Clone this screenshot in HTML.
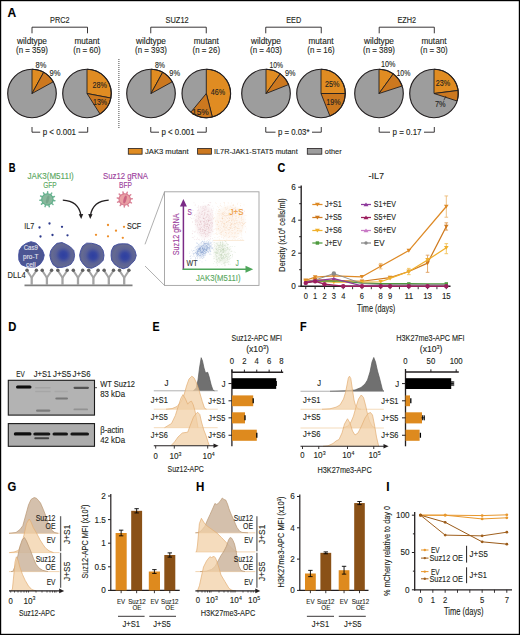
<!DOCTYPE html>
<html><head><meta charset="utf-8"><style>
html,body{margin:0;padding:0;background:#fff;width:520px;height:635px;overflow:hidden}
svg{display:block}
text{font-family:"Liberation Sans", sans-serif}
</style></head><body>
<svg width="520" height="635" viewBox="0 0 520 635">
<rect x="0" y="0" width="520" height="635" fill="#fff"/>
<text x="7.60" y="16.72" font-size="12" fill="#000" font-weight="bold" textLength="8.70" lengthAdjust="spacingAndGlyphs"  stroke="#000" stroke-width="0.12">A</text>
<text x="50.00" y="23.22" font-size="8.4" fill="#231f20" font-weight="normal" textLength="19.50" lengthAdjust="spacingAndGlyphs"  stroke="#231f20" stroke-width="0.12">PRC2</text>
<polyline points="32.00,33.30 32.00,27.20 87.50,27.20 87.50,33.30" fill="none" stroke="#231f20" stroke-width="0.9" />
<text x="17.00" y="43.55" font-size="8.2" fill="#231f20" font-weight="normal" textLength="30.00" lengthAdjust="spacingAndGlyphs"  stroke="#231f20" stroke-width="0.12">wildtype</text>
<text x="16.00" y="52.95" font-size="8.2" fill="#231f20" font-weight="normal" textLength="32.00" lengthAdjust="spacingAndGlyphs"  stroke="#231f20" stroke-width="0.12">(n = 359)</text>
<text x="74.50" y="43.55" font-size="8.2" fill="#231f20" font-weight="normal" textLength="25.00" lengthAdjust="spacingAndGlyphs"  stroke="#231f20" stroke-width="0.12">mutant</text>
<text x="73.25" y="52.95" font-size="8.2" fill="#231f20" font-weight="normal" textLength="27.50" lengthAdjust="spacingAndGlyphs"  stroke="#231f20" stroke-width="0.12">(n = 60)</text>
<circle cx="32" cy="93.5" r="24.3" fill="#9d9d9d"/>
<path d="M32,93.5 L32.00,69.20 A24.3,24.3 0 0 1 43.71,72.21 Z" fill="#e08c22" stroke="#231f20" stroke-width="0.9" stroke-linejoin="round"/>
<path d="M32,93.5 L43.71,72.21 A24.3,24.3 0 0 1 53.29,81.79 Z" fill="#cc781f" stroke="#231f20" stroke-width="0.9" stroke-linejoin="round"/>
<circle cx="32" cy="93.5" r="24.3" fill="none" stroke="#231f20" stroke-width="1.15"/>
<circle cx="87" cy="93.5" r="24.3" fill="#9d9d9d"/>
<path d="M87,93.5 L87.00,69.20 A24.3,24.3 0 0 1 110.87,98.05 Z" fill="#e08c22" stroke="#231f20" stroke-width="0.9" stroke-linejoin="round"/>
<path d="M87,93.5 L110.87,98.05 A24.3,24.3 0 0 1 100.02,114.02 Z" fill="#cc781f" stroke="#231f20" stroke-width="0.9" stroke-linejoin="round"/>
<circle cx="87" cy="93.5" r="24.3" fill="none" stroke="#231f20" stroke-width="1.15"/>
<text x="165.50" y="23.22" font-size="8.4" fill="#231f20" font-weight="normal" textLength="23.25" lengthAdjust="spacingAndGlyphs"  stroke="#231f20" stroke-width="0.12">SUZ12</text>
<polyline points="150.75,33.30 150.75,27.20 206.25,27.20 206.25,33.30" fill="none" stroke="#231f20" stroke-width="0.9" />
<text x="136.00" y="43.55" font-size="8.2" fill="#231f20" font-weight="normal" textLength="30.00" lengthAdjust="spacingAndGlyphs"  stroke="#231f20" stroke-width="0.12">wildtype</text>
<text x="135.00" y="52.95" font-size="8.2" fill="#231f20" font-weight="normal" textLength="32.00" lengthAdjust="spacingAndGlyphs"  stroke="#231f20" stroke-width="0.12">(n = 393)</text>
<text x="193.80" y="43.55" font-size="8.2" fill="#231f20" font-weight="normal" textLength="25.00" lengthAdjust="spacingAndGlyphs"  stroke="#231f20" stroke-width="0.12">mutant</text>
<text x="192.55" y="52.95" font-size="8.2" fill="#231f20" font-weight="normal" textLength="27.50" lengthAdjust="spacingAndGlyphs"  stroke="#231f20" stroke-width="0.12">(n = 26)</text>
<circle cx="151" cy="93.5" r="24.3" fill="#9d9d9d"/>
<path d="M151,93.5 L151.00,69.20 A24.3,24.3 0 0 1 162.71,72.21 Z" fill="#e08c22" stroke="#231f20" stroke-width="0.9" stroke-linejoin="round"/>
<path d="M151,93.5 L162.71,72.21 A24.3,24.3 0 0 1 172.29,81.79 Z" fill="#cc781f" stroke="#231f20" stroke-width="0.9" stroke-linejoin="round"/>
<circle cx="151" cy="93.5" r="24.3" fill="none" stroke="#231f20" stroke-width="1.15"/>
<circle cx="206.3" cy="93.5" r="24.3" fill="#9d9d9d"/>
<path d="M206.3,93.5 L206.30,69.20 A24.3,24.3 0 0 1 212.34,117.04 Z" fill="#e08c22" stroke="#231f20" stroke-width="0.9" stroke-linejoin="round"/>
<path d="M206.3,93.5 L212.34,117.04 A24.3,24.3 0 0 1 190.81,112.22 Z" fill="#cc781f" stroke="#231f20" stroke-width="0.9" stroke-linejoin="round"/>
<circle cx="206.3" cy="93.5" r="24.3" fill="none" stroke="#231f20" stroke-width="1.15"/>
<text x="286.25" y="23.22" font-size="8.4" fill="#231f20" font-weight="normal" textLength="15.00" lengthAdjust="spacingAndGlyphs"  stroke="#231f20" stroke-width="0.12">EED</text>
<polyline points="265.75,33.30 265.75,27.20 321.25,27.20 321.25,33.30" fill="none" stroke="#231f20" stroke-width="0.9" />
<text x="251.00" y="43.55" font-size="8.2" fill="#231f20" font-weight="normal" textLength="30.00" lengthAdjust="spacingAndGlyphs"  stroke="#231f20" stroke-width="0.12">wildtype</text>
<text x="250.00" y="52.95" font-size="8.2" fill="#231f20" font-weight="normal" textLength="32.00" lengthAdjust="spacingAndGlyphs"  stroke="#231f20" stroke-width="0.12">(n = 403)</text>
<text x="308.50" y="43.55" font-size="8.2" fill="#231f20" font-weight="normal" textLength="25.00" lengthAdjust="spacingAndGlyphs"  stroke="#231f20" stroke-width="0.12">mutant</text>
<text x="307.25" y="52.95" font-size="8.2" fill="#231f20" font-weight="normal" textLength="27.50" lengthAdjust="spacingAndGlyphs"  stroke="#231f20" stroke-width="0.12">(n = 16)</text>
<circle cx="266" cy="93.5" r="24.3" fill="#9d9d9d"/>
<path d="M266,93.5 L266.00,69.20 A24.3,24.3 0 0 1 280.28,73.84 Z" fill="#e08c22" stroke="#231f20" stroke-width="0.9" stroke-linejoin="round"/>
<path d="M266,93.5 L280.28,73.84 A24.3,24.3 0 0 1 288.59,84.55 Z" fill="#cc781f" stroke="#231f20" stroke-width="0.9" stroke-linejoin="round"/>
<circle cx="266" cy="93.5" r="24.3" fill="none" stroke="#231f20" stroke-width="1.15"/>
<circle cx="321" cy="93.5" r="24.3" fill="#9d9d9d"/>
<path d="M321,93.5 L321.00,69.20 A24.3,24.3 0 0 1 345.30,93.50 Z" fill="#e08c22" stroke="#231f20" stroke-width="0.9" stroke-linejoin="round"/>
<path d="M321,93.5 L345.30,93.50 A24.3,24.3 0 0 1 329.95,116.09 Z" fill="#cc781f" stroke="#231f20" stroke-width="0.9" stroke-linejoin="round"/>
<circle cx="321" cy="93.5" r="24.3" fill="none" stroke="#231f20" stroke-width="1.15"/>
<text x="397.40" y="23.22" font-size="8.4" fill="#231f20" font-weight="normal" textLength="18.70" lengthAdjust="spacingAndGlyphs"  stroke="#231f20" stroke-width="0.12">EZH2</text>
<polyline points="379.20,33.30 379.20,27.20 434.30,27.20 434.30,33.30" fill="none" stroke="#231f20" stroke-width="0.9" />
<text x="364.00" y="43.55" font-size="8.2" fill="#231f20" font-weight="normal" textLength="30.00" lengthAdjust="spacingAndGlyphs"  stroke="#231f20" stroke-width="0.12">wildtype</text>
<text x="363.00" y="52.95" font-size="8.2" fill="#231f20" font-weight="normal" textLength="32.00" lengthAdjust="spacingAndGlyphs"  stroke="#231f20" stroke-width="0.12">(n = 389)</text>
<text x="421.50" y="43.55" font-size="8.2" fill="#231f20" font-weight="normal" textLength="25.00" lengthAdjust="spacingAndGlyphs"  stroke="#231f20" stroke-width="0.12">mutant</text>
<text x="420.25" y="52.95" font-size="8.2" fill="#231f20" font-weight="normal" textLength="27.50" lengthAdjust="spacingAndGlyphs"  stroke="#231f20" stroke-width="0.12">(n = 30)</text>
<circle cx="379" cy="93.5" r="24.3" fill="#9d9d9d"/>
<path d="M379,93.5 L379.00,69.20 A24.3,24.3 0 0 1 393.28,73.84 Z" fill="#e08c22" stroke="#231f20" stroke-width="0.9" stroke-linejoin="round"/>
<path d="M379,93.5 L393.28,73.84 A24.3,24.3 0 0 1 402.11,85.99 Z" fill="#cc781f" stroke="#231f20" stroke-width="0.9" stroke-linejoin="round"/>
<circle cx="379" cy="93.5" r="24.3" fill="none" stroke="#231f20" stroke-width="1.15"/>
<circle cx="434" cy="93.5" r="24.3" fill="#9d9d9d"/>
<path d="M434,93.5 L434.00,69.20 A24.3,24.3 0 0 1 458.11,90.45 Z" fill="#e08c22" stroke="#231f20" stroke-width="0.9" stroke-linejoin="round"/>
<path d="M434,93.5 L458.11,90.45 A24.3,24.3 0 0 1 457.11,101.01 Z" fill="#cc781f" stroke="#231f20" stroke-width="0.9" stroke-linejoin="round"/>
<circle cx="434" cy="93.5" r="24.3" fill="none" stroke="#231f20" stroke-width="1.15"/>
<text x="35.50" y="67.54" font-size="9" fill="#231f20" font-weight="normal" textLength="10.75" lengthAdjust="spacingAndGlyphs"  stroke="#231f20" stroke-width="0.12">8%</text>
<text x="49.50" y="75.74" font-size="9" fill="#231f20" font-weight="normal" textLength="11.00" lengthAdjust="spacingAndGlyphs"  stroke="#231f20" stroke-width="0.12">9%</text>
<text x="92.50" y="87.54" font-size="9" fill="#231f20" font-weight="normal" textLength="14.50" lengthAdjust="spacingAndGlyphs"  stroke="#231f20" stroke-width="0.12">28%</text>
<text x="93.00" y="104.54" font-size="9" fill="#231f20" font-weight="normal" textLength="14.00" lengthAdjust="spacingAndGlyphs"  stroke="#231f20" stroke-width="0.12">13%</text>
<text x="155.00" y="67.54" font-size="9" fill="#231f20" font-weight="normal" textLength="10.00" lengthAdjust="spacingAndGlyphs"  stroke="#231f20" stroke-width="0.12">8%</text>
<text x="169.25" y="75.74" font-size="9" fill="#231f20" font-weight="normal" textLength="10.75" lengthAdjust="spacingAndGlyphs"  stroke="#231f20" stroke-width="0.12">9%</text>
<text x="210.75" y="94.54" font-size="9" fill="#231f20" font-weight="normal" textLength="14.25" lengthAdjust="spacingAndGlyphs"  stroke="#231f20" stroke-width="0.12">46%</text>
<text x="192.00" y="114.54" font-size="9" fill="#231f20" font-weight="normal" textLength="16.75" lengthAdjust="spacingAndGlyphs"  stroke="#231f20" stroke-width="0.12">15%</text>
<text x="269.50" y="67.54" font-size="9" fill="#231f20" font-weight="normal" textLength="13.50" lengthAdjust="spacingAndGlyphs"  stroke="#231f20" stroke-width="0.12">10%</text>
<text x="285.00" y="75.74" font-size="9" fill="#231f20" font-weight="normal" textLength="10.50" lengthAdjust="spacingAndGlyphs"  stroke="#231f20" stroke-width="0.12">9%</text>
<text x="325.00" y="87.04" font-size="9" fill="#231f20" font-weight="normal" textLength="14.50" lengthAdjust="spacingAndGlyphs"  stroke="#231f20" stroke-width="0.12">25%</text>
<text x="326.25" y="105.24" font-size="9" fill="#231f20" font-weight="normal" textLength="14.25" lengthAdjust="spacingAndGlyphs"  stroke="#231f20" stroke-width="0.12">19%</text>
<text x="381.00" y="67.04" font-size="9" fill="#231f20" font-weight="normal" textLength="14.40" lengthAdjust="spacingAndGlyphs"  stroke="#231f20" stroke-width="0.12">10%</text>
<text x="396.50" y="75.74" font-size="9" fill="#231f20" font-weight="normal" textLength="13.90" lengthAdjust="spacingAndGlyphs"  stroke="#231f20" stroke-width="0.12">10%</text>
<text x="435.80" y="85.54" font-size="9" fill="#231f20" font-weight="normal" textLength="14.40" lengthAdjust="spacingAndGlyphs"  stroke="#231f20" stroke-width="0.12">23%</text>
<text x="434.90" y="107.44" font-size="9" fill="#231f20" font-weight="normal" textLength="10.70" lengthAdjust="spacingAndGlyphs"  stroke="#231f20" stroke-width="0.12">7%</text>
<line x1="443.80" y1="100.30" x2="446.00" y2="96.00" stroke="#231f20" stroke-width="0.7" />
<line x1="118.90" y1="59.00" x2="118.90" y2="128.70" stroke="#333" stroke-width="0.9" stroke-dasharray="1 1"/>
<polyline points="32.00,127.00 32.00,132.20 40.20,132.20" fill="none" stroke="#231f20" stroke-width="0.9" />
<polyline points="78.50,132.20 87.70,132.20 87.70,127.00" fill="none" stroke="#231f20" stroke-width="0.9" />
<text x="42.70" y="135.15" font-size="8.2" fill="#231f20" font-weight="normal" textLength="33.30" lengthAdjust="spacingAndGlyphs"  stroke="#231f20" stroke-width="0.12">p &lt; 0.001</text>
<polyline points="150.75,127.00 150.75,132.20 159.00,132.20" fill="none" stroke="#231f20" stroke-width="0.9" />
<polyline points="197.00,132.20 206.25,132.20 206.25,127.00" fill="none" stroke="#231f20" stroke-width="0.9" />
<text x="161.50" y="135.15" font-size="8.2" fill="#231f20" font-weight="normal" textLength="33.00" lengthAdjust="spacingAndGlyphs"  stroke="#231f20" stroke-width="0.12">p &lt; 0.001</text>
<polyline points="265.75,127.00 265.75,132.20 275.50,132.20" fill="none" stroke="#231f20" stroke-width="0.9" />
<polyline points="312.00,132.20 321.25,132.20 321.25,127.00" fill="none" stroke="#231f20" stroke-width="0.9" />
<text x="278.00" y="135.15" font-size="8.2" fill="#231f20" font-weight="normal" textLength="31.50" lengthAdjust="spacingAndGlyphs"  stroke="#231f20" stroke-width="0.12">p = 0.03*</text>
<polyline points="379.20,127.00 379.20,132.20 390.00,132.20" fill="none" stroke="#231f20" stroke-width="0.9" />
<polyline points="424.00,132.20 434.30,132.20 434.30,127.00" fill="none" stroke="#231f20" stroke-width="0.9" />
<text x="392.50" y="135.15" font-size="8.2" fill="#231f20" font-weight="normal" textLength="29.00" lengthAdjust="spacingAndGlyphs"  stroke="#231f20" stroke-width="0.12">p = 0.17</text>
<rect x="128.30" y="148.40" width="13.80" height="5.80" fill="#e08c22" stroke="#231f20" stroke-width="0.8" />
<text x="145.00" y="154.38" font-size="8" fill="#231f20" font-weight="normal" textLength="43.60" lengthAdjust="spacingAndGlyphs"  stroke="#231f20" stroke-width="0.12">JAK3 mutant</text>
<rect x="197.60" y="148.40" width="13.80" height="5.80" fill="#cc781f" stroke="#231f20" stroke-width="0.8" />
<text x="214.00" y="154.38" font-size="8" fill="#231f20" font-weight="normal" textLength="83.70" lengthAdjust="spacingAndGlyphs"  stroke="#231f20" stroke-width="0.12">IL7R-JAK1-STAT5 mutant</text>
<rect x="307.30" y="148.40" width="14.50" height="5.80" fill="#9d9d9d" stroke="#231f20" stroke-width="0.8" />
<text x="324.80" y="154.38" font-size="8" fill="#231f20" font-weight="normal" textLength="16.80" lengthAdjust="spacingAndGlyphs"  stroke="#231f20" stroke-width="0.12">other</text>
<text x="8.80" y="171.92" font-size="12" fill="#000" font-weight="bold" textLength="6.80" lengthAdjust="spacingAndGlyphs"  stroke="#000" stroke-width="0.12">B</text>
<text x="27.50" y="178.52" font-size="8.4" fill="#5aa860" font-weight="normal" textLength="46.30" lengthAdjust="spacingAndGlyphs"  stroke="#5aa860" stroke-width="0.12">JAK3(M511I)</text>
<text x="43.25" y="187.52" font-size="8.4" fill="#5aa860" font-weight="normal" textLength="13.50" lengthAdjust="spacingAndGlyphs"  stroke="#5aa860" stroke-width="0.12">GFP</text>
<text x="103.00" y="178.52" font-size="8.4" fill="#9c3d9c" font-weight="normal" textLength="45.00" lengthAdjust="spacingAndGlyphs"  stroke="#9c3d9c" stroke-width="0.12">Suz12 gRNA</text>
<text x="119.00" y="187.52" font-size="8.4" fill="#9c3d9c" font-weight="normal" textLength="13.00" lengthAdjust="spacingAndGlyphs"  stroke="#9c3d9c" stroke-width="0.12">BFP</text>
<line x1="52.32" y1="200.27" x2="54.88" y2="200.72" stroke="#5fae8a" stroke-width="1.5" stroke-linecap="round" opacity="0.9"/>
<line x1="51.07" y1="202.79" x2="52.98" y2="204.56" stroke="#5fae8a" stroke-width="1.5" stroke-linecap="round" opacity="0.9"/>
<line x1="48.66" y1="204.24" x2="49.31" y2="206.76" stroke="#5fae8a" stroke-width="1.5" stroke-linecap="round" opacity="0.9"/>
<line x1="45.84" y1="204.15" x2="45.03" y2="206.62" stroke="#5fae8a" stroke-width="1.5" stroke-linecap="round" opacity="0.9"/>
<line x1="43.52" y1="202.55" x2="41.50" y2="204.19" stroke="#5fae8a" stroke-width="1.5" stroke-linecap="round" opacity="0.9"/>
<line x1="42.43" y1="199.95" x2="39.85" y2="200.24" stroke="#5fae8a" stroke-width="1.5" stroke-linecap="round" opacity="0.9"/>
<line x1="42.92" y1="197.18" x2="40.59" y2="196.03" stroke="#5fae8a" stroke-width="1.5" stroke-linecap="round" opacity="0.9"/>
<line x1="44.83" y1="195.11" x2="43.50" y2="192.88" stroke="#5fae8a" stroke-width="1.5" stroke-linecap="round" opacity="0.9"/>
<line x1="47.56" y1="194.40" x2="47.64" y2="191.80" stroke="#5fae8a" stroke-width="1.5" stroke-linecap="round" opacity="0.9"/>
<line x1="50.24" y1="195.28" x2="51.71" y2="193.14" stroke="#5fae8a" stroke-width="1.5" stroke-linecap="round" opacity="0.9"/>
<line x1="52.01" y1="197.47" x2="54.41" y2="196.46" stroke="#5fae8a" stroke-width="1.5" stroke-linecap="round" opacity="0.9"/>
<circle cx="47.4" cy="199.4" r="5.7" fill="#88b89c" stroke="#5fae8a" stroke-width="1.1"/>
<ellipse cx="47.699999999999996" cy="199.4" rx="1.4" ry="4.2" fill="#6a9a80" opacity="0.6" transform="rotate(15 47.4 199.4)"/>
<line x1="129.68" y1="198.96" x2="132.27" y2="198.74" stroke="#d6788e" stroke-width="1.5" stroke-linecap="round" opacity="0.9"/>
<line x1="129.13" y1="201.73" x2="131.43" y2="202.94" stroke="#d6788e" stroke-width="1.5" stroke-linecap="round" opacity="0.9"/>
<line x1="127.17" y1="203.75" x2="128.45" y2="206.01" stroke="#d6788e" stroke-width="1.5" stroke-linecap="round" opacity="0.9"/>
<line x1="124.42" y1="204.39" x2="124.28" y2="206.99" stroke="#d6788e" stroke-width="1.5" stroke-linecap="round" opacity="0.9"/>
<line x1="121.77" y1="203.45" x2="120.24" y2="205.56" stroke="#d6788e" stroke-width="1.5" stroke-linecap="round" opacity="0.9"/>
<line x1="120.04" y1="201.22" x2="117.62" y2="202.17" stroke="#d6788e" stroke-width="1.5" stroke-linecap="round" opacity="0.9"/>
<line x1="119.80" y1="198.41" x2="117.25" y2="197.90" stroke="#d6788e" stroke-width="1.5" stroke-linecap="round" opacity="0.9"/>
<line x1="121.11" y1="195.92" x2="119.24" y2="194.11" stroke="#d6788e" stroke-width="1.5" stroke-linecap="round" opacity="0.9"/>
<line x1="123.56" y1="194.53" x2="122.97" y2="192.00" stroke="#d6788e" stroke-width="1.5" stroke-linecap="round" opacity="0.9"/>
<line x1="126.37" y1="194.69" x2="127.24" y2="192.24" stroke="#d6788e" stroke-width="1.5" stroke-linecap="round" opacity="0.9"/>
<line x1="128.65" y1="196.34" x2="130.71" y2="194.75" stroke="#d6788e" stroke-width="1.5" stroke-linecap="round" opacity="0.9"/>
<circle cx="124.7" cy="199.4" r="5.7" fill="#e9a0a4" stroke="#d6788e" stroke-width="1.1"/>
<ellipse cx="125.0" cy="199.4" rx="1.4" ry="4.2" fill="#b83a6a" opacity="0.6" transform="rotate(15 124.7 199.4)"/>
<path d="M62.8,200.2 Q78.5,201 81,215.5" fill="none" stroke="#231f20" stroke-width="1.3"/>
<polygon points="78.80,214.20 83.20,214.00 81.20,219.00" fill="#231f20" stroke="none" stroke-width="1" />
<path d="M108.7,200.2 Q93,201 90.4,215.5" fill="none" stroke="#231f20" stroke-width="1.3"/>
<polygon points="88.20,214.00 92.60,214.20 90.20,219.00" fill="#231f20" stroke="none" stroke-width="1" />
<text x="24.20" y="228.52" font-size="8.4" fill="#231f20" font-weight="normal" textLength="10.00" lengthAdjust="spacingAndGlyphs"  stroke="#231f20" stroke-width="0.12">IL7</text>
<text x="126.90" y="228.82" font-size="8.4" fill="#231f20" font-weight="normal" textLength="14.30" lengthAdjust="spacingAndGlyphs"  stroke="#231f20" stroke-width="0.12">SCF</text>
<circle cx="39.5" cy="227.5" r="1.15" fill="#2d3a8c"/>
<circle cx="49.5" cy="223.5" r="1.15" fill="#2d3a8c"/>
<circle cx="62" cy="226.8" r="1.15" fill="#2d3a8c"/>
<circle cx="40.5" cy="236.5" r="1.15" fill="#2d3a8c"/>
<circle cx="52.5" cy="235" r="1.15" fill="#2d3a8c"/>
<circle cx="67.5" cy="235.3" r="1.15" fill="#2d3a8c"/>
<circle cx="108" cy="225" r="1.15" fill="#ee8f2a"/>
<circle cx="124" cy="226.8" r="1.15" fill="#ee8f2a"/>
<circle cx="116" cy="230.7" r="1.15" fill="#ee8f2a"/>
<circle cx="96" cy="234.8" r="1.15" fill="#ee8f2a"/>
<circle cx="108" cy="236.3" r="1.15" fill="#ee8f2a"/>
<circle cx="122.8" cy="237.8" r="1.15" fill="#ee8f2a"/>
<defs>
<radialGradient id="cellg" cx="0.55" cy="0.5" r="0.5">
<stop offset="0" stop-color="#2e3fa0"/>
<stop offset="0.28" stop-color="#3646a0"/>
<stop offset="0.6" stop-color="#5a6196"/>
<stop offset="0.9" stop-color="#656a90"/>
<stop offset="1" stop-color="#5f6593"/>
</radialGradient>
<filter id="blur1" x="-20%" y="-20%" width="140%" height="140%"><feGaussianBlur stdDeviation="1.2"/></filter>
</defs>
<path d="M44.27,255.10 L43.00,260.03 L40.17,264.20 L35.92,266.88 L31.00,267.10 L26.20,266.60 L21.36,264.66 L18.88,260.08 L18.67,255.10 L19.35,250.31 L22.07,246.24 L26.12,243.41 L31.00,241.70 L36.00,243.13 L39.46,246.70 L42.53,250.36 Z" fill="#4c5693" stroke="#3d4a9c" stroke-width="0.9" stroke-linejoin="round"/>
<path d="M74.59,255.40 L73.66,260.23 L70.89,264.29 L66.50,266.25 L62.00,267.37 L56.98,267.51 L52.92,264.48 L50.87,260.01 L49.79,255.40 L50.74,250.74 L53.35,246.75 L57.00,243.34 L62.00,242.57 L66.47,244.60 L70.46,246.94 L73.78,250.52 Z" fill="url(#cellg)" stroke="#3d4a9c" stroke-width="0.9" stroke-linejoin="round"/>
<path d="M104.00,255.30 L103.18,260.21 L99.88,263.79 L96.02,266.22 L91.60,268.29 L86.70,267.42 L83.11,264.00 L80.51,260.01 L79.60,255.30 L80.63,250.65 L82.63,246.11 L86.68,243.13 L91.60,243.29 L96.04,244.32 L100.36,246.32 L103.05,250.44 Z" fill="url(#cellg)" stroke="#3d4a9c" stroke-width="0.9" stroke-linejoin="round"/>
<path d="M136.26,255.50 L134.69,260.22 L131.51,263.74 L128.05,267.13 L123.20,268.74 L118.36,267.09 L114.44,264.19 L111.69,260.23 L111.06,255.50 L111.41,250.66 L113.69,246.06 L118.41,244.03 L123.20,243.74 L128.01,243.99 L132.26,246.52 L134.97,250.66 Z" fill="url(#cellg)" stroke="#3d4a9c" stroke-width="0.9" stroke-linejoin="round"/>
<text x="23.70" y="250.39" font-size="7.2" fill="#e4e4ee" font-weight="normal" textLength="14.20" lengthAdjust="spacingAndGlyphs"  stroke="#e4e4ee" stroke-width="0.12">Cas9</text>
<text x="23.10" y="259.09" font-size="7.2" fill="#e4e4ee" font-weight="normal" textLength="15.40" lengthAdjust="spacingAndGlyphs"  stroke="#e4e4ee" stroke-width="0.12">pro-T</text>
<text x="25.90" y="267.09" font-size="7.2" fill="#e4e4ee" font-weight="normal" textLength="9.80" lengthAdjust="spacingAndGlyphs"  stroke="#e4e4ee" stroke-width="0.12">cell</text>
<text x="7.60" y="277.62" font-size="8.4" fill="#231f20" font-weight="normal" textLength="18.00" lengthAdjust="spacingAndGlyphs"  stroke="#231f20" stroke-width="0.12">DLL4</text>
<line x1="24.50" y1="285.30" x2="132.50" y2="285.30" stroke="#808080" stroke-width="1.7" />
<line x1="31.70" y1="285.00" x2="31.70" y2="276.50" stroke="#a4a4a4" stroke-width="2.3" />
<polyline points="27.00,270.60 31.40,277.20 32.00,277.20 36.40,270.60" fill="none" stroke="#a4a4a4" stroke-width="2.0" stroke-linejoin="round"/>
<circle cx="27.00" cy="270.2" r="1.75" fill="#606060"/>
<circle cx="36.40" cy="270.2" r="1.75" fill="#606060"/>
<line x1="46.90" y1="285.00" x2="46.90" y2="276.50" stroke="#a4a4a4" stroke-width="2.3" />
<polyline points="42.20,270.60 46.60,277.20 47.20,277.20 51.60,270.60" fill="none" stroke="#a4a4a4" stroke-width="2.0" stroke-linejoin="round"/>
<circle cx="42.20" cy="270.2" r="1.75" fill="#606060"/>
<circle cx="51.60" cy="270.2" r="1.75" fill="#606060"/>
<line x1="62.50" y1="285.00" x2="62.50" y2="276.50" stroke="#a4a4a4" stroke-width="2.3" />
<polyline points="57.80,270.60 62.20,277.20 62.80,277.20 67.20,270.60" fill="none" stroke="#a4a4a4" stroke-width="2.0" stroke-linejoin="round"/>
<circle cx="57.80" cy="270.2" r="1.75" fill="#606060"/>
<circle cx="67.20" cy="270.2" r="1.75" fill="#606060"/>
<line x1="78.00" y1="285.00" x2="78.00" y2="276.50" stroke="#a4a4a4" stroke-width="2.3" />
<polyline points="73.30,270.60 77.70,277.20 78.30,277.20 82.70,270.60" fill="none" stroke="#a4a4a4" stroke-width="2.0" stroke-linejoin="round"/>
<circle cx="73.30" cy="270.2" r="1.75" fill="#606060"/>
<circle cx="82.70" cy="270.2" r="1.75" fill="#606060"/>
<line x1="93.40" y1="285.00" x2="93.40" y2="276.50" stroke="#a4a4a4" stroke-width="2.3" />
<polyline points="88.70,270.60 93.10,277.20 93.70,277.20 98.10,270.60" fill="none" stroke="#a4a4a4" stroke-width="2.0" stroke-linejoin="round"/>
<circle cx="88.70" cy="270.2" r="1.75" fill="#606060"/>
<circle cx="98.10" cy="270.2" r="1.75" fill="#606060"/>
<line x1="108.80" y1="285.00" x2="108.80" y2="276.50" stroke="#a4a4a4" stroke-width="2.3" />
<polyline points="104.10,270.60 108.50,277.20 109.10,277.20 113.50,270.60" fill="none" stroke="#a4a4a4" stroke-width="2.0" stroke-linejoin="round"/>
<circle cx="104.10" cy="270.2" r="1.75" fill="#606060"/>
<circle cx="113.50" cy="270.2" r="1.75" fill="#606060"/>
<line x1="124.20" y1="285.00" x2="124.20" y2="276.50" stroke="#a4a4a4" stroke-width="2.3" />
<polyline points="119.50,270.60 123.90,277.20 124.50,277.20 128.90,270.60" fill="none" stroke="#a4a4a4" stroke-width="2.0" stroke-linejoin="round"/>
<circle cx="119.50" cy="270.2" r="1.75" fill="#606060"/>
<circle cx="128.90" cy="270.2" r="1.75" fill="#606060"/>
<polyline points="164.50,191.80 145.00,244.30" fill="none" stroke="#9a9a9a" stroke-width="0.8" />
<polyline points="145.00,266.00 164.50,285.40" fill="none" stroke="#9a9a9a" stroke-width="0.8" />
<rect x="164.50" y="191.80" width="94.50" height="93.60" fill="none" stroke="#a0a0a0" stroke-width="0.9" />
<defs><clipPath id="qS"><rect x="190" y="202" width="23.3" height="38.4"/></clipPath><clipPath id="qJS"><rect x="213.3" y="202" width="33" height="38.4"/></clipPath><clipPath id="qWT"><rect x="188" y="240.4" width="25.3" height="22"/></clipPath><clipPath id="qJ"><rect x="213.3" y="240.4" width="24" height="26"/></clipPath></defs>
<g clip-path="url(#qS)">
<ellipse cx="205" cy="222" rx="9.75" ry="16.5" fill="#f0d8dc" opacity="0.35" filter="url(#blur1)" transform="rotate(0 205 222)"/>
<circle cx="203.3" cy="227.6" r="0.38" fill="#c88894" opacity="0.38"/>
<circle cx="203.5" cy="218.5" r="0.38" fill="#c88894" opacity="0.38"/>
<circle cx="199.0" cy="219.7" r="0.38" fill="#c88894" opacity="0.38"/>
<circle cx="212.2" cy="226.7" r="0.38" fill="#c88894" opacity="0.38"/>
<circle cx="211.7" cy="224.7" r="0.38" fill="#c88894" opacity="0.38"/>
<circle cx="207.6" cy="224.0" r="0.38" fill="#c88894" opacity="0.38"/>
<circle cx="194.2" cy="231.4" r="0.38" fill="#c88894" opacity="0.38"/>
<circle cx="208.3" cy="227.5" r="0.38" fill="#c88894" opacity="0.38"/>
<circle cx="194.0" cy="202.8" r="0.38" fill="#c88894" opacity="0.38"/>
<circle cx="199.2" cy="216.8" r="0.38" fill="#c88894" opacity="0.38"/>
<circle cx="207.0" cy="221.5" r="0.38" fill="#c88894" opacity="0.38"/>
<circle cx="208.4" cy="214.9" r="0.38" fill="#c88894" opacity="0.38"/>
<circle cx="207.0" cy="226.3" r="0.38" fill="#c88894" opacity="0.38"/>
<circle cx="200.7" cy="240.9" r="0.38" fill="#c88894" opacity="0.38"/>
<circle cx="208.6" cy="235.2" r="0.38" fill="#c88894" opacity="0.38"/>
<circle cx="201.0" cy="213.9" r="0.38" fill="#c88894" opacity="0.38"/>
<circle cx="202.8" cy="220.8" r="0.38" fill="#c88894" opacity="0.38"/>
<circle cx="209.1" cy="224.7" r="0.38" fill="#c88894" opacity="0.38"/>
<circle cx="202.1" cy="211.5" r="0.38" fill="#c88894" opacity="0.38"/>
<circle cx="201.6" cy="235.4" r="0.38" fill="#c88894" opacity="0.38"/>
<circle cx="199.7" cy="224.7" r="0.38" fill="#c88894" opacity="0.38"/>
<circle cx="207.8" cy="205.6" r="0.38" fill="#c88894" opacity="0.38"/>
<circle cx="205.3" cy="236.4" r="0.38" fill="#c88894" opacity="0.38"/>
<circle cx="191.9" cy="218.5" r="0.38" fill="#c88894" opacity="0.38"/>
<circle cx="204.3" cy="213.0" r="0.38" fill="#c88894" opacity="0.38"/>
<circle cx="208.2" cy="221.3" r="0.38" fill="#c88894" opacity="0.38"/>
<circle cx="195.5" cy="231.1" r="0.38" fill="#c88894" opacity="0.38"/>
<circle cx="209.4" cy="232.4" r="0.38" fill="#c88894" opacity="0.38"/>
<circle cx="214.4" cy="226.0" r="0.38" fill="#c88894" opacity="0.38"/>
<circle cx="205.8" cy="207.7" r="0.38" fill="#c88894" opacity="0.38"/>
<circle cx="209.0" cy="215.3" r="0.38" fill="#c88894" opacity="0.38"/>
<circle cx="202.1" cy="208.1" r="0.38" fill="#c88894" opacity="0.38"/>
<circle cx="198.7" cy="216.2" r="0.38" fill="#c88894" opacity="0.38"/>
<circle cx="213.4" cy="199.7" r="0.38" fill="#c88894" opacity="0.38"/>
<circle cx="195.5" cy="224.6" r="0.38" fill="#c88894" opacity="0.38"/>
<circle cx="214.4" cy="228.4" r="0.38" fill="#c88894" opacity="0.38"/>
<circle cx="192.7" cy="194.3" r="0.38" fill="#c88894" opacity="0.38"/>
<circle cx="207.3" cy="213.9" r="0.38" fill="#c88894" opacity="0.38"/>
<circle cx="197.7" cy="232.8" r="0.38" fill="#c88894" opacity="0.38"/>
<circle cx="212.2" cy="223.7" r="0.38" fill="#c88894" opacity="0.38"/>
<circle cx="206.6" cy="226.8" r="0.38" fill="#c88894" opacity="0.38"/>
<circle cx="215.4" cy="228.8" r="0.38" fill="#c88894" opacity="0.38"/>
<circle cx="208.4" cy="228.0" r="0.38" fill="#c88894" opacity="0.38"/>
<circle cx="194.8" cy="236.1" r="0.38" fill="#c88894" opacity="0.38"/>
<circle cx="211.2" cy="227.8" r="0.38" fill="#c88894" opacity="0.38"/>
<circle cx="192.2" cy="215.0" r="0.38" fill="#c88894" opacity="0.38"/>
<circle cx="210.5" cy="202.1" r="0.38" fill="#c88894" opacity="0.38"/>
<circle cx="203.8" cy="233.2" r="0.38" fill="#c88894" opacity="0.38"/>
<circle cx="196.5" cy="239.7" r="0.38" fill="#c88894" opacity="0.38"/>
<circle cx="208.6" cy="220.3" r="0.38" fill="#c88894" opacity="0.38"/>
<circle cx="207.1" cy="229.1" r="0.38" fill="#c88894" opacity="0.38"/>
<circle cx="205.8" cy="234.6" r="0.38" fill="#c88894" opacity="0.38"/>
<circle cx="200.7" cy="217.4" r="0.38" fill="#c88894" opacity="0.38"/>
<circle cx="211.8" cy="222.3" r="0.38" fill="#c88894" opacity="0.38"/>
<circle cx="199.3" cy="232.4" r="0.38" fill="#c88894" opacity="0.38"/>
<circle cx="214.5" cy="217.1" r="0.38" fill="#c88894" opacity="0.38"/>
<circle cx="196.0" cy="220.5" r="0.38" fill="#c88894" opacity="0.38"/>
<circle cx="204.0" cy="218.7" r="0.38" fill="#c88894" opacity="0.38"/>
<circle cx="214.1" cy="210.7" r="0.38" fill="#c88894" opacity="0.38"/>
<circle cx="213.2" cy="208.0" r="0.38" fill="#c88894" opacity="0.38"/>
<circle cx="199.9" cy="228.9" r="0.38" fill="#c88894" opacity="0.38"/>
<circle cx="212.3" cy="231.4" r="0.38" fill="#c88894" opacity="0.38"/>
<circle cx="207.2" cy="223.6" r="0.38" fill="#c88894" opacity="0.38"/>
<circle cx="206.0" cy="228.3" r="0.38" fill="#c88894" opacity="0.38"/>
<circle cx="203.9" cy="225.1" r="0.38" fill="#c88894" opacity="0.38"/>
<circle cx="208.7" cy="222.0" r="0.38" fill="#c88894" opacity="0.38"/>
<circle cx="210.0" cy="228.2" r="0.38" fill="#c88894" opacity="0.38"/>
<circle cx="218.1" cy="225.6" r="0.38" fill="#c88894" opacity="0.38"/>
<circle cx="202.2" cy="217.9" r="0.38" fill="#c88894" opacity="0.38"/>
<circle cx="204.9" cy="232.2" r="0.38" fill="#c88894" opacity="0.38"/>
<circle cx="202.8" cy="226.2" r="0.38" fill="#c88894" opacity="0.38"/>
<circle cx="216.9" cy="193.8" r="0.38" fill="#c88894" opacity="0.38"/>
<circle cx="197.7" cy="224.7" r="0.38" fill="#c88894" opacity="0.38"/>
<circle cx="207.6" cy="224.6" r="0.38" fill="#c88894" opacity="0.38"/>
<circle cx="202.2" cy="229.2" r="0.38" fill="#c88894" opacity="0.38"/>
<circle cx="206.8" cy="216.3" r="0.38" fill="#c88894" opacity="0.38"/>
<circle cx="220.8" cy="225.9" r="0.38" fill="#c88894" opacity="0.38"/>
<circle cx="201.4" cy="220.9" r="0.38" fill="#c88894" opacity="0.38"/>
<circle cx="203.5" cy="221.3" r="0.38" fill="#c88894" opacity="0.38"/>
<circle cx="187.3" cy="216.6" r="0.38" fill="#c88894" opacity="0.38"/>
<circle cx="211.6" cy="209.1" r="0.38" fill="#c88894" opacity="0.38"/>
<circle cx="204.6" cy="232.5" r="0.38" fill="#c88894" opacity="0.38"/>
<circle cx="210.6" cy="238.4" r="0.38" fill="#c88894" opacity="0.38"/>
<circle cx="193.9" cy="218.1" r="0.38" fill="#c88894" opacity="0.38"/>
<circle cx="202.8" cy="228.9" r="0.38" fill="#c88894" opacity="0.38"/>
<circle cx="212.1" cy="192.5" r="0.38" fill="#c88894" opacity="0.38"/>
<circle cx="212.1" cy="206.1" r="0.38" fill="#c88894" opacity="0.38"/>
<circle cx="209.4" cy="205.6" r="0.38" fill="#c88894" opacity="0.38"/>
<circle cx="206.1" cy="235.1" r="0.38" fill="#c88894" opacity="0.38"/>
<circle cx="204.0" cy="224.1" r="0.38" fill="#c88894" opacity="0.38"/>
<circle cx="210.2" cy="223.6" r="0.38" fill="#c88894" opacity="0.38"/>
<circle cx="204.4" cy="238.9" r="0.38" fill="#c88894" opacity="0.38"/>
<circle cx="211.8" cy="218.8" r="0.38" fill="#c88894" opacity="0.38"/>
<circle cx="222.8" cy="209.4" r="0.38" fill="#c88894" opacity="0.38"/>
<circle cx="210.9" cy="219.1" r="0.38" fill="#c88894" opacity="0.38"/>
<circle cx="205.9" cy="229.8" r="0.38" fill="#c88894" opacity="0.38"/>
<circle cx="206.4" cy="229.0" r="0.38" fill="#c88894" opacity="0.38"/>
<circle cx="195.1" cy="205.4" r="0.38" fill="#c88894" opacity="0.38"/>
<circle cx="209.0" cy="211.4" r="0.38" fill="#c88894" opacity="0.38"/>
<circle cx="198.3" cy="205.8" r="0.38" fill="#c88894" opacity="0.38"/>
<circle cx="213.2" cy="230.2" r="0.38" fill="#c88894" opacity="0.38"/>
<circle cx="214.6" cy="211.7" r="0.38" fill="#c88894" opacity="0.38"/>
<circle cx="205.0" cy="209.5" r="0.38" fill="#c88894" opacity="0.38"/>
<circle cx="210.0" cy="239.5" r="0.38" fill="#c88894" opacity="0.38"/>
<circle cx="199.2" cy="239.2" r="0.38" fill="#c88894" opacity="0.38"/>
<circle cx="211.4" cy="220.0" r="0.38" fill="#c88894" opacity="0.38"/>
<circle cx="192.2" cy="237.5" r="0.38" fill="#c88894" opacity="0.38"/>
<circle cx="204.4" cy="215.4" r="0.38" fill="#c88894" opacity="0.38"/>
<circle cx="207.6" cy="226.5" r="0.38" fill="#c88894" opacity="0.38"/>
<circle cx="214.7" cy="210.8" r="0.38" fill="#c88894" opacity="0.38"/>
<circle cx="212.4" cy="238.4" r="0.38" fill="#c88894" opacity="0.38"/>
<circle cx="214.4" cy="220.0" r="0.38" fill="#c88894" opacity="0.38"/>
<circle cx="200.2" cy="233.2" r="0.38" fill="#c88894" opacity="0.38"/>
<circle cx="205.7" cy="223.4" r="0.38" fill="#c88894" opacity="0.38"/>
<circle cx="214.3" cy="219.1" r="0.38" fill="#c88894" opacity="0.38"/>
<circle cx="190.1" cy="217.7" r="0.38" fill="#c88894" opacity="0.38"/>
<circle cx="192.9" cy="231.0" r="0.38" fill="#c88894" opacity="0.38"/>
<circle cx="207.1" cy="215.3" r="0.38" fill="#c88894" opacity="0.38"/>
<circle cx="204.9" cy="231.2" r="0.38" fill="#c88894" opacity="0.38"/>
<circle cx="205.5" cy="236.6" r="0.38" fill="#c88894" opacity="0.38"/>
<circle cx="204.6" cy="233.4" r="0.38" fill="#c88894" opacity="0.38"/>
<circle cx="214.7" cy="239.7" r="0.38" fill="#c88894" opacity="0.38"/>
<circle cx="200.6" cy="231.7" r="0.38" fill="#c88894" opacity="0.38"/>
<circle cx="192.8" cy="210.1" r="0.38" fill="#c88894" opacity="0.38"/>
<circle cx="192.2" cy="233.8" r="0.38" fill="#c88894" opacity="0.38"/>
<circle cx="197.0" cy="221.9" r="0.38" fill="#c88894" opacity="0.38"/>
<circle cx="203.8" cy="221.7" r="0.38" fill="#c88894" opacity="0.38"/>
<circle cx="201.2" cy="224.6" r="0.38" fill="#c88894" opacity="0.38"/>
<circle cx="216.6" cy="222.5" r="0.38" fill="#c88894" opacity="0.38"/>
<circle cx="208.5" cy="233.0" r="0.38" fill="#c88894" opacity="0.38"/>
<circle cx="203.7" cy="208.1" r="0.38" fill="#c88894" opacity="0.38"/>
<circle cx="201.4" cy="233.8" r="0.38" fill="#c88894" opacity="0.38"/>
<circle cx="194.3" cy="215.4" r="0.38" fill="#c88894" opacity="0.38"/>
<circle cx="211.5" cy="230.7" r="0.38" fill="#c88894" opacity="0.38"/>
<circle cx="205.0" cy="230.9" r="0.38" fill="#c88894" opacity="0.38"/>
<circle cx="206.1" cy="209.0" r="0.38" fill="#c88894" opacity="0.38"/>
<circle cx="194.8" cy="215.0" r="0.38" fill="#c88894" opacity="0.38"/>
<circle cx="211.0" cy="215.8" r="0.38" fill="#c88894" opacity="0.38"/>
<circle cx="199.1" cy="213.5" r="0.38" fill="#c88894" opacity="0.38"/>
<circle cx="195.0" cy="220.7" r="0.38" fill="#c88894" opacity="0.38"/>
<circle cx="197.3" cy="226.0" r="0.38" fill="#c88894" opacity="0.38"/>
<circle cx="189.7" cy="225.6" r="0.38" fill="#c88894" opacity="0.38"/>
<circle cx="200.8" cy="200.6" r="0.38" fill="#c88894" opacity="0.38"/>
<circle cx="209.7" cy="219.0" r="0.38" fill="#c88894" opacity="0.38"/>
<circle cx="190.5" cy="212.4" r="0.38" fill="#c88894" opacity="0.38"/>
<circle cx="206.9" cy="217.0" r="0.38" fill="#c88894" opacity="0.38"/>
<circle cx="210.1" cy="230.2" r="0.38" fill="#c88894" opacity="0.38"/>
<circle cx="209.3" cy="225.6" r="0.38" fill="#c88894" opacity="0.38"/>
<circle cx="213.7" cy="229.3" r="0.38" fill="#c88894" opacity="0.38"/>
<circle cx="207.9" cy="199.1" r="0.38" fill="#c88894" opacity="0.38"/>
<circle cx="210.8" cy="236.4" r="0.38" fill="#c88894" opacity="0.38"/>
<circle cx="203.1" cy="216.8" r="0.38" fill="#c88894" opacity="0.38"/>
<circle cx="217.6" cy="202.7" r="0.38" fill="#c88894" opacity="0.38"/>
<circle cx="208.0" cy="248.7" r="0.38" fill="#c88894" opacity="0.38"/>
<circle cx="199.0" cy="229.6" r="0.38" fill="#c88894" opacity="0.38"/>
<circle cx="217.3" cy="220.7" r="0.38" fill="#c88894" opacity="0.38"/>
<circle cx="208.6" cy="231.9" r="0.38" fill="#c88894" opacity="0.38"/>
<circle cx="199.1" cy="221.0" r="0.38" fill="#c88894" opacity="0.38"/>
<circle cx="206.9" cy="231.1" r="0.38" fill="#c88894" opacity="0.38"/>
<circle cx="204.8" cy="219.9" r="0.38" fill="#c88894" opacity="0.38"/>
<circle cx="198.4" cy="218.1" r="0.38" fill="#c88894" opacity="0.38"/>
<circle cx="210.8" cy="223.1" r="0.38" fill="#c88894" opacity="0.38"/>
<circle cx="199.5" cy="212.7" r="0.38" fill="#c88894" opacity="0.38"/>
<circle cx="222.3" cy="234.5" r="0.38" fill="#c88894" opacity="0.38"/>
<circle cx="209.1" cy="193.5" r="0.38" fill="#c88894" opacity="0.38"/>
<circle cx="209.0" cy="227.3" r="0.38" fill="#c88894" opacity="0.38"/>
<circle cx="215.9" cy="226.7" r="0.38" fill="#c88894" opacity="0.38"/>
<circle cx="204.6" cy="227.7" r="0.38" fill="#c88894" opacity="0.38"/>
<circle cx="192.4" cy="233.4" r="0.38" fill="#c88894" opacity="0.38"/>
<circle cx="207.1" cy="214.3" r="0.38" fill="#c88894" opacity="0.38"/>
<circle cx="213.6" cy="241.9" r="0.38" fill="#c88894" opacity="0.38"/>
<circle cx="195.9" cy="214.7" r="0.38" fill="#c88894" opacity="0.38"/>
<circle cx="206.9" cy="224.0" r="0.38" fill="#c88894" opacity="0.38"/>
<circle cx="202.4" cy="211.3" r="0.38" fill="#c88894" opacity="0.38"/>
<circle cx="218.8" cy="233.4" r="0.38" fill="#c88894" opacity="0.38"/>
<circle cx="197.2" cy="207.2" r="0.38" fill="#c88894" opacity="0.38"/>
<circle cx="216.1" cy="232.9" r="0.38" fill="#c88894" opacity="0.38"/>
<circle cx="216.8" cy="230.9" r="0.38" fill="#c88894" opacity="0.38"/>
<circle cx="199.3" cy="224.9" r="0.38" fill="#c88894" opacity="0.38"/>
<circle cx="191.0" cy="213.8" r="0.38" fill="#c88894" opacity="0.38"/>
<circle cx="204.6" cy="227.8" r="0.38" fill="#c88894" opacity="0.38"/>
<circle cx="200.3" cy="220.6" r="0.38" fill="#c88894" opacity="0.38"/>
<circle cx="208.0" cy="226.1" r="0.38" fill="#c88894" opacity="0.38"/>
<circle cx="209.1" cy="224.3" r="0.38" fill="#c88894" opacity="0.38"/>
<circle cx="202.9" cy="230.7" r="0.38" fill="#c88894" opacity="0.38"/>
<circle cx="205.3" cy="212.9" r="0.38" fill="#c88894" opacity="0.38"/>
<circle cx="200.9" cy="222.0" r="0.38" fill="#c88894" opacity="0.38"/>
<circle cx="204.3" cy="223.7" r="0.38" fill="#c88894" opacity="0.38"/>
<circle cx="205.0" cy="223.9" r="0.38" fill="#c88894" opacity="0.38"/>
<circle cx="204.1" cy="208.2" r="0.38" fill="#c88894" opacity="0.38"/>
<circle cx="207.7" cy="233.6" r="0.38" fill="#c88894" opacity="0.38"/>
<circle cx="207.8" cy="219.9" r="0.38" fill="#c88894" opacity="0.38"/>
<circle cx="207.9" cy="211.4" r="0.38" fill="#c88894" opacity="0.38"/>
<circle cx="192.7" cy="222.7" r="0.38" fill="#c88894" opacity="0.38"/>
<circle cx="199.0" cy="230.1" r="0.38" fill="#c88894" opacity="0.38"/>
<circle cx="198.0" cy="193.1" r="0.38" fill="#c88894" opacity="0.38"/>
<circle cx="198.2" cy="239.4" r="0.38" fill="#c88894" opacity="0.38"/>
<circle cx="202.5" cy="206.9" r="0.38" fill="#c88894" opacity="0.38"/>
<circle cx="200.0" cy="227.7" r="0.38" fill="#c88894" opacity="0.38"/>
<circle cx="208.2" cy="223.9" r="0.38" fill="#c88894" opacity="0.38"/>
<circle cx="214.6" cy="229.8" r="0.38" fill="#c88894" opacity="0.38"/>
<circle cx="204.9" cy="228.6" r="0.38" fill="#c88894" opacity="0.38"/>
<circle cx="215.8" cy="232.7" r="0.38" fill="#c88894" opacity="0.38"/>
<circle cx="211.7" cy="210.1" r="0.38" fill="#c88894" opacity="0.38"/>
<circle cx="204.0" cy="230.0" r="0.38" fill="#c88894" opacity="0.38"/>
<circle cx="203.1" cy="233.8" r="0.38" fill="#c88894" opacity="0.38"/>
<circle cx="208.9" cy="232.0" r="0.38" fill="#c88894" opacity="0.38"/>
<circle cx="203.6" cy="250.0" r="0.38" fill="#c88894" opacity="0.38"/>
<circle cx="213.1" cy="219.6" r="0.38" fill="#c88894" opacity="0.38"/>
<circle cx="205.6" cy="250.5" r="0.38" fill="#c88894" opacity="0.38"/>
<circle cx="202.8" cy="231.6" r="0.38" fill="#c88894" opacity="0.38"/>
<circle cx="211.4" cy="222.1" r="0.38" fill="#c88894" opacity="0.38"/>
<circle cx="197.4" cy="224.1" r="0.38" fill="#c88894" opacity="0.38"/>
<circle cx="207.3" cy="234.4" r="0.38" fill="#c88894" opacity="0.38"/>
<circle cx="210.1" cy="222.3" r="0.38" fill="#c88894" opacity="0.38"/>
<circle cx="210.5" cy="227.9" r="0.38" fill="#c88894" opacity="0.38"/>
<circle cx="206.3" cy="222.6" r="0.38" fill="#c88894" opacity="0.38"/>
<circle cx="203.4" cy="229.5" r="0.38" fill="#c88894" opacity="0.38"/>
<circle cx="198.1" cy="215.1" r="0.38" fill="#c88894" opacity="0.38"/>
<circle cx="205.0" cy="205.9" r="0.38" fill="#c88894" opacity="0.38"/>
<circle cx="202.2" cy="199.9" r="0.38" fill="#c88894" opacity="0.38"/>
<circle cx="200.6" cy="228.3" r="0.38" fill="#c88894" opacity="0.38"/>
<circle cx="208.7" cy="221.4" r="0.38" fill="#c88894" opacity="0.38"/>
<circle cx="203.5" cy="206.4" r="0.38" fill="#c88894" opacity="0.38"/>
<circle cx="216.9" cy="227.7" r="0.38" fill="#c88894" opacity="0.38"/>
<circle cx="212.1" cy="212.3" r="0.38" fill="#c88894" opacity="0.38"/>
<circle cx="203.8" cy="202.0" r="0.38" fill="#c88894" opacity="0.38"/>
<circle cx="210.1" cy="232.3" r="0.38" fill="#c88894" opacity="0.38"/>
<circle cx="192.7" cy="221.4" r="0.38" fill="#c88894" opacity="0.38"/>
<circle cx="209.1" cy="202.6" r="0.38" fill="#c88894" opacity="0.38"/>
<circle cx="193.1" cy="210.3" r="0.38" fill="#c88894" opacity="0.38"/>
<circle cx="200.9" cy="206.6" r="0.38" fill="#c88894" opacity="0.38"/>
<circle cx="205.2" cy="224.7" r="0.38" fill="#c88894" opacity="0.38"/>
<circle cx="209.1" cy="229.7" r="0.38" fill="#c88894" opacity="0.38"/>
<circle cx="214.8" cy="234.8" r="0.38" fill="#c88894" opacity="0.38"/>
<circle cx="196.5" cy="216.4" r="0.38" fill="#c88894" opacity="0.38"/>
<circle cx="198.1" cy="210.2" r="0.38" fill="#c88894" opacity="0.38"/>
<circle cx="204.5" cy="222.1" r="0.38" fill="#c88894" opacity="0.38"/>
<circle cx="208.2" cy="204.5" r="0.38" fill="#c88894" opacity="0.38"/>
<circle cx="197.0" cy="221.7" r="0.38" fill="#c88894" opacity="0.38"/>
<circle cx="203.7" cy="218.6" r="0.38" fill="#c88894" opacity="0.38"/>
<circle cx="204.6" cy="213.6" r="0.38" fill="#c88894" opacity="0.38"/>
<circle cx="209.6" cy="225.9" r="0.38" fill="#c88894" opacity="0.38"/>
<circle cx="204.4" cy="214.6" r="0.38" fill="#c88894" opacity="0.38"/>
<circle cx="203.9" cy="192.1" r="0.38" fill="#c88894" opacity="0.38"/>
<circle cx="198.6" cy="222.4" r="0.38" fill="#c88894" opacity="0.38"/>
<circle cx="195.2" cy="224.2" r="0.38" fill="#c88894" opacity="0.38"/>
<circle cx="206.0" cy="206.8" r="0.38" fill="#c88894" opacity="0.38"/>
<circle cx="203.4" cy="218.5" r="0.38" fill="#c88894" opacity="0.38"/>
<circle cx="208.0" cy="228.7" r="0.38" fill="#c88894" opacity="0.38"/>
<circle cx="204.8" cy="212.6" r="0.38" fill="#c88894" opacity="0.38"/>
<circle cx="204.1" cy="221.3" r="0.38" fill="#c88894" opacity="0.38"/>
<circle cx="209.8" cy="225.2" r="0.38" fill="#c88894" opacity="0.38"/>
<circle cx="200.3" cy="207.1" r="0.38" fill="#c88894" opacity="0.38"/>
<circle cx="202.6" cy="213.9" r="0.38" fill="#c88894" opacity="0.38"/>
<circle cx="197.8" cy="220.7" r="0.38" fill="#c88894" opacity="0.38"/>
<circle cx="201.8" cy="223.2" r="0.38" fill="#c88894" opacity="0.38"/>
<circle cx="208.4" cy="217.5" r="0.38" fill="#c88894" opacity="0.38"/>
<circle cx="220.1" cy="218.5" r="0.38" fill="#c88894" opacity="0.38"/>
<circle cx="212.2" cy="223.3" r="0.38" fill="#c88894" opacity="0.38"/>
<circle cx="212.3" cy="195.9" r="0.38" fill="#c88894" opacity="0.38"/>
<circle cx="200.1" cy="224.7" r="0.38" fill="#c88894" opacity="0.38"/>
<circle cx="208.9" cy="247.7" r="0.38" fill="#c88894" opacity="0.38"/>
<circle cx="207.1" cy="236.1" r="0.38" fill="#c88894" opacity="0.38"/>
<circle cx="210.0" cy="232.4" r="0.38" fill="#c88894" opacity="0.38"/>
<circle cx="208.3" cy="220.3" r="0.38" fill="#c88894" opacity="0.38"/>
<circle cx="208.3" cy="210.1" r="0.38" fill="#c88894" opacity="0.38"/>
<circle cx="212.7" cy="210.8" r="0.38" fill="#c88894" opacity="0.38"/>
<circle cx="206.6" cy="245.3" r="0.38" fill="#c88894" opacity="0.38"/>
<circle cx="203.5" cy="222.2" r="0.38" fill="#c88894" opacity="0.38"/>
<circle cx="212.6" cy="222.3" r="0.38" fill="#c88894" opacity="0.38"/>
<circle cx="199.8" cy="224.8" r="0.38" fill="#c88894" opacity="0.38"/>
<circle cx="208.8" cy="229.8" r="0.38" fill="#c88894" opacity="0.38"/>
<circle cx="200.0" cy="241.3" r="0.38" fill="#c88894" opacity="0.38"/>
<circle cx="215.8" cy="222.2" r="0.38" fill="#c88894" opacity="0.38"/>
<circle cx="206.7" cy="217.3" r="0.38" fill="#c88894" opacity="0.38"/>
<circle cx="214.2" cy="214.2" r="0.38" fill="#c88894" opacity="0.38"/>
<circle cx="209.4" cy="216.7" r="0.38" fill="#c88894" opacity="0.38"/>
<circle cx="200.5" cy="229.9" r="0.38" fill="#c88894" opacity="0.38"/>
<circle cx="213.7" cy="221.9" r="0.38" fill="#c88894" opacity="0.38"/>
<circle cx="200.6" cy="230.9" r="0.38" fill="#c88894" opacity="0.38"/>
<circle cx="204.7" cy="225.4" r="0.38" fill="#c88894" opacity="0.38"/>
<circle cx="214.9" cy="234.4" r="0.38" fill="#c88894" opacity="0.38"/>
<circle cx="201.6" cy="247.1" r="0.38" fill="#c88894" opacity="0.38"/>
<circle cx="205.0" cy="230.6" r="0.38" fill="#c88894" opacity="0.38"/>
<circle cx="200.8" cy="221.5" r="0.38" fill="#c88894" opacity="0.38"/>
<circle cx="193.6" cy="241.7" r="0.38" fill="#c88894" opacity="0.38"/>
<circle cx="213.9" cy="208.6" r="0.38" fill="#c88894" opacity="0.38"/>
<circle cx="195.2" cy="204.2" r="0.38" fill="#c88894" opacity="0.38"/>
<circle cx="212.6" cy="216.9" r="0.38" fill="#c88894" opacity="0.38"/>
<circle cx="204.6" cy="218.6" r="0.38" fill="#c88894" opacity="0.38"/>
<circle cx="204.2" cy="210.0" r="0.38" fill="#c88894" opacity="0.38"/>
<circle cx="205.2" cy="206.2" r="0.38" fill="#c88894" opacity="0.38"/>
<circle cx="204.5" cy="225.4" r="0.38" fill="#c88894" opacity="0.38"/>
<circle cx="208.0" cy="219.5" r="0.38" fill="#c88894" opacity="0.38"/>
<circle cx="199.1" cy="223.8" r="0.38" fill="#c88894" opacity="0.38"/>
<circle cx="201.8" cy="239.2" r="0.38" fill="#c88894" opacity="0.38"/>
<circle cx="210.0" cy="220.7" r="0.38" fill="#c88894" opacity="0.38"/>
<circle cx="201.9" cy="214.3" r="0.38" fill="#c88894" opacity="0.38"/>
<circle cx="198.9" cy="218.1" r="0.38" fill="#c88894" opacity="0.38"/>
<circle cx="206.9" cy="227.7" r="0.38" fill="#c88894" opacity="0.38"/>
<circle cx="208.7" cy="245.1" r="0.38" fill="#c88894" opacity="0.38"/>
<circle cx="200.4" cy="222.1" r="0.38" fill="#c88894" opacity="0.38"/>
<circle cx="223.2" cy="201.5" r="0.38" fill="#c88894" opacity="0.38"/>
<circle cx="201.6" cy="223.9" r="0.38" fill="#c88894" opacity="0.38"/>
<circle cx="206.0" cy="226.5" r="0.38" fill="#c88894" opacity="0.38"/>
<circle cx="203.4" cy="226.0" r="0.38" fill="#c88894" opacity="0.38"/>
<circle cx="205.3" cy="230.5" r="0.38" fill="#c88894" opacity="0.38"/>
<circle cx="192.7" cy="212.3" r="0.38" fill="#c88894" opacity="0.38"/>
<circle cx="205.0" cy="210.6" r="0.38" fill="#c88894" opacity="0.38"/>
<circle cx="198.2" cy="228.9" r="0.38" fill="#c88894" opacity="0.38"/>
<circle cx="200.8" cy="229.0" r="0.38" fill="#c88894" opacity="0.38"/>
<circle cx="209.8" cy="225.4" r="0.38" fill="#c88894" opacity="0.38"/>
<circle cx="208.3" cy="220.8" r="0.38" fill="#c88894" opacity="0.38"/>
<circle cx="195.8" cy="221.7" r="0.38" fill="#c88894" opacity="0.38"/>
<circle cx="208.0" cy="216.2" r="0.38" fill="#c88894" opacity="0.38"/>
<circle cx="204.4" cy="230.2" r="0.38" fill="#c88894" opacity="0.38"/>
<circle cx="199.3" cy="229.0" r="0.38" fill="#c88894" opacity="0.38"/>
<circle cx="217.1" cy="215.9" r="0.38" fill="#c88894" opacity="0.38"/>
<circle cx="206.0" cy="220.3" r="0.38" fill="#c88894" opacity="0.38"/>
<circle cx="215.0" cy="225.5" r="0.38" fill="#c88894" opacity="0.38"/>
<circle cx="210.8" cy="214.4" r="0.38" fill="#c88894" opacity="0.38"/>
<circle cx="204.9" cy="221.9" r="0.38" fill="#c88894" opacity="0.38"/>
<circle cx="193.5" cy="237.8" r="0.38" fill="#c88894" opacity="0.38"/>
<circle cx="210.8" cy="202.8" r="0.38" fill="#c88894" opacity="0.38"/>
<circle cx="209.8" cy="220.6" r="0.38" fill="#c88894" opacity="0.38"/>
<circle cx="207.9" cy="226.0" r="0.38" fill="#c88894" opacity="0.38"/>
<circle cx="195.3" cy="219.7" r="0.38" fill="#c88894" opacity="0.38"/>
<circle cx="214.7" cy="215.7" r="0.38" fill="#c88894" opacity="0.38"/>
<circle cx="198.4" cy="207.0" r="0.38" fill="#c88894" opacity="0.38"/>
<circle cx="197.1" cy="225.7" r="0.38" fill="#c88894" opacity="0.38"/>
<circle cx="216.0" cy="226.7" r="0.38" fill="#c88894" opacity="0.38"/>
<circle cx="206.6" cy="246.6" r="0.38" fill="#c88894" opacity="0.38"/>
<circle cx="201.6" cy="214.6" r="0.38" fill="#c88894" opacity="0.38"/>
<circle cx="208.4" cy="228.0" r="0.38" fill="#c88894" opacity="0.38"/>
<circle cx="198.4" cy="209.1" r="0.38" fill="#c88894" opacity="0.38"/>
<circle cx="206.9" cy="224.7" r="0.38" fill="#c88894" opacity="0.38"/>
<circle cx="196.5" cy="219.8" r="0.38" fill="#c88894" opacity="0.38"/>
<circle cx="201.5" cy="227.1" r="0.38" fill="#c88894" opacity="0.38"/>
<circle cx="204.2" cy="221.1" r="0.38" fill="#c88894" opacity="0.38"/>
<circle cx="202.7" cy="233.6" r="0.38" fill="#c88894" opacity="0.38"/>
<circle cx="214.0" cy="218.0" r="0.38" fill="#c88894" opacity="0.38"/>
<circle cx="210.5" cy="213.7" r="0.38" fill="#c88894" opacity="0.38"/>
<circle cx="205.5" cy="230.2" r="0.38" fill="#c88894" opacity="0.38"/>
<circle cx="214.8" cy="217.8" r="0.38" fill="#c88894" opacity="0.38"/>
<circle cx="204.5" cy="224.2" r="0.38" fill="#c88894" opacity="0.38"/>
<circle cx="195.3" cy="222.2" r="0.38" fill="#c88894" opacity="0.38"/>
<circle cx="200.6" cy="226.1" r="0.38" fill="#c88894" opacity="0.38"/>
<circle cx="197.7" cy="200.3" r="0.38" fill="#c88894" opacity="0.38"/>
<circle cx="205.2" cy="224.9" r="0.38" fill="#c88894" opacity="0.38"/>
<circle cx="201.4" cy="231.8" r="0.38" fill="#c88894" opacity="0.38"/>
<circle cx="203.2" cy="215.3" r="0.38" fill="#c88894" opacity="0.38"/>
<circle cx="208.1" cy="204.7" r="0.38" fill="#c88894" opacity="0.38"/>
<circle cx="200.6" cy="221.8" r="0.38" fill="#c88894" opacity="0.38"/>
<circle cx="210.5" cy="220.2" r="0.38" fill="#c88894" opacity="0.38"/>
<circle cx="207.0" cy="214.8" r="0.38" fill="#c88894" opacity="0.38"/>
<circle cx="207.0" cy="240.3" r="0.38" fill="#c88894" opacity="0.38"/>
<circle cx="200.5" cy="248.0" r="0.38" fill="#c88894" opacity="0.38"/>
<circle cx="200.8" cy="222.2" r="0.38" fill="#c88894" opacity="0.38"/>
<circle cx="206.1" cy="233.3" r="0.38" fill="#c88894" opacity="0.38"/>
<circle cx="197.0" cy="198.9" r="0.38" fill="#c88894" opacity="0.38"/>
<circle cx="208.9" cy="230.7" r="0.38" fill="#c88894" opacity="0.38"/>
<circle cx="209.1" cy="250.9" r="0.38" fill="#c88894" opacity="0.38"/>
<circle cx="206.3" cy="224.8" r="0.38" fill="#c88894" opacity="0.38"/>
<circle cx="211.0" cy="226.1" r="0.38" fill="#c88894" opacity="0.38"/>
<circle cx="215.8" cy="208.4" r="0.38" fill="#c88894" opacity="0.38"/>
<circle cx="202.6" cy="184.1" r="0.38" fill="#c88894" opacity="0.38"/>
<circle cx="210.3" cy="217.9" r="0.38" fill="#c88894" opacity="0.38"/>
<circle cx="211.0" cy="245.7" r="0.38" fill="#c88894" opacity="0.38"/>
<circle cx="205.0" cy="219.2" r="0.38" fill="#c88894" opacity="0.38"/>
<circle cx="201.8" cy="212.8" r="0.38" fill="#c88894" opacity="0.38"/>
<circle cx="200.9" cy="229.0" r="0.38" fill="#c88894" opacity="0.38"/>
<circle cx="205.2" cy="222.7" r="0.38" fill="#c88894" opacity="0.38"/>
<circle cx="203.9" cy="232.1" r="0.38" fill="#c88894" opacity="0.38"/>
<circle cx="208.2" cy="220.4" r="0.38" fill="#c88894" opacity="0.38"/>
<circle cx="209.3" cy="220.3" r="0.38" fill="#c88894" opacity="0.38"/>
<circle cx="197.5" cy="238.0" r="0.38" fill="#c88894" opacity="0.38"/>
<circle cx="208.0" cy="211.5" r="0.38" fill="#c88894" opacity="0.38"/>
<circle cx="212.0" cy="225.8" r="0.38" fill="#c88894" opacity="0.38"/>
<circle cx="194.8" cy="239.7" r="0.38" fill="#c88894" opacity="0.38"/>
<circle cx="207.2" cy="231.8" r="0.38" fill="#c88894" opacity="0.38"/>
<circle cx="206.3" cy="220.4" r="0.38" fill="#c88894" opacity="0.38"/>
<circle cx="194.9" cy="232.7" r="0.38" fill="#c88894" opacity="0.38"/>
<circle cx="205.2" cy="218.8" r="0.38" fill="#c88894" opacity="0.38"/>
<circle cx="207.3" cy="222.9" r="0.38" fill="#c88894" opacity="0.38"/>
<circle cx="209.4" cy="217.9" r="0.38" fill="#c88894" opacity="0.38"/>
<circle cx="204.8" cy="198.5" r="0.38" fill="#c88894" opacity="0.38"/>
<circle cx="202.2" cy="229.4" r="0.38" fill="#c88894" opacity="0.38"/>
<circle cx="213.7" cy="218.0" r="0.38" fill="#c88894" opacity="0.38"/>
<circle cx="204.2" cy="239.4" r="0.38" fill="#c88894" opacity="0.38"/>
<circle cx="202.9" cy="230.1" r="0.38" fill="#c88894" opacity="0.38"/>
<circle cx="215.9" cy="222.4" r="0.38" fill="#c88894" opacity="0.38"/>
<circle cx="213.0" cy="214.2" r="0.38" fill="#c88894" opacity="0.38"/>
<circle cx="206.3" cy="221.1" r="0.38" fill="#c88894" opacity="0.38"/>
<circle cx="205.7" cy="234.4" r="0.38" fill="#c88894" opacity="0.38"/>
<circle cx="220.5" cy="214.7" r="0.38" fill="#c88894" opacity="0.38"/>
<circle cx="201.3" cy="227.5" r="0.38" fill="#c88894" opacity="0.38"/>
<circle cx="198.1" cy="227.5" r="0.38" fill="#c88894" opacity="0.38"/>
<circle cx="208.7" cy="218.9" r="0.38" fill="#c88894" opacity="0.38"/>
<circle cx="208.5" cy="205.0" r="0.38" fill="#c88894" opacity="0.38"/>
<circle cx="209.9" cy="205.0" r="0.38" fill="#c88894" opacity="0.38"/>
<circle cx="200.5" cy="215.9" r="0.38" fill="#c88894" opacity="0.38"/>
<circle cx="202.4" cy="231.4" r="0.38" fill="#c88894" opacity="0.38"/>
<circle cx="205.5" cy="217.6" r="0.38" fill="#c88894" opacity="0.38"/>
<circle cx="208.5" cy="239.4" r="0.38" fill="#c88894" opacity="0.38"/>
<circle cx="205.0" cy="226.0" r="0.38" fill="#c88894" opacity="0.38"/>
<circle cx="213.1" cy="224.9" r="0.38" fill="#c88894" opacity="0.38"/>
<circle cx="196.7" cy="249.4" r="0.38" fill="#c88894" opacity="0.38"/>
<circle cx="219.4" cy="200.2" r="0.38" fill="#c88894" opacity="0.38"/>
<circle cx="204.7" cy="226.6" r="0.38" fill="#c88894" opacity="0.38"/>
<circle cx="211.3" cy="229.4" r="0.38" fill="#c88894" opacity="0.38"/>
<circle cx="203.2" cy="210.4" r="0.38" fill="#c88894" opacity="0.38"/>
<circle cx="205.7" cy="233.4" r="0.38" fill="#c88894" opacity="0.38"/>
<circle cx="197.9" cy="210.7" r="0.38" fill="#c88894" opacity="0.38"/>
<circle cx="204.8" cy="200.7" r="0.38" fill="#c88894" opacity="0.38"/>
<circle cx="203.3" cy="217.2" r="0.38" fill="#c88894" opacity="0.38"/>
<circle cx="207.9" cy="214.3" r="0.38" fill="#c88894" opacity="0.38"/>
<circle cx="199.3" cy="217.7" r="0.38" fill="#c88894" opacity="0.38"/>
<circle cx="204.7" cy="214.7" r="0.38" fill="#c88894" opacity="0.38"/>
<circle cx="205.1" cy="230.3" r="0.38" fill="#c88894" opacity="0.38"/>
</g>
<g clip-path="url(#qJS)">
<ellipse cx="230" cy="222" rx="15.0" ry="16.5" fill="#fbe8d6" opacity="0.35" filter="url(#blur1)" transform="rotate(0 230 222)"/>
<circle cx="241.9" cy="240.8" r="0.38" fill="#eeb07a" opacity="0.38"/>
<circle cx="222.2" cy="217.4" r="0.38" fill="#eeb07a" opacity="0.38"/>
<circle cx="205.2" cy="242.9" r="0.38" fill="#eeb07a" opacity="0.38"/>
<circle cx="222.8" cy="221.6" r="0.38" fill="#eeb07a" opacity="0.38"/>
<circle cx="235.2" cy="207.1" r="0.38" fill="#eeb07a" opacity="0.38"/>
<circle cx="234.6" cy="221.7" r="0.38" fill="#eeb07a" opacity="0.38"/>
<circle cx="211.7" cy="225.2" r="0.38" fill="#eeb07a" opacity="0.38"/>
<circle cx="241.9" cy="201.5" r="0.38" fill="#eeb07a" opacity="0.38"/>
<circle cx="238.1" cy="224.3" r="0.38" fill="#eeb07a" opacity="0.38"/>
<circle cx="234.7" cy="226.9" r="0.38" fill="#eeb07a" opacity="0.38"/>
<circle cx="243.0" cy="219.5" r="0.38" fill="#eeb07a" opacity="0.38"/>
<circle cx="238.7" cy="217.5" r="0.38" fill="#eeb07a" opacity="0.38"/>
<circle cx="237.3" cy="213.0" r="0.38" fill="#eeb07a" opacity="0.38"/>
<circle cx="228.9" cy="241.0" r="0.38" fill="#eeb07a" opacity="0.38"/>
<circle cx="234.5" cy="220.3" r="0.38" fill="#eeb07a" opacity="0.38"/>
<circle cx="218.6" cy="213.3" r="0.38" fill="#eeb07a" opacity="0.38"/>
<circle cx="231.9" cy="232.3" r="0.38" fill="#eeb07a" opacity="0.38"/>
<circle cx="234.3" cy="227.8" r="0.38" fill="#eeb07a" opacity="0.38"/>
<circle cx="229.6" cy="236.9" r="0.38" fill="#eeb07a" opacity="0.38"/>
<circle cx="226.1" cy="216.0" r="0.38" fill="#eeb07a" opacity="0.38"/>
<circle cx="238.9" cy="222.7" r="0.38" fill="#eeb07a" opacity="0.38"/>
<circle cx="227.2" cy="215.7" r="0.38" fill="#eeb07a" opacity="0.38"/>
<circle cx="227.4" cy="228.9" r="0.38" fill="#eeb07a" opacity="0.38"/>
<circle cx="233.5" cy="208.7" r="0.38" fill="#eeb07a" opacity="0.38"/>
<circle cx="234.3" cy="224.0" r="0.38" fill="#eeb07a" opacity="0.38"/>
<circle cx="220.0" cy="230.5" r="0.38" fill="#eeb07a" opacity="0.38"/>
<circle cx="227.2" cy="218.3" r="0.38" fill="#eeb07a" opacity="0.38"/>
<circle cx="238.0" cy="236.5" r="0.38" fill="#eeb07a" opacity="0.38"/>
<circle cx="223.1" cy="226.8" r="0.38" fill="#eeb07a" opacity="0.38"/>
<circle cx="221.2" cy="247.5" r="0.38" fill="#eeb07a" opacity="0.38"/>
<circle cx="225.1" cy="235.1" r="0.38" fill="#eeb07a" opacity="0.38"/>
<circle cx="223.5" cy="230.9" r="0.38" fill="#eeb07a" opacity="0.38"/>
<circle cx="252.2" cy="194.0" r="0.38" fill="#eeb07a" opacity="0.38"/>
<circle cx="225.7" cy="227.5" r="0.38" fill="#eeb07a" opacity="0.38"/>
<circle cx="229.1" cy="214.6" r="0.38" fill="#eeb07a" opacity="0.38"/>
<circle cx="251.5" cy="222.9" r="0.38" fill="#eeb07a" opacity="0.38"/>
<circle cx="213.6" cy="231.4" r="0.38" fill="#eeb07a" opacity="0.38"/>
<circle cx="212.8" cy="234.7" r="0.38" fill="#eeb07a" opacity="0.38"/>
<circle cx="224.2" cy="223.6" r="0.38" fill="#eeb07a" opacity="0.38"/>
<circle cx="242.6" cy="223.3" r="0.38" fill="#eeb07a" opacity="0.38"/>
<circle cx="216.1" cy="203.3" r="0.38" fill="#eeb07a" opacity="0.38"/>
<circle cx="241.8" cy="230.1" r="0.38" fill="#eeb07a" opacity="0.38"/>
<circle cx="221.8" cy="231.5" r="0.38" fill="#eeb07a" opacity="0.38"/>
<circle cx="235.0" cy="229.1" r="0.38" fill="#eeb07a" opacity="0.38"/>
<circle cx="207.4" cy="218.7" r="0.38" fill="#eeb07a" opacity="0.38"/>
<circle cx="239.0" cy="230.1" r="0.38" fill="#eeb07a" opacity="0.38"/>
<circle cx="238.8" cy="195.0" r="0.38" fill="#eeb07a" opacity="0.38"/>
<circle cx="231.7" cy="227.4" r="0.38" fill="#eeb07a" opacity="0.38"/>
<circle cx="255.5" cy="211.5" r="0.38" fill="#eeb07a" opacity="0.38"/>
<circle cx="226.7" cy="222.4" r="0.38" fill="#eeb07a" opacity="0.38"/>
<circle cx="238.9" cy="217.1" r="0.38" fill="#eeb07a" opacity="0.38"/>
<circle cx="241.5" cy="213.3" r="0.38" fill="#eeb07a" opacity="0.38"/>
<circle cx="232.7" cy="216.2" r="0.38" fill="#eeb07a" opacity="0.38"/>
<circle cx="231.6" cy="214.4" r="0.38" fill="#eeb07a" opacity="0.38"/>
<circle cx="214.0" cy="234.0" r="0.38" fill="#eeb07a" opacity="0.38"/>
<circle cx="233.0" cy="215.9" r="0.38" fill="#eeb07a" opacity="0.38"/>
<circle cx="232.0" cy="232.9" r="0.38" fill="#eeb07a" opacity="0.38"/>
<circle cx="220.2" cy="220.8" r="0.38" fill="#eeb07a" opacity="0.38"/>
<circle cx="235.4" cy="227.8" r="0.38" fill="#eeb07a" opacity="0.38"/>
<circle cx="226.6" cy="198.8" r="0.38" fill="#eeb07a" opacity="0.38"/>
<circle cx="242.4" cy="225.6" r="0.38" fill="#eeb07a" opacity="0.38"/>
<circle cx="230.1" cy="218.9" r="0.38" fill="#eeb07a" opacity="0.38"/>
<circle cx="232.6" cy="217.3" r="0.38" fill="#eeb07a" opacity="0.38"/>
<circle cx="219.8" cy="213.9" r="0.38" fill="#eeb07a" opacity="0.38"/>
<circle cx="224.0" cy="215.3" r="0.38" fill="#eeb07a" opacity="0.38"/>
<circle cx="218.4" cy="229.0" r="0.38" fill="#eeb07a" opacity="0.38"/>
<circle cx="216.9" cy="229.3" r="0.38" fill="#eeb07a" opacity="0.38"/>
<circle cx="219.9" cy="225.9" r="0.38" fill="#eeb07a" opacity="0.38"/>
<circle cx="243.7" cy="224.2" r="0.38" fill="#eeb07a" opacity="0.38"/>
<circle cx="222.7" cy="222.5" r="0.38" fill="#eeb07a" opacity="0.38"/>
<circle cx="231.5" cy="202.9" r="0.38" fill="#eeb07a" opacity="0.38"/>
<circle cx="223.9" cy="223.8" r="0.38" fill="#eeb07a" opacity="0.38"/>
<circle cx="225.3" cy="222.9" r="0.38" fill="#eeb07a" opacity="0.38"/>
<circle cx="237.3" cy="230.4" r="0.38" fill="#eeb07a" opacity="0.38"/>
<circle cx="239.1" cy="228.5" r="0.38" fill="#eeb07a" opacity="0.38"/>
<circle cx="227.1" cy="221.8" r="0.38" fill="#eeb07a" opacity="0.38"/>
<circle cx="227.3" cy="218.6" r="0.38" fill="#eeb07a" opacity="0.38"/>
<circle cx="228.2" cy="203.0" r="0.38" fill="#eeb07a" opacity="0.38"/>
<circle cx="226.7" cy="221.7" r="0.38" fill="#eeb07a" opacity="0.38"/>
<circle cx="220.3" cy="221.7" r="0.38" fill="#eeb07a" opacity="0.38"/>
<circle cx="235.2" cy="220.2" r="0.38" fill="#eeb07a" opacity="0.38"/>
<circle cx="250.8" cy="193.3" r="0.38" fill="#eeb07a" opacity="0.38"/>
<circle cx="227.9" cy="201.9" r="0.38" fill="#eeb07a" opacity="0.38"/>
<circle cx="239.8" cy="251.2" r="0.38" fill="#eeb07a" opacity="0.38"/>
<circle cx="205.0" cy="223.4" r="0.38" fill="#eeb07a" opacity="0.38"/>
<circle cx="235.2" cy="218.7" r="0.38" fill="#eeb07a" opacity="0.38"/>
<circle cx="235.5" cy="197.3" r="0.38" fill="#eeb07a" opacity="0.38"/>
<circle cx="238.5" cy="226.1" r="0.38" fill="#eeb07a" opacity="0.38"/>
<circle cx="230.2" cy="215.5" r="0.38" fill="#eeb07a" opacity="0.38"/>
<circle cx="236.4" cy="216.7" r="0.38" fill="#eeb07a" opacity="0.38"/>
<circle cx="232.2" cy="216.4" r="0.38" fill="#eeb07a" opacity="0.38"/>
<circle cx="207.5" cy="221.7" r="0.38" fill="#eeb07a" opacity="0.38"/>
<circle cx="232.0" cy="230.3" r="0.38" fill="#eeb07a" opacity="0.38"/>
<circle cx="221.2" cy="221.6" r="0.38" fill="#eeb07a" opacity="0.38"/>
<circle cx="236.2" cy="223.6" r="0.38" fill="#eeb07a" opacity="0.38"/>
<circle cx="242.4" cy="243.9" r="0.38" fill="#eeb07a" opacity="0.38"/>
<circle cx="220.9" cy="200.9" r="0.38" fill="#eeb07a" opacity="0.38"/>
<circle cx="238.6" cy="238.8" r="0.38" fill="#eeb07a" opacity="0.38"/>
<circle cx="239.2" cy="231.0" r="0.38" fill="#eeb07a" opacity="0.38"/>
<circle cx="223.8" cy="214.2" r="0.38" fill="#eeb07a" opacity="0.38"/>
<circle cx="238.9" cy="212.0" r="0.38" fill="#eeb07a" opacity="0.38"/>
<circle cx="211.9" cy="211.0" r="0.38" fill="#eeb07a" opacity="0.38"/>
<circle cx="254.9" cy="243.2" r="0.38" fill="#eeb07a" opacity="0.38"/>
<circle cx="223.1" cy="214.0" r="0.38" fill="#eeb07a" opacity="0.38"/>
<circle cx="232.3" cy="213.8" r="0.38" fill="#eeb07a" opacity="0.38"/>
<circle cx="243.1" cy="221.1" r="0.38" fill="#eeb07a" opacity="0.38"/>
<circle cx="219.1" cy="236.4" r="0.38" fill="#eeb07a" opacity="0.38"/>
<circle cx="224.2" cy="224.4" r="0.38" fill="#eeb07a" opacity="0.38"/>
<circle cx="229.9" cy="218.5" r="0.38" fill="#eeb07a" opacity="0.38"/>
<circle cx="233.2" cy="214.4" r="0.38" fill="#eeb07a" opacity="0.38"/>
<circle cx="211.6" cy="197.7" r="0.38" fill="#eeb07a" opacity="0.38"/>
<circle cx="217.3" cy="213.7" r="0.38" fill="#eeb07a" opacity="0.38"/>
<circle cx="229.8" cy="222.6" r="0.38" fill="#eeb07a" opacity="0.38"/>
<circle cx="235.6" cy="223.3" r="0.38" fill="#eeb07a" opacity="0.38"/>
<circle cx="222.1" cy="214.2" r="0.38" fill="#eeb07a" opacity="0.38"/>
<circle cx="208.8" cy="220.1" r="0.38" fill="#eeb07a" opacity="0.38"/>
<circle cx="234.8" cy="227.8" r="0.38" fill="#eeb07a" opacity="0.38"/>
<circle cx="228.8" cy="220.1" r="0.38" fill="#eeb07a" opacity="0.38"/>
<circle cx="239.4" cy="222.2" r="0.38" fill="#eeb07a" opacity="0.38"/>
<circle cx="237.4" cy="228.4" r="0.38" fill="#eeb07a" opacity="0.38"/>
<circle cx="232.1" cy="236.4" r="0.38" fill="#eeb07a" opacity="0.38"/>
<circle cx="224.3" cy="218.1" r="0.38" fill="#eeb07a" opacity="0.38"/>
<circle cx="221.9" cy="213.2" r="0.38" fill="#eeb07a" opacity="0.38"/>
<circle cx="245.6" cy="241.4" r="0.38" fill="#eeb07a" opacity="0.38"/>
<circle cx="230.2" cy="228.3" r="0.38" fill="#eeb07a" opacity="0.38"/>
<circle cx="241.8" cy="230.9" r="0.38" fill="#eeb07a" opacity="0.38"/>
<circle cx="242.1" cy="208.1" r="0.38" fill="#eeb07a" opacity="0.38"/>
<circle cx="223.6" cy="227.0" r="0.38" fill="#eeb07a" opacity="0.38"/>
<circle cx="244.4" cy="223.1" r="0.38" fill="#eeb07a" opacity="0.38"/>
<circle cx="221.4" cy="218.1" r="0.38" fill="#eeb07a" opacity="0.38"/>
<circle cx="223.4" cy="212.6" r="0.38" fill="#eeb07a" opacity="0.38"/>
<circle cx="245.0" cy="215.1" r="0.38" fill="#eeb07a" opacity="0.38"/>
<circle cx="230.2" cy="245.8" r="0.38" fill="#eeb07a" opacity="0.38"/>
<circle cx="241.8" cy="225.7" r="0.38" fill="#eeb07a" opacity="0.38"/>
<circle cx="223.9" cy="226.5" r="0.38" fill="#eeb07a" opacity="0.38"/>
<circle cx="246.2" cy="228.9" r="0.38" fill="#eeb07a" opacity="0.38"/>
<circle cx="242.6" cy="223.1" r="0.38" fill="#eeb07a" opacity="0.38"/>
<circle cx="235.2" cy="219.8" r="0.38" fill="#eeb07a" opacity="0.38"/>
<circle cx="234.3" cy="236.3" r="0.38" fill="#eeb07a" opacity="0.38"/>
<circle cx="215.7" cy="221.3" r="0.38" fill="#eeb07a" opacity="0.38"/>
<circle cx="232.4" cy="215.7" r="0.38" fill="#eeb07a" opacity="0.38"/>
<circle cx="226.9" cy="230.7" r="0.38" fill="#eeb07a" opacity="0.38"/>
<circle cx="250.0" cy="228.9" r="0.38" fill="#eeb07a" opacity="0.38"/>
<circle cx="233.3" cy="204.9" r="0.38" fill="#eeb07a" opacity="0.38"/>
<circle cx="249.3" cy="222.8" r="0.38" fill="#eeb07a" opacity="0.38"/>
<circle cx="229.7" cy="209.7" r="0.38" fill="#eeb07a" opacity="0.38"/>
<circle cx="229.4" cy="209.9" r="0.38" fill="#eeb07a" opacity="0.38"/>
<circle cx="230.7" cy="227.1" r="0.38" fill="#eeb07a" opacity="0.38"/>
<circle cx="230.3" cy="225.1" r="0.38" fill="#eeb07a" opacity="0.38"/>
<circle cx="221.5" cy="237.7" r="0.38" fill="#eeb07a" opacity="0.38"/>
<circle cx="223.5" cy="202.0" r="0.38" fill="#eeb07a" opacity="0.38"/>
<circle cx="228.1" cy="213.6" r="0.38" fill="#eeb07a" opacity="0.38"/>
<circle cx="219.9" cy="218.1" r="0.38" fill="#eeb07a" opacity="0.38"/>
<circle cx="232.9" cy="209.0" r="0.38" fill="#eeb07a" opacity="0.38"/>
<circle cx="228.6" cy="237.7" r="0.38" fill="#eeb07a" opacity="0.38"/>
<circle cx="236.8" cy="220.3" r="0.38" fill="#eeb07a" opacity="0.38"/>
<circle cx="231.3" cy="220.7" r="0.38" fill="#eeb07a" opacity="0.38"/>
<circle cx="229.5" cy="230.1" r="0.38" fill="#eeb07a" opacity="0.38"/>
<circle cx="229.1" cy="195.6" r="0.38" fill="#eeb07a" opacity="0.38"/>
<circle cx="229.8" cy="212.2" r="0.38" fill="#eeb07a" opacity="0.38"/>
<circle cx="236.5" cy="215.3" r="0.38" fill="#eeb07a" opacity="0.38"/>
<circle cx="231.5" cy="246.0" r="0.38" fill="#eeb07a" opacity="0.38"/>
<circle cx="219.5" cy="209.6" r="0.38" fill="#eeb07a" opacity="0.38"/>
<circle cx="215.9" cy="195.7" r="0.38" fill="#eeb07a" opacity="0.38"/>
<circle cx="211.2" cy="226.0" r="0.38" fill="#eeb07a" opacity="0.38"/>
<circle cx="223.6" cy="201.5" r="0.38" fill="#eeb07a" opacity="0.38"/>
<circle cx="215.2" cy="228.8" r="0.38" fill="#eeb07a" opacity="0.38"/>
<circle cx="222.2" cy="218.0" r="0.38" fill="#eeb07a" opacity="0.38"/>
<circle cx="233.3" cy="236.9" r="0.38" fill="#eeb07a" opacity="0.38"/>
<circle cx="249.4" cy="233.4" r="0.38" fill="#eeb07a" opacity="0.38"/>
<circle cx="231.4" cy="224.0" r="0.38" fill="#eeb07a" opacity="0.38"/>
<circle cx="248.0" cy="237.7" r="0.38" fill="#eeb07a" opacity="0.38"/>
<circle cx="226.9" cy="227.0" r="0.38" fill="#eeb07a" opacity="0.38"/>
<circle cx="232.9" cy="222.6" r="0.38" fill="#eeb07a" opacity="0.38"/>
<circle cx="225.0" cy="207.4" r="0.38" fill="#eeb07a" opacity="0.38"/>
<circle cx="224.7" cy="205.0" r="0.38" fill="#eeb07a" opacity="0.38"/>
<circle cx="242.2" cy="227.9" r="0.38" fill="#eeb07a" opacity="0.38"/>
<circle cx="217.9" cy="237.4" r="0.38" fill="#eeb07a" opacity="0.38"/>
<circle cx="238.9" cy="201.0" r="0.38" fill="#eeb07a" opacity="0.38"/>
<circle cx="248.4" cy="230.9" r="0.38" fill="#eeb07a" opacity="0.38"/>
<circle cx="250.6" cy="208.5" r="0.38" fill="#eeb07a" opacity="0.38"/>
<circle cx="235.3" cy="226.7" r="0.38" fill="#eeb07a" opacity="0.38"/>
<circle cx="232.0" cy="223.9" r="0.38" fill="#eeb07a" opacity="0.38"/>
<circle cx="240.5" cy="205.6" r="0.38" fill="#eeb07a" opacity="0.38"/>
<circle cx="217.6" cy="206.7" r="0.38" fill="#eeb07a" opacity="0.38"/>
<circle cx="224.4" cy="215.3" r="0.38" fill="#eeb07a" opacity="0.38"/>
<circle cx="233.7" cy="224.9" r="0.38" fill="#eeb07a" opacity="0.38"/>
<circle cx="230.3" cy="214.6" r="0.38" fill="#eeb07a" opacity="0.38"/>
<circle cx="225.6" cy="232.5" r="0.38" fill="#eeb07a" opacity="0.38"/>
<circle cx="237.6" cy="223.1" r="0.38" fill="#eeb07a" opacity="0.38"/>
<circle cx="226.8" cy="239.1" r="0.38" fill="#eeb07a" opacity="0.38"/>
<circle cx="224.1" cy="229.1" r="0.38" fill="#eeb07a" opacity="0.38"/>
<circle cx="241.5" cy="219.1" r="0.38" fill="#eeb07a" opacity="0.38"/>
<circle cx="238.3" cy="209.7" r="0.38" fill="#eeb07a" opacity="0.38"/>
<circle cx="240.1" cy="224.2" r="0.38" fill="#eeb07a" opacity="0.38"/>
<circle cx="214.1" cy="229.4" r="0.38" fill="#eeb07a" opacity="0.38"/>
<circle cx="221.1" cy="236.1" r="0.38" fill="#eeb07a" opacity="0.38"/>
<circle cx="223.2" cy="220.2" r="0.38" fill="#eeb07a" opacity="0.38"/>
<circle cx="232.8" cy="218.3" r="0.38" fill="#eeb07a" opacity="0.38"/>
<circle cx="232.6" cy="215.9" r="0.38" fill="#eeb07a" opacity="0.38"/>
<circle cx="236.7" cy="222.1" r="0.38" fill="#eeb07a" opacity="0.38"/>
<circle cx="232.1" cy="191.7" r="0.38" fill="#eeb07a" opacity="0.38"/>
<circle cx="241.6" cy="222.4" r="0.38" fill="#eeb07a" opacity="0.38"/>
<circle cx="212.2" cy="223.1" r="0.38" fill="#eeb07a" opacity="0.38"/>
<circle cx="234.7" cy="233.8" r="0.38" fill="#eeb07a" opacity="0.38"/>
<circle cx="219.2" cy="239.0" r="0.38" fill="#eeb07a" opacity="0.38"/>
<circle cx="228.4" cy="248.3" r="0.38" fill="#eeb07a" opacity="0.38"/>
<circle cx="228.5" cy="229.5" r="0.38" fill="#eeb07a" opacity="0.38"/>
<circle cx="226.3" cy="209.7" r="0.38" fill="#eeb07a" opacity="0.38"/>
<circle cx="241.0" cy="232.0" r="0.38" fill="#eeb07a" opacity="0.38"/>
<circle cx="245.4" cy="231.4" r="0.38" fill="#eeb07a" opacity="0.38"/>
<circle cx="224.3" cy="203.7" r="0.38" fill="#eeb07a" opacity="0.38"/>
<circle cx="223.5" cy="214.6" r="0.38" fill="#eeb07a" opacity="0.38"/>
<circle cx="221.8" cy="228.4" r="0.38" fill="#eeb07a" opacity="0.38"/>
<circle cx="233.3" cy="219.0" r="0.38" fill="#eeb07a" opacity="0.38"/>
<circle cx="231.7" cy="220.4" r="0.38" fill="#eeb07a" opacity="0.38"/>
<circle cx="232.1" cy="230.3" r="0.38" fill="#eeb07a" opacity="0.38"/>
<circle cx="239.6" cy="214.5" r="0.38" fill="#eeb07a" opacity="0.38"/>
<circle cx="214.9" cy="237.7" r="0.38" fill="#eeb07a" opacity="0.38"/>
<circle cx="231.1" cy="234.2" r="0.38" fill="#eeb07a" opacity="0.38"/>
<circle cx="213.6" cy="218.4" r="0.38" fill="#eeb07a" opacity="0.38"/>
<circle cx="230.3" cy="206.1" r="0.38" fill="#eeb07a" opacity="0.38"/>
<circle cx="224.8" cy="230.0" r="0.38" fill="#eeb07a" opacity="0.38"/>
<circle cx="240.8" cy="239.5" r="0.38" fill="#eeb07a" opacity="0.38"/>
<circle cx="221.4" cy="206.6" r="0.38" fill="#eeb07a" opacity="0.38"/>
<circle cx="235.2" cy="232.3" r="0.38" fill="#eeb07a" opacity="0.38"/>
<circle cx="231.9" cy="207.7" r="0.38" fill="#eeb07a" opacity="0.38"/>
<circle cx="237.8" cy="230.7" r="0.38" fill="#eeb07a" opacity="0.38"/>
<circle cx="235.5" cy="216.6" r="0.38" fill="#eeb07a" opacity="0.38"/>
<circle cx="233.0" cy="230.7" r="0.38" fill="#eeb07a" opacity="0.38"/>
<circle cx="224.4" cy="201.7" r="0.38" fill="#eeb07a" opacity="0.38"/>
<circle cx="233.3" cy="227.3" r="0.38" fill="#eeb07a" opacity="0.38"/>
<circle cx="230.1" cy="231.8" r="0.38" fill="#eeb07a" opacity="0.38"/>
<circle cx="224.1" cy="221.1" r="0.38" fill="#eeb07a" opacity="0.38"/>
<circle cx="226.9" cy="228.3" r="0.38" fill="#eeb07a" opacity="0.38"/>
<circle cx="246.0" cy="219.2" r="0.38" fill="#eeb07a" opacity="0.38"/>
<circle cx="250.5" cy="238.8" r="0.38" fill="#eeb07a" opacity="0.38"/>
<circle cx="237.9" cy="228.5" r="0.38" fill="#eeb07a" opacity="0.38"/>
<circle cx="247.7" cy="220.0" r="0.38" fill="#eeb07a" opacity="0.38"/>
<circle cx="228.9" cy="210.3" r="0.38" fill="#eeb07a" opacity="0.38"/>
<circle cx="234.7" cy="236.8" r="0.38" fill="#eeb07a" opacity="0.38"/>
<circle cx="235.3" cy="226.7" r="0.38" fill="#eeb07a" opacity="0.38"/>
<circle cx="228.0" cy="223.9" r="0.38" fill="#eeb07a" opacity="0.38"/>
<circle cx="215.7" cy="233.5" r="0.38" fill="#eeb07a" opacity="0.38"/>
<circle cx="225.9" cy="209.8" r="0.38" fill="#eeb07a" opacity="0.38"/>
<circle cx="222.5" cy="212.9" r="0.38" fill="#eeb07a" opacity="0.38"/>
<circle cx="238.6" cy="233.6" r="0.38" fill="#eeb07a" opacity="0.38"/>
<circle cx="216.4" cy="232.2" r="0.38" fill="#eeb07a" opacity="0.38"/>
<circle cx="238.9" cy="215.6" r="0.38" fill="#eeb07a" opacity="0.38"/>
<circle cx="215.1" cy="213.8" r="0.38" fill="#eeb07a" opacity="0.38"/>
<circle cx="223.7" cy="225.8" r="0.38" fill="#eeb07a" opacity="0.38"/>
<circle cx="226.4" cy="199.7" r="0.38" fill="#eeb07a" opacity="0.38"/>
<circle cx="232.3" cy="205.1" r="0.38" fill="#eeb07a" opacity="0.38"/>
<circle cx="239.1" cy="208.7" r="0.38" fill="#eeb07a" opacity="0.38"/>
<circle cx="223.1" cy="212.6" r="0.38" fill="#eeb07a" opacity="0.38"/>
<circle cx="224.6" cy="236.3" r="0.38" fill="#eeb07a" opacity="0.38"/>
<circle cx="238.5" cy="228.6" r="0.38" fill="#eeb07a" opacity="0.38"/>
<circle cx="233.2" cy="205.0" r="0.38" fill="#eeb07a" opacity="0.38"/>
<circle cx="224.8" cy="215.9" r="0.38" fill="#eeb07a" opacity="0.38"/>
<circle cx="220.2" cy="227.6" r="0.38" fill="#eeb07a" opacity="0.38"/>
<circle cx="222.6" cy="214.2" r="0.38" fill="#eeb07a" opacity="0.38"/>
<circle cx="219.6" cy="199.4" r="0.38" fill="#eeb07a" opacity="0.38"/>
<circle cx="236.0" cy="236.6" r="0.38" fill="#eeb07a" opacity="0.38"/>
<circle cx="231.7" cy="211.3" r="0.38" fill="#eeb07a" opacity="0.38"/>
<circle cx="202.9" cy="223.9" r="0.38" fill="#eeb07a" opacity="0.38"/>
<circle cx="242.2" cy="225.3" r="0.38" fill="#eeb07a" opacity="0.38"/>
<circle cx="239.3" cy="238.3" r="0.38" fill="#eeb07a" opacity="0.38"/>
<circle cx="241.3" cy="217.1" r="0.38" fill="#eeb07a" opacity="0.38"/>
<circle cx="240.5" cy="230.5" r="0.38" fill="#eeb07a" opacity="0.38"/>
<circle cx="214.6" cy="217.5" r="0.38" fill="#eeb07a" opacity="0.38"/>
<circle cx="215.8" cy="220.8" r="0.38" fill="#eeb07a" opacity="0.38"/>
<circle cx="235.8" cy="210.3" r="0.38" fill="#eeb07a" opacity="0.38"/>
<circle cx="209.4" cy="236.3" r="0.38" fill="#eeb07a" opacity="0.38"/>
<circle cx="233.8" cy="238.2" r="0.38" fill="#eeb07a" opacity="0.38"/>
<circle cx="216.8" cy="233.7" r="0.38" fill="#eeb07a" opacity="0.38"/>
<circle cx="250.7" cy="244.1" r="0.38" fill="#eeb07a" opacity="0.38"/>
<circle cx="227.9" cy="225.0" r="0.38" fill="#eeb07a" opacity="0.38"/>
<circle cx="228.5" cy="233.0" r="0.38" fill="#eeb07a" opacity="0.38"/>
<circle cx="240.4" cy="223.0" r="0.38" fill="#eeb07a" opacity="0.38"/>
<circle cx="216.4" cy="230.2" r="0.38" fill="#eeb07a" opacity="0.38"/>
<circle cx="225.3" cy="228.9" r="0.38" fill="#eeb07a" opacity="0.38"/>
<circle cx="232.6" cy="239.9" r="0.38" fill="#eeb07a" opacity="0.38"/>
<circle cx="241.4" cy="217.0" r="0.38" fill="#eeb07a" opacity="0.38"/>
<circle cx="233.5" cy="241.4" r="0.38" fill="#eeb07a" opacity="0.38"/>
<circle cx="224.6" cy="226.8" r="0.38" fill="#eeb07a" opacity="0.38"/>
<circle cx="241.9" cy="235.8" r="0.38" fill="#eeb07a" opacity="0.38"/>
<circle cx="235.2" cy="207.5" r="0.38" fill="#eeb07a" opacity="0.38"/>
<circle cx="217.4" cy="224.7" r="0.38" fill="#eeb07a" opacity="0.38"/>
<circle cx="233.9" cy="250.0" r="0.38" fill="#eeb07a" opacity="0.38"/>
<circle cx="221.4" cy="234.5" r="0.38" fill="#eeb07a" opacity="0.38"/>
<circle cx="237.7" cy="203.6" r="0.38" fill="#eeb07a" opacity="0.38"/>
<circle cx="221.8" cy="223.8" r="0.38" fill="#eeb07a" opacity="0.38"/>
<circle cx="225.1" cy="220.3" r="0.38" fill="#eeb07a" opacity="0.38"/>
<circle cx="234.7" cy="213.1" r="0.38" fill="#eeb07a" opacity="0.38"/>
<circle cx="234.7" cy="215.0" r="0.38" fill="#eeb07a" opacity="0.38"/>
<circle cx="224.6" cy="227.9" r="0.38" fill="#eeb07a" opacity="0.38"/>
<circle cx="224.3" cy="225.2" r="0.38" fill="#eeb07a" opacity="0.38"/>
<circle cx="246.0" cy="222.3" r="0.38" fill="#eeb07a" opacity="0.38"/>
<circle cx="228.5" cy="230.1" r="0.38" fill="#eeb07a" opacity="0.38"/>
<circle cx="226.3" cy="233.9" r="0.38" fill="#eeb07a" opacity="0.38"/>
<circle cx="217.2" cy="228.8" r="0.38" fill="#eeb07a" opacity="0.38"/>
<circle cx="224.9" cy="213.2" r="0.38" fill="#eeb07a" opacity="0.38"/>
<circle cx="247.7" cy="212.6" r="0.38" fill="#eeb07a" opacity="0.38"/>
<circle cx="247.6" cy="229.2" r="0.38" fill="#eeb07a" opacity="0.38"/>
<circle cx="244.5" cy="211.3" r="0.38" fill="#eeb07a" opacity="0.38"/>
<circle cx="242.0" cy="238.0" r="0.38" fill="#eeb07a" opacity="0.38"/>
<circle cx="228.8" cy="220.6" r="0.38" fill="#eeb07a" opacity="0.38"/>
<circle cx="254.6" cy="224.0" r="0.38" fill="#eeb07a" opacity="0.38"/>
<circle cx="225.8" cy="215.1" r="0.38" fill="#eeb07a" opacity="0.38"/>
<circle cx="234.5" cy="225.6" r="0.38" fill="#eeb07a" opacity="0.38"/>
<circle cx="231.8" cy="240.9" r="0.38" fill="#eeb07a" opacity="0.38"/>
<circle cx="226.7" cy="227.2" r="0.38" fill="#eeb07a" opacity="0.38"/>
<circle cx="244.6" cy="211.0" r="0.38" fill="#eeb07a" opacity="0.38"/>
<circle cx="240.4" cy="242.2" r="0.38" fill="#eeb07a" opacity="0.38"/>
<circle cx="216.5" cy="209.9" r="0.38" fill="#eeb07a" opacity="0.38"/>
<circle cx="219.6" cy="201.7" r="0.38" fill="#eeb07a" opacity="0.38"/>
<circle cx="234.5" cy="201.6" r="0.38" fill="#eeb07a" opacity="0.38"/>
<circle cx="235.0" cy="238.0" r="0.38" fill="#eeb07a" opacity="0.38"/>
<circle cx="213.8" cy="218.5" r="0.38" fill="#eeb07a" opacity="0.38"/>
<circle cx="210.8" cy="230.6" r="0.38" fill="#eeb07a" opacity="0.38"/>
<circle cx="222.6" cy="219.1" r="0.38" fill="#eeb07a" opacity="0.38"/>
<circle cx="230.5" cy="228.0" r="0.38" fill="#eeb07a" opacity="0.38"/>
<circle cx="226.5" cy="222.2" r="0.38" fill="#eeb07a" opacity="0.38"/>
<circle cx="224.5" cy="223.3" r="0.38" fill="#eeb07a" opacity="0.38"/>
<circle cx="218.3" cy="222.7" r="0.38" fill="#eeb07a" opacity="0.38"/>
<circle cx="210.7" cy="216.6" r="0.38" fill="#eeb07a" opacity="0.38"/>
<circle cx="249.2" cy="222.9" r="0.38" fill="#eeb07a" opacity="0.38"/>
<circle cx="217.4" cy="224.8" r="0.38" fill="#eeb07a" opacity="0.38"/>
<circle cx="220.3" cy="203.8" r="0.38" fill="#eeb07a" opacity="0.38"/>
<circle cx="222.6" cy="230.1" r="0.38" fill="#eeb07a" opacity="0.38"/>
<circle cx="233.8" cy="220.9" r="0.38" fill="#eeb07a" opacity="0.38"/>
<circle cx="220.7" cy="210.1" r="0.38" fill="#eeb07a" opacity="0.38"/>
<circle cx="243.5" cy="224.7" r="0.38" fill="#eeb07a" opacity="0.38"/>
<circle cx="220.5" cy="198.8" r="0.38" fill="#eeb07a" opacity="0.38"/>
<circle cx="216.3" cy="249.2" r="0.38" fill="#eeb07a" opacity="0.38"/>
<circle cx="218.5" cy="221.2" r="0.38" fill="#eeb07a" opacity="0.38"/>
<circle cx="232.1" cy="220.3" r="0.38" fill="#eeb07a" opacity="0.38"/>
<circle cx="227.2" cy="206.9" r="0.38" fill="#eeb07a" opacity="0.38"/>
<circle cx="219.5" cy="240.6" r="0.38" fill="#eeb07a" opacity="0.38"/>
<circle cx="222.4" cy="231.3" r="0.38" fill="#eeb07a" opacity="0.38"/>
<circle cx="213.1" cy="219.0" r="0.38" fill="#eeb07a" opacity="0.38"/>
<circle cx="232.6" cy="233.4" r="0.38" fill="#eeb07a" opacity="0.38"/>
<circle cx="218.8" cy="228.5" r="0.38" fill="#eeb07a" opacity="0.38"/>
<circle cx="233.9" cy="213.9" r="0.38" fill="#eeb07a" opacity="0.38"/>
<circle cx="234.8" cy="212.1" r="0.38" fill="#eeb07a" opacity="0.38"/>
<circle cx="222.0" cy="221.8" r="0.38" fill="#eeb07a" opacity="0.38"/>
<circle cx="202.9" cy="220.8" r="0.38" fill="#eeb07a" opacity="0.38"/>
<circle cx="220.0" cy="205.9" r="0.38" fill="#eeb07a" opacity="0.38"/>
<circle cx="225.7" cy="230.4" r="0.38" fill="#eeb07a" opacity="0.38"/>
<circle cx="226.0" cy="235.9" r="0.38" fill="#eeb07a" opacity="0.38"/>
<circle cx="218.4" cy="207.6" r="0.38" fill="#eeb07a" opacity="0.38"/>
<circle cx="245.5" cy="226.4" r="0.38" fill="#eeb07a" opacity="0.38"/>
<circle cx="239.5" cy="212.9" r="0.38" fill="#eeb07a" opacity="0.38"/>
<circle cx="238.0" cy="224.9" r="0.38" fill="#eeb07a" opacity="0.38"/>
<circle cx="236.5" cy="222.3" r="0.38" fill="#eeb07a" opacity="0.38"/>
<circle cx="242.1" cy="214.9" r="0.38" fill="#eeb07a" opacity="0.38"/>
<circle cx="220.4" cy="205.7" r="0.38" fill="#eeb07a" opacity="0.38"/>
<circle cx="241.6" cy="213.9" r="0.38" fill="#eeb07a" opacity="0.38"/>
<circle cx="219.6" cy="211.7" r="0.38" fill="#eeb07a" opacity="0.38"/>
<circle cx="225.5" cy="208.0" r="0.38" fill="#eeb07a" opacity="0.38"/>
<circle cx="227.1" cy="215.1" r="0.38" fill="#eeb07a" opacity="0.38"/>
<circle cx="224.5" cy="211.4" r="0.38" fill="#eeb07a" opacity="0.38"/>
<circle cx="230.4" cy="216.9" r="0.38" fill="#eeb07a" opacity="0.38"/>
<circle cx="231.1" cy="224.7" r="0.38" fill="#eeb07a" opacity="0.38"/>
<circle cx="233.4" cy="197.9" r="0.38" fill="#eeb07a" opacity="0.38"/>
<circle cx="224.6" cy="213.2" r="0.38" fill="#eeb07a" opacity="0.38"/>
<circle cx="237.7" cy="204.6" r="0.38" fill="#eeb07a" opacity="0.38"/>
<circle cx="222.9" cy="218.8" r="0.38" fill="#eeb07a" opacity="0.38"/>
<circle cx="226.6" cy="232.9" r="0.38" fill="#eeb07a" opacity="0.38"/>
<circle cx="225.6" cy="232.6" r="0.38" fill="#eeb07a" opacity="0.38"/>
<circle cx="215.3" cy="202.1" r="0.38" fill="#eeb07a" opacity="0.38"/>
<circle cx="242.2" cy="226.8" r="0.38" fill="#eeb07a" opacity="0.38"/>
<circle cx="234.9" cy="223.4" r="0.38" fill="#eeb07a" opacity="0.38"/>
<circle cx="234.8" cy="208.6" r="0.38" fill="#eeb07a" opacity="0.38"/>
<circle cx="239.5" cy="216.1" r="0.38" fill="#eeb07a" opacity="0.38"/>
<circle cx="239.9" cy="223.0" r="0.38" fill="#eeb07a" opacity="0.38"/>
<circle cx="210.3" cy="207.8" r="0.38" fill="#eeb07a" opacity="0.38"/>
<circle cx="241.3" cy="220.5" r="0.38" fill="#eeb07a" opacity="0.38"/>
<circle cx="226.0" cy="224.7" r="0.38" fill="#eeb07a" opacity="0.38"/>
<circle cx="225.7" cy="216.0" r="0.38" fill="#eeb07a" opacity="0.38"/>
<circle cx="231.0" cy="223.6" r="0.38" fill="#eeb07a" opacity="0.38"/>
<circle cx="245.2" cy="222.5" r="0.38" fill="#eeb07a" opacity="0.38"/>
<circle cx="248.8" cy="241.8" r="0.38" fill="#eeb07a" opacity="0.38"/>
<circle cx="247.2" cy="233.7" r="0.38" fill="#eeb07a" opacity="0.38"/>
<circle cx="231.3" cy="223.5" r="0.38" fill="#eeb07a" opacity="0.38"/>
<circle cx="228.6" cy="214.0" r="0.38" fill="#eeb07a" opacity="0.38"/>
<circle cx="229.3" cy="215.0" r="0.38" fill="#eeb07a" opacity="0.38"/>
<circle cx="246.4" cy="227.9" r="0.38" fill="#eeb07a" opacity="0.38"/>
<circle cx="225.5" cy="200.9" r="0.38" fill="#eeb07a" opacity="0.38"/>
<circle cx="229.5" cy="217.4" r="0.38" fill="#eeb07a" opacity="0.38"/>
<circle cx="219.1" cy="209.5" r="0.38" fill="#eeb07a" opacity="0.38"/>
<circle cx="207.5" cy="228.3" r="0.38" fill="#eeb07a" opacity="0.38"/>
<circle cx="229.3" cy="250.4" r="0.38" fill="#eeb07a" opacity="0.38"/>
<circle cx="229.7" cy="220.4" r="0.38" fill="#eeb07a" opacity="0.38"/>
<circle cx="244.4" cy="223.5" r="0.38" fill="#eeb07a" opacity="0.38"/>
<circle cx="231.7" cy="217.9" r="0.38" fill="#eeb07a" opacity="0.38"/>
<circle cx="223.9" cy="238.5" r="0.38" fill="#eeb07a" opacity="0.38"/>
<circle cx="240.0" cy="240.9" r="0.38" fill="#eeb07a" opacity="0.38"/>
<circle cx="226.5" cy="222.3" r="0.38" fill="#eeb07a" opacity="0.38"/>
<circle cx="221.2" cy="232.6" r="0.38" fill="#eeb07a" opacity="0.38"/>
<circle cx="216.1" cy="228.2" r="0.38" fill="#eeb07a" opacity="0.38"/>
<circle cx="241.0" cy="237.5" r="0.38" fill="#eeb07a" opacity="0.38"/>
<circle cx="220.6" cy="234.0" r="0.38" fill="#eeb07a" opacity="0.38"/>
<circle cx="222.9" cy="213.7" r="0.38" fill="#eeb07a" opacity="0.38"/>
<circle cx="216.8" cy="234.7" r="0.38" fill="#eeb07a" opacity="0.38"/>
<circle cx="246.5" cy="215.5" r="0.38" fill="#eeb07a" opacity="0.38"/>
<circle cx="222.4" cy="218.3" r="0.38" fill="#eeb07a" opacity="0.38"/>
<circle cx="255.1" cy="233.0" r="0.38" fill="#eeb07a" opacity="0.38"/>
<circle cx="224.6" cy="202.3" r="0.38" fill="#eeb07a" opacity="0.38"/>
<circle cx="223.3" cy="235.1" r="0.38" fill="#eeb07a" opacity="0.38"/>
<circle cx="248.7" cy="219.1" r="0.38" fill="#eeb07a" opacity="0.38"/>
<circle cx="223.1" cy="216.4" r="0.38" fill="#eeb07a" opacity="0.38"/>
<circle cx="211.1" cy="232.0" r="0.38" fill="#eeb07a" opacity="0.38"/>
<circle cx="219.1" cy="233.7" r="0.38" fill="#eeb07a" opacity="0.38"/>
<circle cx="212.9" cy="208.0" r="0.38" fill="#eeb07a" opacity="0.38"/>
<circle cx="232.9" cy="213.6" r="0.38" fill="#eeb07a" opacity="0.38"/>
<circle cx="237.8" cy="222.1" r="0.38" fill="#eeb07a" opacity="0.38"/>
<circle cx="218.3" cy="228.8" r="0.38" fill="#eeb07a" opacity="0.38"/>
<circle cx="238.4" cy="201.0" r="0.38" fill="#eeb07a" opacity="0.38"/>
<circle cx="248.3" cy="227.5" r="0.38" fill="#eeb07a" opacity="0.38"/>
<circle cx="237.6" cy="201.5" r="0.38" fill="#eeb07a" opacity="0.38"/>
<circle cx="222.8" cy="218.2" r="0.38" fill="#eeb07a" opacity="0.38"/>
<circle cx="240.8" cy="205.9" r="0.38" fill="#eeb07a" opacity="0.38"/>
<circle cx="221.2" cy="199.7" r="0.38" fill="#eeb07a" opacity="0.38"/>
<circle cx="227.6" cy="225.8" r="0.38" fill="#eeb07a" opacity="0.38"/>
<circle cx="213.1" cy="215.5" r="0.38" fill="#eeb07a" opacity="0.38"/>
<circle cx="235.1" cy="239.4" r="0.38" fill="#eeb07a" opacity="0.38"/>
<circle cx="236.6" cy="218.7" r="0.38" fill="#eeb07a" opacity="0.38"/>
<circle cx="218.2" cy="211.7" r="0.38" fill="#eeb07a" opacity="0.38"/>
<circle cx="223.4" cy="223.6" r="0.38" fill="#eeb07a" opacity="0.38"/>
<circle cx="229.5" cy="240.3" r="0.38" fill="#eeb07a" opacity="0.38"/>
<circle cx="232.9" cy="210.2" r="0.38" fill="#eeb07a" opacity="0.38"/>
<circle cx="245.4" cy="232.4" r="0.38" fill="#eeb07a" opacity="0.38"/>
<circle cx="231.0" cy="214.1" r="0.38" fill="#eeb07a" opacity="0.38"/>
<circle cx="211.3" cy="210.8" r="0.38" fill="#eeb07a" opacity="0.38"/>
<circle cx="239.1" cy="213.2" r="0.38" fill="#eeb07a" opacity="0.38"/>
<circle cx="216.8" cy="224.2" r="0.38" fill="#eeb07a" opacity="0.38"/>
<circle cx="232.4" cy="228.7" r="0.38" fill="#eeb07a" opacity="0.38"/>
<circle cx="236.6" cy="237.5" r="0.38" fill="#eeb07a" opacity="0.38"/>
<circle cx="221.6" cy="232.8" r="0.38" fill="#eeb07a" opacity="0.38"/>
<circle cx="220.1" cy="229.6" r="0.38" fill="#eeb07a" opacity="0.38"/>
<circle cx="231.8" cy="224.7" r="0.38" fill="#eeb07a" opacity="0.38"/>
<circle cx="239.7" cy="221.8" r="0.38" fill="#eeb07a" opacity="0.38"/>
<circle cx="241.1" cy="231.6" r="0.38" fill="#eeb07a" opacity="0.38"/>
<circle cx="231.4" cy="215.8" r="0.38" fill="#eeb07a" opacity="0.38"/>
<circle cx="222.5" cy="216.2" r="0.38" fill="#eeb07a" opacity="0.38"/>
<circle cx="228.0" cy="221.7" r="0.38" fill="#eeb07a" opacity="0.38"/>
<circle cx="259.8" cy="229.0" r="0.38" fill="#eeb07a" opacity="0.38"/>
<circle cx="237.7" cy="212.5" r="0.38" fill="#eeb07a" opacity="0.38"/>
<circle cx="222.9" cy="218.5" r="0.38" fill="#eeb07a" opacity="0.38"/>
<circle cx="231.9" cy="210.6" r="0.38" fill="#eeb07a" opacity="0.38"/>
<circle cx="246.1" cy="215.8" r="0.38" fill="#eeb07a" opacity="0.38"/>
<circle cx="240.8" cy="196.3" r="0.38" fill="#eeb07a" opacity="0.38"/>
<circle cx="229.9" cy="225.1" r="0.38" fill="#eeb07a" opacity="0.38"/>
<circle cx="231.9" cy="228.6" r="0.38" fill="#eeb07a" opacity="0.38"/>
<circle cx="232.8" cy="223.8" r="0.38" fill="#eeb07a" opacity="0.38"/>
<circle cx="211.1" cy="214.2" r="0.38" fill="#eeb07a" opacity="0.38"/>
<circle cx="206.6" cy="228.9" r="0.38" fill="#eeb07a" opacity="0.38"/>
<circle cx="233.1" cy="219.9" r="0.38" fill="#eeb07a" opacity="0.38"/>
<circle cx="221.8" cy="215.6" r="0.38" fill="#eeb07a" opacity="0.38"/>
<circle cx="248.5" cy="241.0" r="0.38" fill="#eeb07a" opacity="0.38"/>
<circle cx="229.4" cy="236.2" r="0.38" fill="#eeb07a" opacity="0.38"/>
<circle cx="214.1" cy="200.7" r="0.38" fill="#eeb07a" opacity="0.38"/>
<circle cx="225.2" cy="212.4" r="0.38" fill="#eeb07a" opacity="0.38"/>
<circle cx="224.4" cy="224.1" r="0.38" fill="#eeb07a" opacity="0.38"/>
<circle cx="260.2" cy="214.7" r="0.38" fill="#eeb07a" opacity="0.38"/>
<circle cx="230.5" cy="225.0" r="0.38" fill="#eeb07a" opacity="0.38"/>
<circle cx="229.7" cy="232.2" r="0.38" fill="#eeb07a" opacity="0.38"/>
<circle cx="247.8" cy="208.3" r="0.38" fill="#eeb07a" opacity="0.38"/>
<circle cx="231.6" cy="219.1" r="0.38" fill="#eeb07a" opacity="0.38"/>
<circle cx="233.6" cy="205.2" r="0.38" fill="#eeb07a" opacity="0.38"/>
<circle cx="212.4" cy="196.5" r="0.38" fill="#eeb07a" opacity="0.38"/>
<circle cx="235.3" cy="224.1" r="0.38" fill="#eeb07a" opacity="0.38"/>
<circle cx="230.7" cy="196.0" r="0.38" fill="#eeb07a" opacity="0.38"/>
<circle cx="226.3" cy="213.7" r="0.38" fill="#eeb07a" opacity="0.38"/>
<circle cx="215.9" cy="211.9" r="0.38" fill="#eeb07a" opacity="0.38"/>
<circle cx="237.0" cy="228.0" r="0.38" fill="#eeb07a" opacity="0.38"/>
<circle cx="229.8" cy="227.7" r="0.38" fill="#eeb07a" opacity="0.38"/>
<circle cx="224.0" cy="222.8" r="0.38" fill="#eeb07a" opacity="0.38"/>
<circle cx="230.4" cy="228.1" r="0.38" fill="#eeb07a" opacity="0.38"/>
<circle cx="229.3" cy="220.4" r="0.38" fill="#eeb07a" opacity="0.38"/>
<circle cx="228.7" cy="214.9" r="0.38" fill="#eeb07a" opacity="0.38"/>
<circle cx="252.3" cy="227.7" r="0.38" fill="#eeb07a" opacity="0.38"/>
<circle cx="234.3" cy="247.2" r="0.38" fill="#eeb07a" opacity="0.38"/>
<circle cx="244.0" cy="204.9" r="0.38" fill="#eeb07a" opacity="0.38"/>
<circle cx="237.0" cy="231.2" r="0.38" fill="#eeb07a" opacity="0.38"/>
<circle cx="248.8" cy="236.5" r="0.38" fill="#eeb07a" opacity="0.38"/>
<circle cx="237.7" cy="209.1" r="0.38" fill="#eeb07a" opacity="0.38"/>
<circle cx="221.3" cy="225.0" r="0.38" fill="#eeb07a" opacity="0.38"/>
<circle cx="235.0" cy="210.8" r="0.38" fill="#eeb07a" opacity="0.38"/>
<circle cx="226.2" cy="217.6" r="0.38" fill="#eeb07a" opacity="0.38"/>
<circle cx="230.6" cy="225.7" r="0.38" fill="#eeb07a" opacity="0.38"/>
<circle cx="227.1" cy="208.4" r="0.38" fill="#eeb07a" opacity="0.38"/>
<circle cx="242.4" cy="239.6" r="0.38" fill="#eeb07a" opacity="0.38"/>
<circle cx="228.9" cy="233.3" r="0.38" fill="#eeb07a" opacity="0.38"/>
<circle cx="234.4" cy="229.3" r="0.38" fill="#eeb07a" opacity="0.38"/>
<circle cx="234.8" cy="213.6" r="0.38" fill="#eeb07a" opacity="0.38"/>
<circle cx="235.7" cy="233.1" r="0.38" fill="#eeb07a" opacity="0.38"/>
<circle cx="221.0" cy="243.6" r="0.38" fill="#eeb07a" opacity="0.38"/>
<circle cx="250.9" cy="242.1" r="0.38" fill="#eeb07a" opacity="0.38"/>
<circle cx="249.9" cy="230.2" r="0.38" fill="#eeb07a" opacity="0.38"/>
<circle cx="226.6" cy="215.4" r="0.38" fill="#eeb07a" opacity="0.38"/>
<circle cx="221.9" cy="223.3" r="0.38" fill="#eeb07a" opacity="0.38"/>
<circle cx="229.7" cy="229.4" r="0.38" fill="#eeb07a" opacity="0.38"/>
<circle cx="209.8" cy="247.4" r="0.38" fill="#eeb07a" opacity="0.38"/>
<circle cx="252.8" cy="221.7" r="0.38" fill="#eeb07a" opacity="0.38"/>
<circle cx="236.8" cy="227.2" r="0.38" fill="#eeb07a" opacity="0.38"/>
<circle cx="232.7" cy="219.7" r="0.38" fill="#eeb07a" opacity="0.38"/>
<circle cx="228.8" cy="212.9" r="0.38" fill="#eeb07a" opacity="0.38"/>
<circle cx="231.8" cy="221.7" r="0.38" fill="#eeb07a" opacity="0.38"/>
<circle cx="233.2" cy="212.6" r="0.38" fill="#eeb07a" opacity="0.38"/>
<circle cx="230.4" cy="222.5" r="0.38" fill="#eeb07a" opacity="0.38"/>
<circle cx="236.0" cy="210.3" r="0.38" fill="#eeb07a" opacity="0.38"/>
<circle cx="234.2" cy="232.8" r="0.38" fill="#eeb07a" opacity="0.38"/>
<circle cx="236.0" cy="217.9" r="0.38" fill="#eeb07a" opacity="0.38"/>
<circle cx="225.1" cy="219.4" r="0.38" fill="#eeb07a" opacity="0.38"/>
<circle cx="237.3" cy="239.1" r="0.38" fill="#eeb07a" opacity="0.38"/>
<circle cx="228.4" cy="214.9" r="0.38" fill="#eeb07a" opacity="0.38"/>
<circle cx="233.8" cy="224.2" r="0.38" fill="#eeb07a" opacity="0.38"/>
<circle cx="220.9" cy="213.9" r="0.38" fill="#eeb07a" opacity="0.38"/>
<circle cx="229.0" cy="229.4" r="0.38" fill="#eeb07a" opacity="0.38"/>
<circle cx="218.1" cy="210.8" r="0.38" fill="#eeb07a" opacity="0.38"/>
<circle cx="235.0" cy="208.5" r="0.38" fill="#eeb07a" opacity="0.38"/>
<circle cx="231.1" cy="225.9" r="0.38" fill="#eeb07a" opacity="0.38"/>
<circle cx="228.9" cy="210.8" r="0.38" fill="#eeb07a" opacity="0.38"/>
<circle cx="229.4" cy="218.3" r="0.38" fill="#eeb07a" opacity="0.38"/>
<circle cx="233.4" cy="212.8" r="0.38" fill="#eeb07a" opacity="0.38"/>
<circle cx="240.9" cy="203.6" r="0.38" fill="#eeb07a" opacity="0.38"/>
<circle cx="228.2" cy="222.1" r="0.38" fill="#eeb07a" opacity="0.38"/>
<circle cx="239.6" cy="215.3" r="0.38" fill="#eeb07a" opacity="0.38"/>
<circle cx="235.5" cy="215.8" r="0.38" fill="#eeb07a" opacity="0.38"/>
<circle cx="237.4" cy="241.1" r="0.38" fill="#eeb07a" opacity="0.38"/>
<circle cx="226.0" cy="226.9" r="0.38" fill="#eeb07a" opacity="0.38"/>
<circle cx="220.7" cy="232.7" r="0.38" fill="#eeb07a" opacity="0.38"/>
<circle cx="242.1" cy="222.4" r="0.38" fill="#eeb07a" opacity="0.38"/>
<circle cx="218.7" cy="226.4" r="0.38" fill="#eeb07a" opacity="0.38"/>
<circle cx="241.5" cy="234.0" r="0.38" fill="#eeb07a" opacity="0.38"/>
<circle cx="238.1" cy="201.9" r="0.38" fill="#eeb07a" opacity="0.38"/>
<circle cx="223.2" cy="237.6" r="0.38" fill="#eeb07a" opacity="0.38"/>
<circle cx="217.7" cy="234.4" r="0.38" fill="#eeb07a" opacity="0.38"/>
<circle cx="248.8" cy="230.4" r="0.38" fill="#eeb07a" opacity="0.38"/>
<circle cx="241.2" cy="218.3" r="0.38" fill="#eeb07a" opacity="0.38"/>
<circle cx="217.7" cy="220.9" r="0.38" fill="#eeb07a" opacity="0.38"/>
<circle cx="228.0" cy="221.5" r="0.38" fill="#eeb07a" opacity="0.38"/>
<circle cx="237.0" cy="220.4" r="0.38" fill="#eeb07a" opacity="0.38"/>
<circle cx="231.9" cy="226.7" r="0.38" fill="#eeb07a" opacity="0.38"/>
<circle cx="229.9" cy="242.3" r="0.38" fill="#eeb07a" opacity="0.38"/>
<circle cx="234.4" cy="222.9" r="0.38" fill="#eeb07a" opacity="0.38"/>
<circle cx="227.9" cy="215.1" r="0.38" fill="#eeb07a" opacity="0.38"/>
<circle cx="243.4" cy="223.7" r="0.38" fill="#eeb07a" opacity="0.38"/>
<circle cx="219.2" cy="215.8" r="0.38" fill="#eeb07a" opacity="0.38"/>
<circle cx="228.6" cy="217.1" r="0.38" fill="#eeb07a" opacity="0.38"/>
<circle cx="240.8" cy="209.2" r="0.38" fill="#eeb07a" opacity="0.38"/>
<circle cx="234.9" cy="223.6" r="0.38" fill="#eeb07a" opacity="0.38"/>
<circle cx="218.2" cy="222.5" r="0.38" fill="#eeb07a" opacity="0.38"/>
<circle cx="229.1" cy="227.5" r="0.38" fill="#eeb07a" opacity="0.38"/>
<circle cx="225.5" cy="225.3" r="0.38" fill="#eeb07a" opacity="0.38"/>
<circle cx="213.3" cy="210.1" r="0.38" fill="#eeb07a" opacity="0.38"/>
<circle cx="237.8" cy="233.5" r="0.38" fill="#eeb07a" opacity="0.38"/>
<circle cx="229.9" cy="215.4" r="0.38" fill="#eeb07a" opacity="0.38"/>
</g>
<g clip-path="url(#qWT)">
<ellipse cx="203" cy="249.5" rx="9.0" ry="5.4" fill="#c4d4ec" opacity="0.35" filter="url(#blur1)" transform="rotate(-35 203 249.5)"/>
<circle cx="204.0" cy="239.6" r="0.38" fill="#6a8cc8" opacity="0.45"/>
<circle cx="200.5" cy="254.2" r="0.38" fill="#6a8cc8" opacity="0.45"/>
<circle cx="204.1" cy="244.2" r="0.38" fill="#6a8cc8" opacity="0.45"/>
<circle cx="196.7" cy="260.3" r="0.38" fill="#6a8cc8" opacity="0.45"/>
<circle cx="201.9" cy="246.3" r="0.38" fill="#6a8cc8" opacity="0.45"/>
<circle cx="205.1" cy="252.0" r="0.38" fill="#6a8cc8" opacity="0.45"/>
<circle cx="192.6" cy="261.7" r="0.38" fill="#6a8cc8" opacity="0.45"/>
<circle cx="202.3" cy="240.8" r="0.38" fill="#6a8cc8" opacity="0.45"/>
<circle cx="203.1" cy="241.6" r="0.38" fill="#6a8cc8" opacity="0.45"/>
<circle cx="209.4" cy="246.8" r="0.38" fill="#6a8cc8" opacity="0.45"/>
<circle cx="212.8" cy="239.9" r="0.38" fill="#6a8cc8" opacity="0.45"/>
<circle cx="205.2" cy="252.6" r="0.38" fill="#6a8cc8" opacity="0.45"/>
<circle cx="198.4" cy="249.6" r="0.38" fill="#6a8cc8" opacity="0.45"/>
<circle cx="201.0" cy="250.6" r="0.38" fill="#6a8cc8" opacity="0.45"/>
<circle cx="198.7" cy="254.7" r="0.38" fill="#6a8cc8" opacity="0.45"/>
<circle cx="205.8" cy="247.8" r="0.38" fill="#6a8cc8" opacity="0.45"/>
<circle cx="210.7" cy="242.7" r="0.38" fill="#6a8cc8" opacity="0.45"/>
<circle cx="208.3" cy="243.4" r="0.38" fill="#6a8cc8" opacity="0.45"/>
<circle cx="202.7" cy="241.2" r="0.38" fill="#6a8cc8" opacity="0.45"/>
<circle cx="203.6" cy="248.3" r="0.38" fill="#6a8cc8" opacity="0.45"/>
<circle cx="199.3" cy="249.4" r="0.38" fill="#6a8cc8" opacity="0.45"/>
<circle cx="199.8" cy="248.6" r="0.38" fill="#6a8cc8" opacity="0.45"/>
<circle cx="191.0" cy="255.3" r="0.38" fill="#6a8cc8" opacity="0.45"/>
<circle cx="199.2" cy="249.8" r="0.38" fill="#6a8cc8" opacity="0.45"/>
<circle cx="197.5" cy="252.7" r="0.38" fill="#6a8cc8" opacity="0.45"/>
<circle cx="206.3" cy="246.1" r="0.38" fill="#6a8cc8" opacity="0.45"/>
<circle cx="203.4" cy="255.2" r="0.38" fill="#6a8cc8" opacity="0.45"/>
<circle cx="209.7" cy="248.9" r="0.38" fill="#6a8cc8" opacity="0.45"/>
<circle cx="208.0" cy="244.6" r="0.38" fill="#6a8cc8" opacity="0.45"/>
<circle cx="204.7" cy="253.2" r="0.38" fill="#6a8cc8" opacity="0.45"/>
<circle cx="200.0" cy="251.1" r="0.38" fill="#6a8cc8" opacity="0.45"/>
<circle cx="205.6" cy="249.3" r="0.38" fill="#6a8cc8" opacity="0.45"/>
<circle cx="203.7" cy="253.4" r="0.38" fill="#6a8cc8" opacity="0.45"/>
<circle cx="203.6" cy="252.3" r="0.38" fill="#6a8cc8" opacity="0.45"/>
<circle cx="209.6" cy="247.8" r="0.38" fill="#6a8cc8" opacity="0.45"/>
<circle cx="204.2" cy="243.6" r="0.38" fill="#6a8cc8" opacity="0.45"/>
<circle cx="195.3" cy="252.2" r="0.38" fill="#6a8cc8" opacity="0.45"/>
<circle cx="208.4" cy="252.3" r="0.38" fill="#6a8cc8" opacity="0.45"/>
<circle cx="197.6" cy="254.6" r="0.38" fill="#6a8cc8" opacity="0.45"/>
<circle cx="197.3" cy="250.3" r="0.38" fill="#6a8cc8" opacity="0.45"/>
<circle cx="203.1" cy="252.5" r="0.38" fill="#6a8cc8" opacity="0.45"/>
<circle cx="206.5" cy="252.2" r="0.38" fill="#6a8cc8" opacity="0.45"/>
<circle cx="200.0" cy="255.5" r="0.38" fill="#6a8cc8" opacity="0.45"/>
<circle cx="207.7" cy="246.5" r="0.38" fill="#6a8cc8" opacity="0.45"/>
<circle cx="204.2" cy="246.2" r="0.38" fill="#6a8cc8" opacity="0.45"/>
<circle cx="196.8" cy="252.1" r="0.38" fill="#6a8cc8" opacity="0.45"/>
<circle cx="205.8" cy="260.2" r="0.38" fill="#6a8cc8" opacity="0.45"/>
<circle cx="204.0" cy="256.0" r="0.38" fill="#6a8cc8" opacity="0.45"/>
<circle cx="204.6" cy="249.7" r="0.38" fill="#6a8cc8" opacity="0.45"/>
<circle cx="205.0" cy="244.6" r="0.38" fill="#6a8cc8" opacity="0.45"/>
<circle cx="208.3" cy="247.5" r="0.38" fill="#6a8cc8" opacity="0.45"/>
<circle cx="196.8" cy="256.5" r="0.38" fill="#6a8cc8" opacity="0.45"/>
<circle cx="206.7" cy="248.9" r="0.38" fill="#6a8cc8" opacity="0.45"/>
<circle cx="209.9" cy="242.8" r="0.38" fill="#6a8cc8" opacity="0.45"/>
<circle cx="207.1" cy="249.9" r="0.38" fill="#6a8cc8" opacity="0.45"/>
<circle cx="201.1" cy="256.1" r="0.38" fill="#6a8cc8" opacity="0.45"/>
<circle cx="193.2" cy="250.7" r="0.38" fill="#6a8cc8" opacity="0.45"/>
<circle cx="203.3" cy="244.5" r="0.38" fill="#6a8cc8" opacity="0.45"/>
<circle cx="199.0" cy="245.0" r="0.38" fill="#6a8cc8" opacity="0.45"/>
<circle cx="201.0" cy="245.9" r="0.38" fill="#6a8cc8" opacity="0.45"/>
<circle cx="201.5" cy="243.8" r="0.38" fill="#6a8cc8" opacity="0.45"/>
<circle cx="204.7" cy="247.2" r="0.38" fill="#6a8cc8" opacity="0.45"/>
<circle cx="203.2" cy="249.1" r="0.38" fill="#6a8cc8" opacity="0.45"/>
<circle cx="200.9" cy="245.2" r="0.38" fill="#6a8cc8" opacity="0.45"/>
<circle cx="190.5" cy="258.4" r="0.38" fill="#6a8cc8" opacity="0.45"/>
<circle cx="197.5" cy="251.4" r="0.38" fill="#6a8cc8" opacity="0.45"/>
<circle cx="201.0" cy="242.2" r="0.38" fill="#6a8cc8" opacity="0.45"/>
<circle cx="198.0" cy="250.3" r="0.38" fill="#6a8cc8" opacity="0.45"/>
<circle cx="198.5" cy="254.1" r="0.38" fill="#6a8cc8" opacity="0.45"/>
<circle cx="200.6" cy="247.6" r="0.38" fill="#6a8cc8" opacity="0.45"/>
<circle cx="199.8" cy="255.3" r="0.38" fill="#6a8cc8" opacity="0.45"/>
<circle cx="201.0" cy="253.5" r="0.38" fill="#6a8cc8" opacity="0.45"/>
<circle cx="201.3" cy="242.4" r="0.38" fill="#6a8cc8" opacity="0.45"/>
<circle cx="197.7" cy="253.2" r="0.38" fill="#6a8cc8" opacity="0.45"/>
<circle cx="206.3" cy="250.6" r="0.38" fill="#6a8cc8" opacity="0.45"/>
<circle cx="209.1" cy="249.8" r="0.38" fill="#6a8cc8" opacity="0.45"/>
<circle cx="200.7" cy="250.2" r="0.38" fill="#6a8cc8" opacity="0.45"/>
<circle cx="205.9" cy="245.6" r="0.38" fill="#6a8cc8" opacity="0.45"/>
<circle cx="204.9" cy="241.2" r="0.38" fill="#6a8cc8" opacity="0.45"/>
<circle cx="205.9" cy="246.7" r="0.38" fill="#6a8cc8" opacity="0.45"/>
<circle cx="195.4" cy="259.2" r="0.38" fill="#6a8cc8" opacity="0.45"/>
<circle cx="204.6" cy="248.5" r="0.38" fill="#6a8cc8" opacity="0.45"/>
<circle cx="196.7" cy="251.8" r="0.38" fill="#6a8cc8" opacity="0.45"/>
<circle cx="208.7" cy="241.9" r="0.38" fill="#6a8cc8" opacity="0.45"/>
<circle cx="184.2" cy="258.9" r="0.38" fill="#6a8cc8" opacity="0.45"/>
<circle cx="196.8" cy="253.2" r="0.38" fill="#6a8cc8" opacity="0.45"/>
<circle cx="199.2" cy="248.2" r="0.38" fill="#6a8cc8" opacity="0.45"/>
<circle cx="201.0" cy="255.5" r="0.38" fill="#6a8cc8" opacity="0.45"/>
<circle cx="200.0" cy="260.2" r="0.38" fill="#6a8cc8" opacity="0.45"/>
<circle cx="198.1" cy="248.2" r="0.38" fill="#6a8cc8" opacity="0.45"/>
<circle cx="208.0" cy="248.5" r="0.38" fill="#6a8cc8" opacity="0.45"/>
<circle cx="199.4" cy="255.3" r="0.38" fill="#6a8cc8" opacity="0.45"/>
<circle cx="192.1" cy="253.1" r="0.38" fill="#6a8cc8" opacity="0.45"/>
<circle cx="208.0" cy="244.9" r="0.38" fill="#6a8cc8" opacity="0.45"/>
<circle cx="197.7" cy="255.5" r="0.38" fill="#6a8cc8" opacity="0.45"/>
<circle cx="207.5" cy="246.3" r="0.38" fill="#6a8cc8" opacity="0.45"/>
<circle cx="193.4" cy="254.7" r="0.38" fill="#6a8cc8" opacity="0.45"/>
<circle cx="206.6" cy="250.3" r="0.38" fill="#6a8cc8" opacity="0.45"/>
<circle cx="211.6" cy="242.4" r="0.38" fill="#6a8cc8" opacity="0.45"/>
<circle cx="200.5" cy="251.0" r="0.38" fill="#6a8cc8" opacity="0.45"/>
<circle cx="207.0" cy="242.6" r="0.38" fill="#6a8cc8" opacity="0.45"/>
<circle cx="203.7" cy="236.9" r="0.38" fill="#6a8cc8" opacity="0.45"/>
<circle cx="205.5" cy="244.8" r="0.38" fill="#6a8cc8" opacity="0.45"/>
<circle cx="206.7" cy="250.0" r="0.38" fill="#6a8cc8" opacity="0.45"/>
<circle cx="197.0" cy="253.3" r="0.38" fill="#6a8cc8" opacity="0.45"/>
<circle cx="205.4" cy="250.4" r="0.38" fill="#6a8cc8" opacity="0.45"/>
<circle cx="196.4" cy="249.8" r="0.38" fill="#6a8cc8" opacity="0.45"/>
<circle cx="198.8" cy="263.6" r="0.38" fill="#6a8cc8" opacity="0.45"/>
<circle cx="201.6" cy="249.5" r="0.38" fill="#6a8cc8" opacity="0.45"/>
<circle cx="197.6" cy="257.4" r="0.38" fill="#6a8cc8" opacity="0.45"/>
<circle cx="203.3" cy="255.6" r="0.38" fill="#6a8cc8" opacity="0.45"/>
<circle cx="207.2" cy="246.6" r="0.38" fill="#6a8cc8" opacity="0.45"/>
<circle cx="204.3" cy="243.7" r="0.38" fill="#6a8cc8" opacity="0.45"/>
<circle cx="200.2" cy="248.9" r="0.38" fill="#6a8cc8" opacity="0.45"/>
<circle cx="196.8" cy="253.9" r="0.38" fill="#6a8cc8" opacity="0.45"/>
<circle cx="205.3" cy="254.2" r="0.38" fill="#6a8cc8" opacity="0.45"/>
<circle cx="185.1" cy="259.1" r="0.38" fill="#6a8cc8" opacity="0.45"/>
<circle cx="197.5" cy="251.3" r="0.38" fill="#6a8cc8" opacity="0.45"/>
<circle cx="205.9" cy="249.2" r="0.38" fill="#6a8cc8" opacity="0.45"/>
<circle cx="202.2" cy="248.0" r="0.38" fill="#6a8cc8" opacity="0.45"/>
<circle cx="206.2" cy="248.9" r="0.38" fill="#6a8cc8" opacity="0.45"/>
<circle cx="193.4" cy="255.1" r="0.38" fill="#6a8cc8" opacity="0.45"/>
<circle cx="193.8" cy="250.7" r="0.38" fill="#6a8cc8" opacity="0.45"/>
<circle cx="203.8" cy="249.2" r="0.38" fill="#6a8cc8" opacity="0.45"/>
<circle cx="201.8" cy="246.5" r="0.38" fill="#6a8cc8" opacity="0.45"/>
<circle cx="200.1" cy="247.5" r="0.38" fill="#6a8cc8" opacity="0.45"/>
<circle cx="206.3" cy="250.2" r="0.38" fill="#6a8cc8" opacity="0.45"/>
<circle cx="214.2" cy="247.2" r="0.38" fill="#6a8cc8" opacity="0.45"/>
<circle cx="198.1" cy="250.9" r="0.38" fill="#6a8cc8" opacity="0.45"/>
<circle cx="199.0" cy="253.6" r="0.38" fill="#6a8cc8" opacity="0.45"/>
<circle cx="214.2" cy="244.8" r="0.38" fill="#6a8cc8" opacity="0.45"/>
<circle cx="189.6" cy="253.4" r="0.38" fill="#6a8cc8" opacity="0.45"/>
<circle cx="197.7" cy="255.5" r="0.38" fill="#6a8cc8" opacity="0.45"/>
<circle cx="203.6" cy="250.4" r="0.38" fill="#6a8cc8" opacity="0.45"/>
<circle cx="210.0" cy="240.9" r="0.38" fill="#6a8cc8" opacity="0.45"/>
<circle cx="202.9" cy="258.2" r="0.38" fill="#6a8cc8" opacity="0.45"/>
<circle cx="203.1" cy="246.0" r="0.38" fill="#6a8cc8" opacity="0.45"/>
<circle cx="189.9" cy="252.0" r="0.38" fill="#6a8cc8" opacity="0.45"/>
<circle cx="191.1" cy="258.1" r="0.38" fill="#6a8cc8" opacity="0.45"/>
<circle cx="205.3" cy="252.3" r="0.38" fill="#6a8cc8" opacity="0.45"/>
<circle cx="200.9" cy="247.9" r="0.38" fill="#6a8cc8" opacity="0.45"/>
<circle cx="203.3" cy="257.7" r="0.38" fill="#6a8cc8" opacity="0.45"/>
<circle cx="194.7" cy="256.1" r="0.38" fill="#6a8cc8" opacity="0.45"/>
<circle cx="204.4" cy="251.2" r="0.38" fill="#6a8cc8" opacity="0.45"/>
<circle cx="202.0" cy="252.4" r="0.38" fill="#6a8cc8" opacity="0.45"/>
<circle cx="206.7" cy="246.3" r="0.38" fill="#6a8cc8" opacity="0.45"/>
<circle cx="200.4" cy="250.5" r="0.38" fill="#6a8cc8" opacity="0.45"/>
<circle cx="197.8" cy="252.2" r="0.38" fill="#6a8cc8" opacity="0.45"/>
<circle cx="202.0" cy="251.2" r="0.38" fill="#6a8cc8" opacity="0.45"/>
<circle cx="212.3" cy="248.8" r="0.38" fill="#6a8cc8" opacity="0.45"/>
<circle cx="202.1" cy="252.8" r="0.38" fill="#6a8cc8" opacity="0.45"/>
<circle cx="206.0" cy="250.7" r="0.38" fill="#6a8cc8" opacity="0.45"/>
<circle cx="203.7" cy="250.2" r="0.38" fill="#6a8cc8" opacity="0.45"/>
<circle cx="199.1" cy="248.8" r="0.38" fill="#6a8cc8" opacity="0.45"/>
<circle cx="210.0" cy="250.3" r="0.38" fill="#6a8cc8" opacity="0.45"/>
<circle cx="207.2" cy="248.5" r="0.38" fill="#6a8cc8" opacity="0.45"/>
<circle cx="203.4" cy="247.3" r="0.38" fill="#6a8cc8" opacity="0.45"/>
<circle cx="195.6" cy="257.6" r="0.38" fill="#6a8cc8" opacity="0.45"/>
<circle cx="202.8" cy="247.2" r="0.38" fill="#6a8cc8" opacity="0.45"/>
<circle cx="200.9" cy="256.6" r="0.38" fill="#6a8cc8" opacity="0.45"/>
<circle cx="197.8" cy="260.9" r="0.38" fill="#6a8cc8" opacity="0.45"/>
<circle cx="211.0" cy="254.3" r="0.38" fill="#6a8cc8" opacity="0.45"/>
<circle cx="199.4" cy="251.9" r="0.38" fill="#6a8cc8" opacity="0.45"/>
<circle cx="200.8" cy="251.7" r="0.38" fill="#6a8cc8" opacity="0.45"/>
<circle cx="200.4" cy="248.0" r="0.38" fill="#6a8cc8" opacity="0.45"/>
<circle cx="206.7" cy="243.5" r="0.38" fill="#6a8cc8" opacity="0.45"/>
<circle cx="201.6" cy="252.9" r="0.38" fill="#6a8cc8" opacity="0.45"/>
<circle cx="199.5" cy="250.1" r="0.38" fill="#6a8cc8" opacity="0.45"/>
<circle cx="204.0" cy="247.2" r="0.38" fill="#6a8cc8" opacity="0.45"/>
<circle cx="196.7" cy="253.5" r="0.38" fill="#6a8cc8" opacity="0.45"/>
<circle cx="205.4" cy="255.3" r="0.38" fill="#6a8cc8" opacity="0.45"/>
<circle cx="199.6" cy="256.1" r="0.38" fill="#6a8cc8" opacity="0.45"/>
<circle cx="198.4" cy="251.2" r="0.38" fill="#6a8cc8" opacity="0.45"/>
<circle cx="202.0" cy="251.4" r="0.38" fill="#6a8cc8" opacity="0.45"/>
<circle cx="210.9" cy="251.7" r="0.38" fill="#6a8cc8" opacity="0.45"/>
<circle cx="202.6" cy="255.6" r="0.38" fill="#6a8cc8" opacity="0.45"/>
<circle cx="209.6" cy="248.5" r="0.38" fill="#6a8cc8" opacity="0.45"/>
<circle cx="201.1" cy="254.8" r="0.38" fill="#6a8cc8" opacity="0.45"/>
<circle cx="203.2" cy="250.9" r="0.38" fill="#6a8cc8" opacity="0.45"/>
<circle cx="203.0" cy="252.4" r="0.38" fill="#6a8cc8" opacity="0.45"/>
<circle cx="210.8" cy="249.0" r="0.38" fill="#6a8cc8" opacity="0.45"/>
<circle cx="204.0" cy="253.1" r="0.38" fill="#6a8cc8" opacity="0.45"/>
<circle cx="208.2" cy="241.7" r="0.38" fill="#6a8cc8" opacity="0.45"/>
<circle cx="207.5" cy="240.5" r="0.38" fill="#6a8cc8" opacity="0.45"/>
<circle cx="206.9" cy="249.4" r="0.38" fill="#6a8cc8" opacity="0.45"/>
<circle cx="210.9" cy="245.2" r="0.38" fill="#6a8cc8" opacity="0.45"/>
<circle cx="199.0" cy="248.8" r="0.38" fill="#6a8cc8" opacity="0.45"/>
<circle cx="198.4" cy="256.1" r="0.38" fill="#6a8cc8" opacity="0.45"/>
<circle cx="200.4" cy="248.2" r="0.38" fill="#6a8cc8" opacity="0.45"/>
<circle cx="204.0" cy="245.4" r="0.38" fill="#6a8cc8" opacity="0.45"/>
<circle cx="199.9" cy="249.7" r="0.38" fill="#6a8cc8" opacity="0.45"/>
<circle cx="214.2" cy="248.1" r="0.38" fill="#6a8cc8" opacity="0.45"/>
<circle cx="199.0" cy="245.4" r="0.38" fill="#6a8cc8" opacity="0.45"/>
<circle cx="204.5" cy="248.8" r="0.38" fill="#6a8cc8" opacity="0.45"/>
<circle cx="205.9" cy="250.0" r="0.38" fill="#6a8cc8" opacity="0.45"/>
<circle cx="203.3" cy="253.3" r="0.38" fill="#6a8cc8" opacity="0.45"/>
<circle cx="207.5" cy="247.2" r="0.38" fill="#6a8cc8" opacity="0.45"/>
<circle cx="200.0" cy="249.5" r="0.38" fill="#6a8cc8" opacity="0.45"/>
<circle cx="204.1" cy="243.9" r="0.38" fill="#6a8cc8" opacity="0.45"/>
<circle cx="200.7" cy="247.8" r="0.38" fill="#6a8cc8" opacity="0.45"/>
<circle cx="197.4" cy="256.1" r="0.38" fill="#6a8cc8" opacity="0.45"/>
<circle cx="202.9" cy="249.7" r="0.38" fill="#6a8cc8" opacity="0.45"/>
<circle cx="204.2" cy="242.1" r="0.38" fill="#6a8cc8" opacity="0.45"/>
<circle cx="203.3" cy="250.6" r="0.38" fill="#6a8cc8" opacity="0.45"/>
<circle cx="204.9" cy="243.4" r="0.38" fill="#6a8cc8" opacity="0.45"/>
<circle cx="207.0" cy="247.7" r="0.38" fill="#6a8cc8" opacity="0.45"/>
<circle cx="212.0" cy="248.2" r="0.38" fill="#6a8cc8" opacity="0.45"/>
<circle cx="210.1" cy="253.9" r="0.38" fill="#6a8cc8" opacity="0.45"/>
<circle cx="202.1" cy="248.3" r="0.38" fill="#6a8cc8" opacity="0.45"/>
<circle cx="199.4" cy="247.9" r="0.38" fill="#6a8cc8" opacity="0.45"/>
<circle cx="199.0" cy="244.1" r="0.38" fill="#6a8cc8" opacity="0.45"/>
<circle cx="203.5" cy="251.0" r="0.38" fill="#6a8cc8" opacity="0.45"/>
<circle cx="207.2" cy="245.1" r="0.38" fill="#6a8cc8" opacity="0.45"/>
<circle cx="208.5" cy="242.8" r="0.38" fill="#6a8cc8" opacity="0.45"/>
<circle cx="198.5" cy="244.4" r="0.38" fill="#6a8cc8" opacity="0.45"/>
<circle cx="197.6" cy="249.8" r="0.38" fill="#6a8cc8" opacity="0.45"/>
<circle cx="211.2" cy="246.0" r="0.38" fill="#6a8cc8" opacity="0.45"/>
<circle cx="198.8" cy="254.7" r="0.38" fill="#6a8cc8" opacity="0.45"/>
<circle cx="204.8" cy="247.2" r="0.38" fill="#6a8cc8" opacity="0.45"/>
<circle cx="202.5" cy="248.5" r="0.38" fill="#6a8cc8" opacity="0.45"/>
<circle cx="196.8" cy="246.2" r="0.38" fill="#6a8cc8" opacity="0.45"/>
<circle cx="205.2" cy="253.5" r="0.38" fill="#6a8cc8" opacity="0.45"/>
<circle cx="209.3" cy="243.9" r="0.38" fill="#6a8cc8" opacity="0.45"/>
<circle cx="199.0" cy="251.4" r="0.38" fill="#6a8cc8" opacity="0.45"/>
<circle cx="208.0" cy="247.5" r="0.38" fill="#6a8cc8" opacity="0.45"/>
<circle cx="200.9" cy="252.5" r="0.38" fill="#6a8cc8" opacity="0.45"/>
<circle cx="203.0" cy="251.7" r="0.38" fill="#6a8cc8" opacity="0.45"/>
<circle cx="198.1" cy="246.6" r="0.38" fill="#6a8cc8" opacity="0.45"/>
<circle cx="204.8" cy="251.5" r="0.38" fill="#6a8cc8" opacity="0.45"/>
<circle cx="197.5" cy="252.9" r="0.38" fill="#6a8cc8" opacity="0.45"/>
<circle cx="206.5" cy="245.5" r="0.38" fill="#6a8cc8" opacity="0.45"/>
<circle cx="204.0" cy="257.5" r="0.38" fill="#6a8cc8" opacity="0.45"/>
<circle cx="209.0" cy="249.7" r="0.38" fill="#6a8cc8" opacity="0.45"/>
<circle cx="201.8" cy="257.4" r="0.38" fill="#6a8cc8" opacity="0.45"/>
<circle cx="194.0" cy="253.6" r="0.38" fill="#6a8cc8" opacity="0.45"/>
<circle cx="209.2" cy="250.8" r="0.38" fill="#6a8cc8" opacity="0.45"/>
<circle cx="197.2" cy="250.7" r="0.38" fill="#6a8cc8" opacity="0.45"/>
<circle cx="200.1" cy="243.3" r="0.38" fill="#6a8cc8" opacity="0.45"/>
<circle cx="207.2" cy="249.0" r="0.38" fill="#6a8cc8" opacity="0.45"/>
<circle cx="201.9" cy="252.5" r="0.38" fill="#6a8cc8" opacity="0.45"/>
<circle cx="207.3" cy="247.8" r="0.38" fill="#6a8cc8" opacity="0.45"/>
<circle cx="208.5" cy="252.1" r="0.38" fill="#6a8cc8" opacity="0.45"/>
<circle cx="201.0" cy="251.6" r="0.38" fill="#6a8cc8" opacity="0.45"/>
<circle cx="202.6" cy="254.2" r="0.38" fill="#6a8cc8" opacity="0.45"/>
<circle cx="202.0" cy="252.2" r="0.38" fill="#6a8cc8" opacity="0.45"/>
<circle cx="203.8" cy="249.2" r="0.38" fill="#6a8cc8" opacity="0.45"/>
<circle cx="211.0" cy="243.5" r="0.38" fill="#6a8cc8" opacity="0.45"/>
<circle cx="211.4" cy="247.1" r="0.38" fill="#6a8cc8" opacity="0.45"/>
<circle cx="209.0" cy="244.6" r="0.38" fill="#6a8cc8" opacity="0.45"/>
<circle cx="208.9" cy="248.6" r="0.38" fill="#6a8cc8" opacity="0.45"/>
<circle cx="200.6" cy="252.3" r="0.38" fill="#6a8cc8" opacity="0.45"/>
<circle cx="202.3" cy="249.8" r="0.38" fill="#6a8cc8" opacity="0.45"/>
<circle cx="207.7" cy="243.1" r="0.38" fill="#6a8cc8" opacity="0.45"/>
<circle cx="191.5" cy="250.1" r="0.38" fill="#6a8cc8" opacity="0.45"/>
<circle cx="199.6" cy="249.2" r="0.38" fill="#6a8cc8" opacity="0.45"/>
<circle cx="204.2" cy="251.1" r="0.38" fill="#6a8cc8" opacity="0.45"/>
<circle cx="212.0" cy="244.5" r="0.38" fill="#6a8cc8" opacity="0.45"/>
<circle cx="203.7" cy="245.9" r="0.38" fill="#6a8cc8" opacity="0.45"/>
<circle cx="208.5" cy="251.4" r="0.38" fill="#6a8cc8" opacity="0.45"/>
<circle cx="205.5" cy="239.5" r="0.38" fill="#6a8cc8" opacity="0.45"/>
<circle cx="210.4" cy="251.0" r="0.38" fill="#6a8cc8" opacity="0.45"/>
<circle cx="203.9" cy="242.5" r="0.38" fill="#6a8cc8" opacity="0.45"/>
<circle cx="202.7" cy="252.2" r="0.38" fill="#6a8cc8" opacity="0.45"/>
<circle cx="203.4" cy="245.8" r="0.38" fill="#6a8cc8" opacity="0.45"/>
<circle cx="200.7" cy="255.2" r="0.38" fill="#6a8cc8" opacity="0.45"/>
<circle cx="199.5" cy="258.0" r="0.38" fill="#6a8cc8" opacity="0.45"/>
<circle cx="203.7" cy="250.3" r="0.38" fill="#6a8cc8" opacity="0.45"/>
<circle cx="195.5" cy="252.2" r="0.38" fill="#6a8cc8" opacity="0.45"/>
<circle cx="203.3" cy="243.0" r="0.38" fill="#6a8cc8" opacity="0.45"/>
<circle cx="210.0" cy="238.7" r="0.38" fill="#6a8cc8" opacity="0.45"/>
<circle cx="197.3" cy="253.7" r="0.38" fill="#6a8cc8" opacity="0.45"/>
<circle cx="206.7" cy="250.0" r="0.38" fill="#6a8cc8" opacity="0.45"/>
<circle cx="200.8" cy="250.1" r="0.38" fill="#6a8cc8" opacity="0.45"/>
<circle cx="200.7" cy="248.7" r="0.38" fill="#6a8cc8" opacity="0.45"/>
<circle cx="192.7" cy="260.8" r="0.38" fill="#6a8cc8" opacity="0.45"/>
<circle cx="204.5" cy="249.1" r="0.38" fill="#6a8cc8" opacity="0.45"/>
<circle cx="200.5" cy="252.3" r="0.38" fill="#6a8cc8" opacity="0.45"/>
<circle cx="202.8" cy="249.3" r="0.38" fill="#6a8cc8" opacity="0.45"/>
<circle cx="204.8" cy="241.0" r="0.38" fill="#6a8cc8" opacity="0.45"/>
<circle cx="202.1" cy="245.6" r="0.38" fill="#6a8cc8" opacity="0.45"/>
<circle cx="204.5" cy="254.8" r="0.38" fill="#6a8cc8" opacity="0.45"/>
<circle cx="197.7" cy="252.8" r="0.38" fill="#6a8cc8" opacity="0.45"/>
<circle cx="202.1" cy="254.1" r="0.38" fill="#6a8cc8" opacity="0.45"/>
<circle cx="195.0" cy="248.0" r="0.38" fill="#6a8cc8" opacity="0.45"/>
<circle cx="204.7" cy="246.8" r="0.38" fill="#6a8cc8" opacity="0.45"/>
<circle cx="203.6" cy="253.6" r="0.38" fill="#6a8cc8" opacity="0.45"/>
<circle cx="198.1" cy="251.4" r="0.38" fill="#6a8cc8" opacity="0.45"/>
<circle cx="204.5" cy="250.2" r="0.38" fill="#6a8cc8" opacity="0.45"/>
<circle cx="202.6" cy="254.1" r="0.38" fill="#6a8cc8" opacity="0.45"/>
<circle cx="212.8" cy="240.9" r="0.38" fill="#6a8cc8" opacity="0.45"/>
<circle cx="207.6" cy="237.3" r="0.38" fill="#6a8cc8" opacity="0.45"/>
<circle cx="209.0" cy="243.9" r="0.38" fill="#6a8cc8" opacity="0.45"/>
<circle cx="203.0" cy="248.1" r="0.38" fill="#6a8cc8" opacity="0.45"/>
<circle cx="197.5" cy="248.0" r="0.38" fill="#6a8cc8" opacity="0.45"/>
<circle cx="203.7" cy="254.5" r="0.38" fill="#6a8cc8" opacity="0.45"/>
<circle cx="207.7" cy="244.7" r="0.38" fill="#6a8cc8" opacity="0.45"/>
<circle cx="199.1" cy="249.3" r="0.38" fill="#6a8cc8" opacity="0.45"/>
<circle cx="200.9" cy="258.6" r="0.38" fill="#6a8cc8" opacity="0.45"/>
<circle cx="206.4" cy="247.6" r="0.38" fill="#6a8cc8" opacity="0.45"/>
<circle cx="198.7" cy="248.2" r="0.38" fill="#6a8cc8" opacity="0.45"/>
<circle cx="210.8" cy="247.4" r="0.38" fill="#6a8cc8" opacity="0.45"/>
<circle cx="200.5" cy="255.4" r="0.38" fill="#6a8cc8" opacity="0.45"/>
<circle cx="199.0" cy="255.0" r="0.38" fill="#6a8cc8" opacity="0.45"/>
<circle cx="197.6" cy="251.5" r="0.38" fill="#6a8cc8" opacity="0.45"/>
<circle cx="206.2" cy="249.1" r="0.38" fill="#6a8cc8" opacity="0.45"/>
<circle cx="206.1" cy="243.8" r="0.38" fill="#6a8cc8" opacity="0.45"/>
<circle cx="213.1" cy="248.1" r="0.38" fill="#6a8cc8" opacity="0.45"/>
<circle cx="203.9" cy="250.9" r="0.38" fill="#6a8cc8" opacity="0.45"/>
<circle cx="199.0" cy="251.6" r="0.38" fill="#6a8cc8" opacity="0.45"/>
<circle cx="196.9" cy="254.1" r="0.38" fill="#6a8cc8" opacity="0.45"/>
<circle cx="206.6" cy="252.6" r="0.38" fill="#6a8cc8" opacity="0.45"/>
<circle cx="209.1" cy="248.7" r="0.38" fill="#6a8cc8" opacity="0.45"/>
<circle cx="200.8" cy="250.1" r="0.38" fill="#6a8cc8" opacity="0.45"/>
<circle cx="201.8" cy="251.3" r="0.38" fill="#6a8cc8" opacity="0.45"/>
<circle cx="195.4" cy="258.1" r="0.38" fill="#6a8cc8" opacity="0.45"/>
<circle cx="194.6" cy="253.2" r="0.38" fill="#6a8cc8" opacity="0.45"/>
<circle cx="202.1" cy="248.0" r="0.38" fill="#6a8cc8" opacity="0.45"/>
<circle cx="210.7" cy="243.7" r="0.38" fill="#6a8cc8" opacity="0.45"/>
<circle cx="212.7" cy="247.6" r="0.38" fill="#6a8cc8" opacity="0.45"/>
<circle cx="201.4" cy="252.3" r="0.38" fill="#6a8cc8" opacity="0.45"/>
<circle cx="208.5" cy="244.3" r="0.38" fill="#6a8cc8" opacity="0.45"/>
<circle cx="202.3" cy="247.6" r="0.38" fill="#6a8cc8" opacity="0.45"/>
<circle cx="202.6" cy="248.3" r="0.38" fill="#6a8cc8" opacity="0.45"/>
<circle cx="205.4" cy="252.1" r="0.38" fill="#6a8cc8" opacity="0.45"/>
<circle cx="209.8" cy="245.3" r="0.38" fill="#6a8cc8" opacity="0.45"/>
<circle cx="205.7" cy="251.3" r="0.38" fill="#6a8cc8" opacity="0.45"/>
<circle cx="199.5" cy="247.5" r="0.38" fill="#6a8cc8" opacity="0.45"/>
<circle cx="206.4" cy="243.2" r="0.38" fill="#6a8cc8" opacity="0.45"/>
<circle cx="205.5" cy="243.7" r="0.38" fill="#6a8cc8" opacity="0.45"/>
<circle cx="209.6" cy="240.5" r="0.38" fill="#6a8cc8" opacity="0.45"/>
<circle cx="210.0" cy="250.9" r="0.38" fill="#6a8cc8" opacity="0.45"/>
<circle cx="201.4" cy="256.9" r="0.38" fill="#6a8cc8" opacity="0.45"/>
<circle cx="195.6" cy="247.2" r="0.38" fill="#6a8cc8" opacity="0.45"/>
<circle cx="207.8" cy="249.1" r="0.38" fill="#6a8cc8" opacity="0.45"/>
<circle cx="197.0" cy="243.0" r="0.38" fill="#6a8cc8" opacity="0.45"/>
<circle cx="202.1" cy="248.8" r="0.38" fill="#6a8cc8" opacity="0.45"/>
<circle cx="200.6" cy="249.9" r="0.38" fill="#6a8cc8" opacity="0.45"/>
<circle cx="193.4" cy="253.8" r="0.38" fill="#6a8cc8" opacity="0.45"/>
<circle cx="214.6" cy="247.9" r="0.38" fill="#6a8cc8" opacity="0.45"/>
<circle cx="199.9" cy="248.7" r="0.38" fill="#6a8cc8" opacity="0.45"/>
<circle cx="207.0" cy="251.2" r="0.38" fill="#6a8cc8" opacity="0.45"/>
<circle cx="204.1" cy="243.8" r="0.38" fill="#6a8cc8" opacity="0.45"/>
<circle cx="204.0" cy="249.4" r="0.38" fill="#6a8cc8" opacity="0.45"/>
<circle cx="212.2" cy="248.1" r="0.38" fill="#6a8cc8" opacity="0.45"/>
<circle cx="207.9" cy="251.2" r="0.38" fill="#6a8cc8" opacity="0.45"/>
<circle cx="204.2" cy="255.2" r="0.38" fill="#6a8cc8" opacity="0.45"/>
<circle cx="201.8" cy="252.0" r="0.38" fill="#6a8cc8" opacity="0.45"/>
<circle cx="205.5" cy="243.9" r="0.38" fill="#6a8cc8" opacity="0.45"/>
<circle cx="196.2" cy="246.8" r="0.38" fill="#6a8cc8" opacity="0.45"/>
<circle cx="203.7" cy="248.8" r="0.38" fill="#6a8cc8" opacity="0.45"/>
<circle cx="202.4" cy="252.0" r="0.38" fill="#6a8cc8" opacity="0.45"/>
<circle cx="193.0" cy="256.4" r="0.38" fill="#6a8cc8" opacity="0.45"/>
<circle cx="202.9" cy="248.5" r="0.38" fill="#6a8cc8" opacity="0.45"/>
<circle cx="210.2" cy="251.8" r="0.38" fill="#6a8cc8" opacity="0.45"/>
<circle cx="199.0" cy="248.3" r="0.38" fill="#6a8cc8" opacity="0.45"/>
<circle cx="200.3" cy="251.8" r="0.38" fill="#6a8cc8" opacity="0.45"/>
<circle cx="204.1" cy="245.1" r="0.38" fill="#6a8cc8" opacity="0.45"/>
<circle cx="205.7" cy="243.3" r="0.38" fill="#6a8cc8" opacity="0.45"/>
<circle cx="207.7" cy="248.0" r="0.38" fill="#6a8cc8" opacity="0.45"/>
<circle cx="209.5" cy="254.1" r="0.38" fill="#6a8cc8" opacity="0.45"/>
<circle cx="201.4" cy="249.9" r="0.38" fill="#6a8cc8" opacity="0.45"/>
<circle cx="207.0" cy="250.4" r="0.38" fill="#6a8cc8" opacity="0.45"/>
<circle cx="197.2" cy="254.7" r="0.38" fill="#6a8cc8" opacity="0.45"/>
<circle cx="200.8" cy="253.7" r="0.38" fill="#6a8cc8" opacity="0.45"/>
<circle cx="209.6" cy="245.1" r="0.38" fill="#6a8cc8" opacity="0.45"/>
<circle cx="202.9" cy="250.4" r="0.38" fill="#6a8cc8" opacity="0.45"/>
<circle cx="190.6" cy="261.4" r="0.38" fill="#6a8cc8" opacity="0.45"/>
<circle cx="206.0" cy="248.1" r="0.38" fill="#6a8cc8" opacity="0.45"/>
<circle cx="199.7" cy="248.7" r="0.38" fill="#6a8cc8" opacity="0.45"/>
<circle cx="204.6" cy="253.5" r="0.38" fill="#6a8cc8" opacity="0.45"/>
<circle cx="205.2" cy="253.7" r="0.38" fill="#6a8cc8" opacity="0.45"/>
<circle cx="190.0" cy="256.7" r="0.38" fill="#6a8cc8" opacity="0.45"/>
<circle cx="204.3" cy="248.6" r="0.38" fill="#6a8cc8" opacity="0.45"/>
<circle cx="193.8" cy="253.1" r="0.38" fill="#6a8cc8" opacity="0.45"/>
<circle cx="206.3" cy="241.7" r="0.38" fill="#6a8cc8" opacity="0.45"/>
<circle cx="196.2" cy="249.7" r="0.38" fill="#6a8cc8" opacity="0.45"/>
<circle cx="201.7" cy="253.1" r="0.38" fill="#6a8cc8" opacity="0.45"/>
<circle cx="201.8" cy="241.8" r="0.38" fill="#6a8cc8" opacity="0.45"/>
<circle cx="208.7" cy="243.0" r="0.38" fill="#6a8cc8" opacity="0.45"/>
<circle cx="203.5" cy="256.2" r="0.38" fill="#6a8cc8" opacity="0.45"/>
<circle cx="200.2" cy="246.3" r="0.38" fill="#6a8cc8" opacity="0.45"/>
<circle cx="198.5" cy="249.6" r="0.38" fill="#6a8cc8" opacity="0.45"/>
<circle cx="197.6" cy="251.9" r="0.38" fill="#6a8cc8" opacity="0.45"/>
<circle cx="207.8" cy="247.6" r="0.38" fill="#6a8cc8" opacity="0.45"/>
<circle cx="202.0" cy="262.0" r="0.38" fill="#6a8cc8" opacity="0.45"/>
<circle cx="198.6" cy="253.1" r="0.38" fill="#6a8cc8" opacity="0.45"/>
<circle cx="204.7" cy="251.6" r="0.38" fill="#6a8cc8" opacity="0.45"/>
<circle cx="202.4" cy="251.9" r="0.38" fill="#6a8cc8" opacity="0.45"/>
<circle cx="213.1" cy="242.8" r="0.38" fill="#6a8cc8" opacity="0.45"/>
<circle cx="198.5" cy="254.0" r="0.38" fill="#6a8cc8" opacity="0.45"/>
<circle cx="198.5" cy="251.1" r="0.38" fill="#6a8cc8" opacity="0.45"/>
<circle cx="204.6" cy="249.8" r="0.38" fill="#6a8cc8" opacity="0.45"/>
<circle cx="203.3" cy="252.8" r="0.38" fill="#6a8cc8" opacity="0.45"/>
<circle cx="199.5" cy="246.4" r="0.38" fill="#6a8cc8" opacity="0.45"/>
<circle cx="206.4" cy="245.6" r="0.38" fill="#6a8cc8" opacity="0.45"/>
<circle cx="207.4" cy="243.6" r="0.38" fill="#6a8cc8" opacity="0.45"/>
<circle cx="206.3" cy="248.5" r="0.38" fill="#6a8cc8" opacity="0.45"/>
<circle cx="187.3" cy="254.2" r="0.38" fill="#6a8cc8" opacity="0.45"/>
<circle cx="200.5" cy="257.2" r="0.38" fill="#6a8cc8" opacity="0.45"/>
<circle cx="195.9" cy="258.3" r="0.38" fill="#6a8cc8" opacity="0.45"/>
<circle cx="209.1" cy="247.3" r="0.38" fill="#6a8cc8" opacity="0.45"/>
<circle cx="205.2" cy="245.9" r="0.38" fill="#6a8cc8" opacity="0.45"/>
<circle cx="203.4" cy="250.2" r="0.38" fill="#6a8cc8" opacity="0.45"/>
<circle cx="206.4" cy="250.1" r="0.38" fill="#6a8cc8" opacity="0.45"/>
<circle cx="200.6" cy="248.2" r="0.38" fill="#6a8cc8" opacity="0.45"/>
<circle cx="201.2" cy="252.5" r="0.38" fill="#6a8cc8" opacity="0.45"/>
<circle cx="192.7" cy="251.4" r="0.38" fill="#6a8cc8" opacity="0.45"/>
<circle cx="200.0" cy="249.3" r="0.38" fill="#6a8cc8" opacity="0.45"/>
<circle cx="196.4" cy="242.9" r="0.38" fill="#6a8cc8" opacity="0.45"/>
<circle cx="200.9" cy="249.9" r="0.38" fill="#6a8cc8" opacity="0.45"/>
<circle cx="202.7" cy="241.3" r="0.38" fill="#6a8cc8" opacity="0.45"/>
<circle cx="202.5" cy="251.9" r="0.38" fill="#6a8cc8" opacity="0.45"/>
<circle cx="207.7" cy="251.3" r="0.38" fill="#6a8cc8" opacity="0.45"/>
<circle cx="205.9" cy="243.0" r="0.38" fill="#6a8cc8" opacity="0.45"/>
<circle cx="205.3" cy="246.4" r="0.38" fill="#6a8cc8" opacity="0.45"/>
<circle cx="202.3" cy="256.5" r="0.38" fill="#6a8cc8" opacity="0.45"/>
<circle cx="198.3" cy="249.2" r="0.38" fill="#6a8cc8" opacity="0.45"/>
<circle cx="199.4" cy="248.4" r="0.38" fill="#6a8cc8" opacity="0.45"/>
<circle cx="208.5" cy="247.2" r="0.38" fill="#6a8cc8" opacity="0.45"/>
<circle cx="210.4" cy="246.0" r="0.38" fill="#6a8cc8" opacity="0.45"/>
<circle cx="202.2" cy="254.5" r="0.38" fill="#6a8cc8" opacity="0.45"/>
<circle cx="199.0" cy="250.4" r="0.38" fill="#6a8cc8" opacity="0.45"/>
<circle cx="202.3" cy="250.2" r="0.38" fill="#6a8cc8" opacity="0.45"/>
<circle cx="207.4" cy="243.8" r="0.38" fill="#6a8cc8" opacity="0.45"/>
<circle cx="204.6" cy="248.3" r="0.38" fill="#6a8cc8" opacity="0.45"/>
<circle cx="194.9" cy="250.6" r="0.38" fill="#6a8cc8" opacity="0.45"/>
<circle cx="202.8" cy="251.4" r="0.38" fill="#6a8cc8" opacity="0.45"/>
<circle cx="205.5" cy="249.8" r="0.38" fill="#6a8cc8" opacity="0.45"/>
<circle cx="202.3" cy="248.1" r="0.38" fill="#6a8cc8" opacity="0.45"/>
<circle cx="203.0" cy="245.2" r="0.38" fill="#6a8cc8" opacity="0.45"/>
<circle cx="196.0" cy="253.0" r="0.38" fill="#6a8cc8" opacity="0.45"/>
<circle cx="195.2" cy="252.8" r="0.38" fill="#6a8cc8" opacity="0.45"/>
<circle cx="198.4" cy="250.4" r="0.38" fill="#6a8cc8" opacity="0.45"/>
<circle cx="201.2" cy="247.4" r="0.38" fill="#6a8cc8" opacity="0.45"/>
<circle cx="197.6" cy="246.0" r="0.38" fill="#6a8cc8" opacity="0.45"/>
<circle cx="201.9" cy="246.5" r="0.38" fill="#6a8cc8" opacity="0.45"/>
<circle cx="199.3" cy="240.1" r="0.38" fill="#6a8cc8" opacity="0.45"/>
<circle cx="199.7" cy="252.9" r="0.38" fill="#6a8cc8" opacity="0.45"/>
<circle cx="190.7" cy="256.6" r="0.38" fill="#6a8cc8" opacity="0.45"/>
<circle cx="203.7" cy="249.5" r="0.38" fill="#6a8cc8" opacity="0.45"/>
<circle cx="196.4" cy="255.1" r="0.38" fill="#6a8cc8" opacity="0.45"/>
<circle cx="201.8" cy="246.2" r="0.38" fill="#6a8cc8" opacity="0.45"/>
<circle cx="206.4" cy="246.9" r="0.38" fill="#6a8cc8" opacity="0.45"/>
<circle cx="202.2" cy="248.2" r="0.38" fill="#6a8cc8" opacity="0.45"/>
<circle cx="205.8" cy="248.0" r="0.38" fill="#6a8cc8" opacity="0.45"/>
<circle cx="209.3" cy="247.0" r="0.38" fill="#6a8cc8" opacity="0.45"/>
<circle cx="199.6" cy="250.9" r="0.38" fill="#6a8cc8" opacity="0.45"/>
<circle cx="206.6" cy="245.4" r="0.38" fill="#6a8cc8" opacity="0.45"/>
<circle cx="205.9" cy="249.7" r="0.38" fill="#6a8cc8" opacity="0.45"/>
<circle cx="197.5" cy="243.5" r="0.38" fill="#6a8cc8" opacity="0.45"/>
<circle cx="204.1" cy="249.7" r="0.38" fill="#6a8cc8" opacity="0.45"/>
<circle cx="202.1" cy="246.9" r="0.38" fill="#6a8cc8" opacity="0.45"/>
<circle cx="208.5" cy="245.1" r="0.38" fill="#6a8cc8" opacity="0.45"/>
<circle cx="198.6" cy="249.5" r="0.38" fill="#6a8cc8" opacity="0.45"/>
<circle cx="202.5" cy="245.2" r="0.38" fill="#6a8cc8" opacity="0.45"/>
<circle cx="202.2" cy="258.5" r="0.38" fill="#6a8cc8" opacity="0.45"/>
<circle cx="211.3" cy="248.1" r="0.38" fill="#6a8cc8" opacity="0.45"/>
<circle cx="210.7" cy="246.7" r="0.38" fill="#6a8cc8" opacity="0.45"/>
<circle cx="197.4" cy="258.5" r="0.38" fill="#6a8cc8" opacity="0.45"/>
<circle cx="209.9" cy="246.8" r="0.38" fill="#6a8cc8" opacity="0.45"/>
</g>
<g clip-path="url(#qJ)">
<ellipse cx="222" cy="253" rx="8.25" ry="11.25" fill="#e0ead8" opacity="0.35" filter="url(#blur1)" transform="rotate(-10 222 253)"/>
<circle cx="213.3" cy="263.7" r="0.38" fill="#98b888" opacity="0.42"/>
<circle cx="228.5" cy="248.2" r="0.38" fill="#98b888" opacity="0.42"/>
<circle cx="223.6" cy="258.4" r="0.38" fill="#98b888" opacity="0.42"/>
<circle cx="222.9" cy="260.9" r="0.38" fill="#98b888" opacity="0.42"/>
<circle cx="223.3" cy="257.9" r="0.38" fill="#98b888" opacity="0.42"/>
<circle cx="220.6" cy="242.3" r="0.38" fill="#98b888" opacity="0.42"/>
<circle cx="220.8" cy="276.6" r="0.38" fill="#98b888" opacity="0.42"/>
<circle cx="225.1" cy="262.1" r="0.38" fill="#98b888" opacity="0.42"/>
<circle cx="230.1" cy="264.2" r="0.38" fill="#98b888" opacity="0.42"/>
<circle cx="224.2" cy="248.2" r="0.38" fill="#98b888" opacity="0.42"/>
<circle cx="219.7" cy="239.2" r="0.38" fill="#98b888" opacity="0.42"/>
<circle cx="222.2" cy="259.7" r="0.38" fill="#98b888" opacity="0.42"/>
<circle cx="210.9" cy="256.4" r="0.38" fill="#98b888" opacity="0.42"/>
<circle cx="228.0" cy="261.7" r="0.38" fill="#98b888" opacity="0.42"/>
<circle cx="216.3" cy="249.2" r="0.38" fill="#98b888" opacity="0.42"/>
<circle cx="210.9" cy="247.4" r="0.38" fill="#98b888" opacity="0.42"/>
<circle cx="227.4" cy="267.3" r="0.38" fill="#98b888" opacity="0.42"/>
<circle cx="217.7" cy="263.9" r="0.38" fill="#98b888" opacity="0.42"/>
<circle cx="223.6" cy="249.1" r="0.38" fill="#98b888" opacity="0.42"/>
<circle cx="230.3" cy="232.9" r="0.38" fill="#98b888" opacity="0.42"/>
<circle cx="221.9" cy="254.6" r="0.38" fill="#98b888" opacity="0.42"/>
<circle cx="235.5" cy="263.9" r="0.38" fill="#98b888" opacity="0.42"/>
<circle cx="234.1" cy="251.9" r="0.38" fill="#98b888" opacity="0.42"/>
<circle cx="228.9" cy="261.9" r="0.38" fill="#98b888" opacity="0.42"/>
<circle cx="225.1" cy="255.1" r="0.38" fill="#98b888" opacity="0.42"/>
<circle cx="220.5" cy="250.2" r="0.38" fill="#98b888" opacity="0.42"/>
<circle cx="218.0" cy="268.1" r="0.38" fill="#98b888" opacity="0.42"/>
<circle cx="217.0" cy="238.5" r="0.38" fill="#98b888" opacity="0.42"/>
<circle cx="223.3" cy="252.5" r="0.38" fill="#98b888" opacity="0.42"/>
<circle cx="225.2" cy="265.9" r="0.38" fill="#98b888" opacity="0.42"/>
<circle cx="221.1" cy="251.2" r="0.38" fill="#98b888" opacity="0.42"/>
<circle cx="218.0" cy="253.5" r="0.38" fill="#98b888" opacity="0.42"/>
<circle cx="219.9" cy="254.9" r="0.38" fill="#98b888" opacity="0.42"/>
<circle cx="239.0" cy="252.9" r="0.38" fill="#98b888" opacity="0.42"/>
<circle cx="219.9" cy="267.7" r="0.38" fill="#98b888" opacity="0.42"/>
<circle cx="227.6" cy="258.1" r="0.38" fill="#98b888" opacity="0.42"/>
<circle cx="226.8" cy="258.2" r="0.38" fill="#98b888" opacity="0.42"/>
<circle cx="227.3" cy="262.5" r="0.38" fill="#98b888" opacity="0.42"/>
<circle cx="229.0" cy="261.8" r="0.38" fill="#98b888" opacity="0.42"/>
<circle cx="219.4" cy="253.4" r="0.38" fill="#98b888" opacity="0.42"/>
<circle cx="219.4" cy="260.6" r="0.38" fill="#98b888" opacity="0.42"/>
<circle cx="225.8" cy="248.9" r="0.38" fill="#98b888" opacity="0.42"/>
<circle cx="228.4" cy="271.3" r="0.38" fill="#98b888" opacity="0.42"/>
<circle cx="227.1" cy="243.8" r="0.38" fill="#98b888" opacity="0.42"/>
<circle cx="222.3" cy="257.7" r="0.38" fill="#98b888" opacity="0.42"/>
<circle cx="222.3" cy="255.8" r="0.38" fill="#98b888" opacity="0.42"/>
<circle cx="228.6" cy="254.3" r="0.38" fill="#98b888" opacity="0.42"/>
<circle cx="217.1" cy="259.2" r="0.38" fill="#98b888" opacity="0.42"/>
<circle cx="221.6" cy="253.9" r="0.38" fill="#98b888" opacity="0.42"/>
<circle cx="217.3" cy="243.6" r="0.38" fill="#98b888" opacity="0.42"/>
<circle cx="215.0" cy="251.6" r="0.38" fill="#98b888" opacity="0.42"/>
<circle cx="212.9" cy="234.5" r="0.38" fill="#98b888" opacity="0.42"/>
<circle cx="226.6" cy="243.6" r="0.38" fill="#98b888" opacity="0.42"/>
<circle cx="218.9" cy="257.5" r="0.38" fill="#98b888" opacity="0.42"/>
<circle cx="211.0" cy="264.9" r="0.38" fill="#98b888" opacity="0.42"/>
<circle cx="218.8" cy="258.5" r="0.38" fill="#98b888" opacity="0.42"/>
<circle cx="219.8" cy="255.6" r="0.38" fill="#98b888" opacity="0.42"/>
<circle cx="222.6" cy="252.9" r="0.38" fill="#98b888" opacity="0.42"/>
<circle cx="210.5" cy="244.1" r="0.38" fill="#98b888" opacity="0.42"/>
<circle cx="223.6" cy="263.2" r="0.38" fill="#98b888" opacity="0.42"/>
<circle cx="219.8" cy="257.3" r="0.38" fill="#98b888" opacity="0.42"/>
<circle cx="223.5" cy="256.3" r="0.38" fill="#98b888" opacity="0.42"/>
<circle cx="225.3" cy="241.3" r="0.38" fill="#98b888" opacity="0.42"/>
<circle cx="223.2" cy="251.5" r="0.38" fill="#98b888" opacity="0.42"/>
<circle cx="219.3" cy="247.1" r="0.38" fill="#98b888" opacity="0.42"/>
<circle cx="216.5" cy="246.3" r="0.38" fill="#98b888" opacity="0.42"/>
<circle cx="219.4" cy="272.1" r="0.38" fill="#98b888" opacity="0.42"/>
<circle cx="231.0" cy="251.5" r="0.38" fill="#98b888" opacity="0.42"/>
<circle cx="224.7" cy="245.3" r="0.38" fill="#98b888" opacity="0.42"/>
<circle cx="205.0" cy="242.5" r="0.38" fill="#98b888" opacity="0.42"/>
<circle cx="224.6" cy="263.2" r="0.38" fill="#98b888" opacity="0.42"/>
<circle cx="220.5" cy="245.8" r="0.38" fill="#98b888" opacity="0.42"/>
<circle cx="219.5" cy="246.0" r="0.38" fill="#98b888" opacity="0.42"/>
<circle cx="214.3" cy="252.6" r="0.38" fill="#98b888" opacity="0.42"/>
<circle cx="218.9" cy="247.5" r="0.38" fill="#98b888" opacity="0.42"/>
<circle cx="216.1" cy="247.1" r="0.38" fill="#98b888" opacity="0.42"/>
<circle cx="225.0" cy="262.8" r="0.38" fill="#98b888" opacity="0.42"/>
<circle cx="223.7" cy="269.3" r="0.38" fill="#98b888" opacity="0.42"/>
<circle cx="213.8" cy="256.5" r="0.38" fill="#98b888" opacity="0.42"/>
<circle cx="215.7" cy="252.9" r="0.38" fill="#98b888" opacity="0.42"/>
<circle cx="223.2" cy="256.9" r="0.38" fill="#98b888" opacity="0.42"/>
<circle cx="227.3" cy="248.0" r="0.38" fill="#98b888" opacity="0.42"/>
<circle cx="215.2" cy="252.8" r="0.38" fill="#98b888" opacity="0.42"/>
<circle cx="222.7" cy="247.7" r="0.38" fill="#98b888" opacity="0.42"/>
<circle cx="228.9" cy="264.3" r="0.38" fill="#98b888" opacity="0.42"/>
<circle cx="215.0" cy="256.9" r="0.38" fill="#98b888" opacity="0.42"/>
<circle cx="224.9" cy="238.2" r="0.38" fill="#98b888" opacity="0.42"/>
<circle cx="222.8" cy="251.2" r="0.38" fill="#98b888" opacity="0.42"/>
<circle cx="216.2" cy="263.8" r="0.38" fill="#98b888" opacity="0.42"/>
<circle cx="222.5" cy="249.4" r="0.38" fill="#98b888" opacity="0.42"/>
<circle cx="225.2" cy="257.2" r="0.38" fill="#98b888" opacity="0.42"/>
<circle cx="226.8" cy="256.5" r="0.38" fill="#98b888" opacity="0.42"/>
<circle cx="222.7" cy="244.2" r="0.38" fill="#98b888" opacity="0.42"/>
<circle cx="219.9" cy="254.3" r="0.38" fill="#98b888" opacity="0.42"/>
<circle cx="210.1" cy="270.9" r="0.38" fill="#98b888" opacity="0.42"/>
<circle cx="218.7" cy="245.8" r="0.38" fill="#98b888" opacity="0.42"/>
<circle cx="212.7" cy="256.5" r="0.38" fill="#98b888" opacity="0.42"/>
<circle cx="221.4" cy="248.8" r="0.38" fill="#98b888" opacity="0.42"/>
<circle cx="218.7" cy="247.0" r="0.38" fill="#98b888" opacity="0.42"/>
<circle cx="217.9" cy="253.0" r="0.38" fill="#98b888" opacity="0.42"/>
<circle cx="219.5" cy="258.5" r="0.38" fill="#98b888" opacity="0.42"/>
<circle cx="221.4" cy="254.1" r="0.38" fill="#98b888" opacity="0.42"/>
<circle cx="225.8" cy="261.8" r="0.38" fill="#98b888" opacity="0.42"/>
<circle cx="225.5" cy="254.1" r="0.38" fill="#98b888" opacity="0.42"/>
<circle cx="220.1" cy="247.4" r="0.38" fill="#98b888" opacity="0.42"/>
<circle cx="221.1" cy="258.2" r="0.38" fill="#98b888" opacity="0.42"/>
<circle cx="222.7" cy="250.0" r="0.38" fill="#98b888" opacity="0.42"/>
<circle cx="213.0" cy="243.2" r="0.38" fill="#98b888" opacity="0.42"/>
<circle cx="225.0" cy="260.1" r="0.38" fill="#98b888" opacity="0.42"/>
<circle cx="222.2" cy="242.8" r="0.38" fill="#98b888" opacity="0.42"/>
<circle cx="221.2" cy="254.8" r="0.38" fill="#98b888" opacity="0.42"/>
<circle cx="217.6" cy="256.4" r="0.38" fill="#98b888" opacity="0.42"/>
<circle cx="219.9" cy="247.2" r="0.38" fill="#98b888" opacity="0.42"/>
<circle cx="216.5" cy="260.0" r="0.38" fill="#98b888" opacity="0.42"/>
<circle cx="222.8" cy="246.3" r="0.38" fill="#98b888" opacity="0.42"/>
<circle cx="217.8" cy="260.3" r="0.38" fill="#98b888" opacity="0.42"/>
<circle cx="224.8" cy="250.3" r="0.38" fill="#98b888" opacity="0.42"/>
<circle cx="230.0" cy="249.4" r="0.38" fill="#98b888" opacity="0.42"/>
<circle cx="217.8" cy="261.8" r="0.38" fill="#98b888" opacity="0.42"/>
<circle cx="221.4" cy="255.7" r="0.38" fill="#98b888" opacity="0.42"/>
<circle cx="220.9" cy="245.8" r="0.38" fill="#98b888" opacity="0.42"/>
<circle cx="215.5" cy="252.7" r="0.38" fill="#98b888" opacity="0.42"/>
<circle cx="228.1" cy="244.5" r="0.38" fill="#98b888" opacity="0.42"/>
<circle cx="229.4" cy="253.3" r="0.38" fill="#98b888" opacity="0.42"/>
<circle cx="216.5" cy="256.0" r="0.38" fill="#98b888" opacity="0.42"/>
<circle cx="223.9" cy="246.0" r="0.38" fill="#98b888" opacity="0.42"/>
<circle cx="211.2" cy="257.5" r="0.38" fill="#98b888" opacity="0.42"/>
<circle cx="216.7" cy="257.2" r="0.38" fill="#98b888" opacity="0.42"/>
<circle cx="211.7" cy="253.8" r="0.38" fill="#98b888" opacity="0.42"/>
<circle cx="215.9" cy="243.1" r="0.38" fill="#98b888" opacity="0.42"/>
<circle cx="220.9" cy="254.5" r="0.38" fill="#98b888" opacity="0.42"/>
<circle cx="217.6" cy="245.0" r="0.38" fill="#98b888" opacity="0.42"/>
<circle cx="220.9" cy="240.2" r="0.38" fill="#98b888" opacity="0.42"/>
<circle cx="225.4" cy="256.0" r="0.38" fill="#98b888" opacity="0.42"/>
<circle cx="232.0" cy="257.8" r="0.38" fill="#98b888" opacity="0.42"/>
<circle cx="224.2" cy="254.6" r="0.38" fill="#98b888" opacity="0.42"/>
<circle cx="220.5" cy="243.5" r="0.38" fill="#98b888" opacity="0.42"/>
<circle cx="230.4" cy="255.4" r="0.38" fill="#98b888" opacity="0.42"/>
<circle cx="219.0" cy="245.0" r="0.38" fill="#98b888" opacity="0.42"/>
<circle cx="230.5" cy="255.4" r="0.38" fill="#98b888" opacity="0.42"/>
<circle cx="216.6" cy="258.9" r="0.38" fill="#98b888" opacity="0.42"/>
<circle cx="232.0" cy="251.1" r="0.38" fill="#98b888" opacity="0.42"/>
<circle cx="223.6" cy="249.6" r="0.38" fill="#98b888" opacity="0.42"/>
<circle cx="220.0" cy="261.3" r="0.38" fill="#98b888" opacity="0.42"/>
<circle cx="238.4" cy="251.0" r="0.38" fill="#98b888" opacity="0.42"/>
<circle cx="222.4" cy="258.8" r="0.38" fill="#98b888" opacity="0.42"/>
<circle cx="221.3" cy="258.5" r="0.38" fill="#98b888" opacity="0.42"/>
<circle cx="225.1" cy="244.9" r="0.38" fill="#98b888" opacity="0.42"/>
<circle cx="216.3" cy="253.5" r="0.38" fill="#98b888" opacity="0.42"/>
<circle cx="226.7" cy="254.2" r="0.38" fill="#98b888" opacity="0.42"/>
<circle cx="226.8" cy="242.0" r="0.38" fill="#98b888" opacity="0.42"/>
<circle cx="223.8" cy="248.1" r="0.38" fill="#98b888" opacity="0.42"/>
<circle cx="222.9" cy="255.2" r="0.38" fill="#98b888" opacity="0.42"/>
<circle cx="216.6" cy="252.3" r="0.38" fill="#98b888" opacity="0.42"/>
<circle cx="216.2" cy="256.0" r="0.38" fill="#98b888" opacity="0.42"/>
<circle cx="216.9" cy="250.2" r="0.38" fill="#98b888" opacity="0.42"/>
<circle cx="222.3" cy="248.1" r="0.38" fill="#98b888" opacity="0.42"/>
<circle cx="227.2" cy="247.4" r="0.38" fill="#98b888" opacity="0.42"/>
<circle cx="226.8" cy="254.2" r="0.38" fill="#98b888" opacity="0.42"/>
<circle cx="216.3" cy="252.4" r="0.38" fill="#98b888" opacity="0.42"/>
<circle cx="217.1" cy="251.2" r="0.38" fill="#98b888" opacity="0.42"/>
<circle cx="222.9" cy="266.3" r="0.38" fill="#98b888" opacity="0.42"/>
<circle cx="221.8" cy="264.6" r="0.38" fill="#98b888" opacity="0.42"/>
<circle cx="222.7" cy="243.2" r="0.38" fill="#98b888" opacity="0.42"/>
<circle cx="210.7" cy="260.0" r="0.38" fill="#98b888" opacity="0.42"/>
<circle cx="212.5" cy="260.0" r="0.38" fill="#98b888" opacity="0.42"/>
<circle cx="227.9" cy="254.8" r="0.38" fill="#98b888" opacity="0.42"/>
<circle cx="220.6" cy="251.4" r="0.38" fill="#98b888" opacity="0.42"/>
<circle cx="223.0" cy="250.6" r="0.38" fill="#98b888" opacity="0.42"/>
<circle cx="218.7" cy="250.8" r="0.38" fill="#98b888" opacity="0.42"/>
<circle cx="227.4" cy="247.5" r="0.38" fill="#98b888" opacity="0.42"/>
<circle cx="222.5" cy="244.4" r="0.38" fill="#98b888" opacity="0.42"/>
<circle cx="216.5" cy="243.8" r="0.38" fill="#98b888" opacity="0.42"/>
<circle cx="221.8" cy="258.1" r="0.38" fill="#98b888" opacity="0.42"/>
<circle cx="223.0" cy="249.2" r="0.38" fill="#98b888" opacity="0.42"/>
<circle cx="224.8" cy="250.0" r="0.38" fill="#98b888" opacity="0.42"/>
<circle cx="224.3" cy="254.6" r="0.38" fill="#98b888" opacity="0.42"/>
<circle cx="221.7" cy="234.8" r="0.38" fill="#98b888" opacity="0.42"/>
<circle cx="216.1" cy="259.7" r="0.38" fill="#98b888" opacity="0.42"/>
<circle cx="224.3" cy="269.1" r="0.38" fill="#98b888" opacity="0.42"/>
<circle cx="220.1" cy="249.3" r="0.38" fill="#98b888" opacity="0.42"/>
<circle cx="230.5" cy="255.6" r="0.38" fill="#98b888" opacity="0.42"/>
<circle cx="232.6" cy="254.9" r="0.38" fill="#98b888" opacity="0.42"/>
<circle cx="221.8" cy="258.4" r="0.38" fill="#98b888" opacity="0.42"/>
<circle cx="217.3" cy="250.5" r="0.38" fill="#98b888" opacity="0.42"/>
<circle cx="218.8" cy="251.9" r="0.38" fill="#98b888" opacity="0.42"/>
<circle cx="225.5" cy="248.8" r="0.38" fill="#98b888" opacity="0.42"/>
<circle cx="223.1" cy="249.1" r="0.38" fill="#98b888" opacity="0.42"/>
<circle cx="223.2" cy="232.5" r="0.38" fill="#98b888" opacity="0.42"/>
<circle cx="221.1" cy="254.4" r="0.38" fill="#98b888" opacity="0.42"/>
<circle cx="217.6" cy="261.2" r="0.38" fill="#98b888" opacity="0.42"/>
<circle cx="224.7" cy="261.9" r="0.38" fill="#98b888" opacity="0.42"/>
<circle cx="227.8" cy="256.7" r="0.38" fill="#98b888" opacity="0.42"/>
<circle cx="219.8" cy="245.4" r="0.38" fill="#98b888" opacity="0.42"/>
<circle cx="220.3" cy="249.9" r="0.38" fill="#98b888" opacity="0.42"/>
<circle cx="222.7" cy="249.4" r="0.38" fill="#98b888" opacity="0.42"/>
<circle cx="236.0" cy="238.8" r="0.38" fill="#98b888" opacity="0.42"/>
<circle cx="227.6" cy="248.6" r="0.38" fill="#98b888" opacity="0.42"/>
<circle cx="221.9" cy="259.8" r="0.38" fill="#98b888" opacity="0.42"/>
<circle cx="220.5" cy="244.3" r="0.38" fill="#98b888" opacity="0.42"/>
<circle cx="223.9" cy="251.2" r="0.38" fill="#98b888" opacity="0.42"/>
<circle cx="211.5" cy="256.3" r="0.38" fill="#98b888" opacity="0.42"/>
<circle cx="215.5" cy="248.7" r="0.38" fill="#98b888" opacity="0.42"/>
<circle cx="224.9" cy="254.7" r="0.38" fill="#98b888" opacity="0.42"/>
<circle cx="223.2" cy="268.7" r="0.38" fill="#98b888" opacity="0.42"/>
<circle cx="223.4" cy="248.2" r="0.38" fill="#98b888" opacity="0.42"/>
<circle cx="223.1" cy="251.9" r="0.38" fill="#98b888" opacity="0.42"/>
<circle cx="208.5" cy="243.8" r="0.38" fill="#98b888" opacity="0.42"/>
<circle cx="217.3" cy="269.0" r="0.38" fill="#98b888" opacity="0.42"/>
<circle cx="220.7" cy="251.2" r="0.38" fill="#98b888" opacity="0.42"/>
<circle cx="220.3" cy="260.5" r="0.38" fill="#98b888" opacity="0.42"/>
<circle cx="224.3" cy="265.1" r="0.38" fill="#98b888" opacity="0.42"/>
<circle cx="228.2" cy="264.0" r="0.38" fill="#98b888" opacity="0.42"/>
<circle cx="221.9" cy="255.8" r="0.38" fill="#98b888" opacity="0.42"/>
<circle cx="219.5" cy="252.2" r="0.38" fill="#98b888" opacity="0.42"/>
<circle cx="212.2" cy="250.5" r="0.38" fill="#98b888" opacity="0.42"/>
<circle cx="216.2" cy="249.2" r="0.38" fill="#98b888" opacity="0.42"/>
<circle cx="228.7" cy="253.7" r="0.38" fill="#98b888" opacity="0.42"/>
<circle cx="229.5" cy="258.0" r="0.38" fill="#98b888" opacity="0.42"/>
<circle cx="228.1" cy="259.3" r="0.38" fill="#98b888" opacity="0.42"/>
<circle cx="219.8" cy="259.3" r="0.38" fill="#98b888" opacity="0.42"/>
<circle cx="219.7" cy="249.5" r="0.38" fill="#98b888" opacity="0.42"/>
<circle cx="231.0" cy="267.3" r="0.38" fill="#98b888" opacity="0.42"/>
<circle cx="219.1" cy="266.3" r="0.38" fill="#98b888" opacity="0.42"/>
<circle cx="225.3" cy="246.2" r="0.38" fill="#98b888" opacity="0.42"/>
<circle cx="223.9" cy="255.4" r="0.38" fill="#98b888" opacity="0.42"/>
<circle cx="223.5" cy="250.1" r="0.38" fill="#98b888" opacity="0.42"/>
<circle cx="215.3" cy="254.4" r="0.38" fill="#98b888" opacity="0.42"/>
<circle cx="227.5" cy="257.8" r="0.38" fill="#98b888" opacity="0.42"/>
<circle cx="226.8" cy="260.2" r="0.38" fill="#98b888" opacity="0.42"/>
<circle cx="216.8" cy="253.6" r="0.38" fill="#98b888" opacity="0.42"/>
<circle cx="225.0" cy="259.8" r="0.38" fill="#98b888" opacity="0.42"/>
<circle cx="223.5" cy="256.5" r="0.38" fill="#98b888" opacity="0.42"/>
<circle cx="225.3" cy="267.8" r="0.38" fill="#98b888" opacity="0.42"/>
<circle cx="210.6" cy="254.8" r="0.38" fill="#98b888" opacity="0.42"/>
<circle cx="235.2" cy="252.4" r="0.38" fill="#98b888" opacity="0.42"/>
<circle cx="212.6" cy="255.6" r="0.38" fill="#98b888" opacity="0.42"/>
<circle cx="213.7" cy="249.5" r="0.38" fill="#98b888" opacity="0.42"/>
<circle cx="225.3" cy="265.0" r="0.38" fill="#98b888" opacity="0.42"/>
<circle cx="225.3" cy="257.3" r="0.38" fill="#98b888" opacity="0.42"/>
<circle cx="227.6" cy="253.5" r="0.38" fill="#98b888" opacity="0.42"/>
<circle cx="217.4" cy="253.1" r="0.38" fill="#98b888" opacity="0.42"/>
<circle cx="223.4" cy="250.7" r="0.38" fill="#98b888" opacity="0.42"/>
<circle cx="218.1" cy="251.1" r="0.38" fill="#98b888" opacity="0.42"/>
<circle cx="212.9" cy="247.1" r="0.38" fill="#98b888" opacity="0.42"/>
<circle cx="221.1" cy="250.5" r="0.38" fill="#98b888" opacity="0.42"/>
<circle cx="224.0" cy="262.9" r="0.38" fill="#98b888" opacity="0.42"/>
<circle cx="223.5" cy="252.5" r="0.38" fill="#98b888" opacity="0.42"/>
<circle cx="214.5" cy="246.4" r="0.38" fill="#98b888" opacity="0.42"/>
<circle cx="222.9" cy="246.4" r="0.38" fill="#98b888" opacity="0.42"/>
<circle cx="222.9" cy="245.0" r="0.38" fill="#98b888" opacity="0.42"/>
<circle cx="222.6" cy="252.4" r="0.38" fill="#98b888" opacity="0.42"/>
<circle cx="226.7" cy="249.3" r="0.38" fill="#98b888" opacity="0.42"/>
<circle cx="220.4" cy="255.1" r="0.38" fill="#98b888" opacity="0.42"/>
<circle cx="224.4" cy="265.0" r="0.38" fill="#98b888" opacity="0.42"/>
<circle cx="220.0" cy="249.4" r="0.38" fill="#98b888" opacity="0.42"/>
<circle cx="220.9" cy="256.7" r="0.38" fill="#98b888" opacity="0.42"/>
<circle cx="224.1" cy="257.7" r="0.38" fill="#98b888" opacity="0.42"/>
<circle cx="217.9" cy="271.9" r="0.38" fill="#98b888" opacity="0.42"/>
<circle cx="231.6" cy="251.1" r="0.38" fill="#98b888" opacity="0.42"/>
<circle cx="215.9" cy="255.2" r="0.38" fill="#98b888" opacity="0.42"/>
<circle cx="221.4" cy="236.8" r="0.38" fill="#98b888" opacity="0.42"/>
<circle cx="220.2" cy="242.5" r="0.38" fill="#98b888" opacity="0.42"/>
<circle cx="226.1" cy="262.4" r="0.38" fill="#98b888" opacity="0.42"/>
<circle cx="225.5" cy="241.3" r="0.38" fill="#98b888" opacity="0.42"/>
<circle cx="230.3" cy="258.2" r="0.38" fill="#98b888" opacity="0.42"/>
<circle cx="220.7" cy="256.9" r="0.38" fill="#98b888" opacity="0.42"/>
<circle cx="229.5" cy="249.2" r="0.38" fill="#98b888" opacity="0.42"/>
<circle cx="221.2" cy="249.0" r="0.38" fill="#98b888" opacity="0.42"/>
<circle cx="225.3" cy="236.6" r="0.38" fill="#98b888" opacity="0.42"/>
<circle cx="228.2" cy="244.8" r="0.38" fill="#98b888" opacity="0.42"/>
<circle cx="224.8" cy="240.6" r="0.38" fill="#98b888" opacity="0.42"/>
<circle cx="216.4" cy="249.6" r="0.38" fill="#98b888" opacity="0.42"/>
<circle cx="224.3" cy="240.7" r="0.38" fill="#98b888" opacity="0.42"/>
<circle cx="224.3" cy="247.9" r="0.38" fill="#98b888" opacity="0.42"/>
<circle cx="228.1" cy="249.6" r="0.38" fill="#98b888" opacity="0.42"/>
<circle cx="224.3" cy="251.3" r="0.38" fill="#98b888" opacity="0.42"/>
<circle cx="230.9" cy="248.8" r="0.38" fill="#98b888" opacity="0.42"/>
<circle cx="224.4" cy="267.1" r="0.38" fill="#98b888" opacity="0.42"/>
<circle cx="223.3" cy="257.8" r="0.38" fill="#98b888" opacity="0.42"/>
<circle cx="218.4" cy="255.1" r="0.38" fill="#98b888" opacity="0.42"/>
<circle cx="210.3" cy="255.8" r="0.38" fill="#98b888" opacity="0.42"/>
<circle cx="216.7" cy="242.9" r="0.38" fill="#98b888" opacity="0.42"/>
<circle cx="216.1" cy="262.4" r="0.38" fill="#98b888" opacity="0.42"/>
<circle cx="222.3" cy="241.8" r="0.38" fill="#98b888" opacity="0.42"/>
<circle cx="230.6" cy="246.4" r="0.38" fill="#98b888" opacity="0.42"/>
<circle cx="220.4" cy="255.1" r="0.38" fill="#98b888" opacity="0.42"/>
<circle cx="214.0" cy="242.6" r="0.38" fill="#98b888" opacity="0.42"/>
<circle cx="219.6" cy="262.1" r="0.38" fill="#98b888" opacity="0.42"/>
<circle cx="225.0" cy="240.9" r="0.38" fill="#98b888" opacity="0.42"/>
<circle cx="228.3" cy="252.1" r="0.38" fill="#98b888" opacity="0.42"/>
<circle cx="224.7" cy="252.9" r="0.38" fill="#98b888" opacity="0.42"/>
<circle cx="222.9" cy="245.5" r="0.38" fill="#98b888" opacity="0.42"/>
<circle cx="216.4" cy="248.8" r="0.38" fill="#98b888" opacity="0.42"/>
<circle cx="220.9" cy="257.7" r="0.38" fill="#98b888" opacity="0.42"/>
<circle cx="217.7" cy="265.4" r="0.38" fill="#98b888" opacity="0.42"/>
<circle cx="218.0" cy="249.4" r="0.38" fill="#98b888" opacity="0.42"/>
<circle cx="226.2" cy="255.4" r="0.38" fill="#98b888" opacity="0.42"/>
<circle cx="218.9" cy="245.7" r="0.38" fill="#98b888" opacity="0.42"/>
<circle cx="214.8" cy="242.6" r="0.38" fill="#98b888" opacity="0.42"/>
<circle cx="229.3" cy="259.6" r="0.38" fill="#98b888" opacity="0.42"/>
<circle cx="232.4" cy="254.8" r="0.38" fill="#98b888" opacity="0.42"/>
<circle cx="224.7" cy="258.1" r="0.38" fill="#98b888" opacity="0.42"/>
<circle cx="226.6" cy="250.3" r="0.38" fill="#98b888" opacity="0.42"/>
<circle cx="226.5" cy="268.0" r="0.38" fill="#98b888" opacity="0.42"/>
<circle cx="211.4" cy="244.6" r="0.38" fill="#98b888" opacity="0.42"/>
<circle cx="217.9" cy="259.2" r="0.38" fill="#98b888" opacity="0.42"/>
<circle cx="227.8" cy="249.5" r="0.38" fill="#98b888" opacity="0.42"/>
<circle cx="225.4" cy="252.0" r="0.38" fill="#98b888" opacity="0.42"/>
<circle cx="222.9" cy="248.9" r="0.38" fill="#98b888" opacity="0.42"/>
<circle cx="221.9" cy="253.0" r="0.38" fill="#98b888" opacity="0.42"/>
<circle cx="230.7" cy="267.8" r="0.38" fill="#98b888" opacity="0.42"/>
<circle cx="213.2" cy="258.5" r="0.38" fill="#98b888" opacity="0.42"/>
<circle cx="223.2" cy="259.9" r="0.38" fill="#98b888" opacity="0.42"/>
<circle cx="228.5" cy="257.6" r="0.38" fill="#98b888" opacity="0.42"/>
<circle cx="225.0" cy="245.5" r="0.38" fill="#98b888" opacity="0.42"/>
<circle cx="215.2" cy="266.4" r="0.38" fill="#98b888" opacity="0.42"/>
<circle cx="227.1" cy="245.1" r="0.38" fill="#98b888" opacity="0.42"/>
<circle cx="229.6" cy="256.6" r="0.38" fill="#98b888" opacity="0.42"/>
<circle cx="210.3" cy="261.7" r="0.38" fill="#98b888" opacity="0.42"/>
<circle cx="218.3" cy="262.2" r="0.38" fill="#98b888" opacity="0.42"/>
<circle cx="217.5" cy="248.3" r="0.38" fill="#98b888" opacity="0.42"/>
<circle cx="213.7" cy="252.9" r="0.38" fill="#98b888" opacity="0.42"/>
<circle cx="226.5" cy="247.3" r="0.38" fill="#98b888" opacity="0.42"/>
<circle cx="215.0" cy="270.0" r="0.38" fill="#98b888" opacity="0.42"/>
<circle cx="232.5" cy="256.2" r="0.38" fill="#98b888" opacity="0.42"/>
<circle cx="217.7" cy="244.9" r="0.38" fill="#98b888" opacity="0.42"/>
<circle cx="214.2" cy="258.5" r="0.38" fill="#98b888" opacity="0.42"/>
<circle cx="227.5" cy="244.3" r="0.38" fill="#98b888" opacity="0.42"/>
<circle cx="221.7" cy="251.0" r="0.38" fill="#98b888" opacity="0.42"/>
<circle cx="221.3" cy="256.8" r="0.38" fill="#98b888" opacity="0.42"/>
<circle cx="232.1" cy="246.5" r="0.38" fill="#98b888" opacity="0.42"/>
<circle cx="227.8" cy="260.0" r="0.38" fill="#98b888" opacity="0.42"/>
<circle cx="220.3" cy="252.2" r="0.38" fill="#98b888" opacity="0.42"/>
<circle cx="216.4" cy="261.9" r="0.38" fill="#98b888" opacity="0.42"/>
<circle cx="218.4" cy="248.8" r="0.38" fill="#98b888" opacity="0.42"/>
<circle cx="221.3" cy="246.8" r="0.38" fill="#98b888" opacity="0.42"/>
<circle cx="216.2" cy="251.8" r="0.38" fill="#98b888" opacity="0.42"/>
<circle cx="229.5" cy="250.2" r="0.38" fill="#98b888" opacity="0.42"/>
<circle cx="222.9" cy="242.1" r="0.38" fill="#98b888" opacity="0.42"/>
<circle cx="214.1" cy="267.7" r="0.38" fill="#98b888" opacity="0.42"/>
<circle cx="218.0" cy="242.4" r="0.38" fill="#98b888" opacity="0.42"/>
<circle cx="222.2" cy="257.4" r="0.38" fill="#98b888" opacity="0.42"/>
<circle cx="211.9" cy="248.3" r="0.38" fill="#98b888" opacity="0.42"/>
<circle cx="222.2" cy="246.2" r="0.38" fill="#98b888" opacity="0.42"/>
<circle cx="227.4" cy="259.1" r="0.38" fill="#98b888" opacity="0.42"/>
<circle cx="223.8" cy="249.5" r="0.38" fill="#98b888" opacity="0.42"/>
<circle cx="221.0" cy="248.5" r="0.38" fill="#98b888" opacity="0.42"/>
<circle cx="221.7" cy="255.4" r="0.38" fill="#98b888" opacity="0.42"/>
<circle cx="221.7" cy="260.2" r="0.38" fill="#98b888" opacity="0.42"/>
<circle cx="234.9" cy="246.7" r="0.38" fill="#98b888" opacity="0.42"/>
<circle cx="224.8" cy="258.6" r="0.38" fill="#98b888" opacity="0.42"/>
<circle cx="225.1" cy="250.7" r="0.38" fill="#98b888" opacity="0.42"/>
<circle cx="220.8" cy="260.6" r="0.38" fill="#98b888" opacity="0.42"/>
<circle cx="225.9" cy="256.0" r="0.38" fill="#98b888" opacity="0.42"/>
<circle cx="218.6" cy="258.2" r="0.38" fill="#98b888" opacity="0.42"/>
<circle cx="225.9" cy="250.9" r="0.38" fill="#98b888" opacity="0.42"/>
<circle cx="228.1" cy="267.9" r="0.38" fill="#98b888" opacity="0.42"/>
<circle cx="212.9" cy="259.1" r="0.38" fill="#98b888" opacity="0.42"/>
<circle cx="214.2" cy="244.3" r="0.38" fill="#98b888" opacity="0.42"/>
<circle cx="221.5" cy="257.1" r="0.38" fill="#98b888" opacity="0.42"/>
<circle cx="220.8" cy="244.6" r="0.38" fill="#98b888" opacity="0.42"/>
<circle cx="213.8" cy="250.4" r="0.38" fill="#98b888" opacity="0.42"/>
<circle cx="221.0" cy="247.1" r="0.38" fill="#98b888" opacity="0.42"/>
<circle cx="216.3" cy="266.9" r="0.38" fill="#98b888" opacity="0.42"/>
<circle cx="217.4" cy="252.7" r="0.38" fill="#98b888" opacity="0.42"/>
<circle cx="218.4" cy="249.3" r="0.38" fill="#98b888" opacity="0.42"/>
<circle cx="221.8" cy="250.8" r="0.38" fill="#98b888" opacity="0.42"/>
<circle cx="223.8" cy="244.0" r="0.38" fill="#98b888" opacity="0.42"/>
<circle cx="216.7" cy="268.3" r="0.38" fill="#98b888" opacity="0.42"/>
<circle cx="222.6" cy="258.6" r="0.38" fill="#98b888" opacity="0.42"/>
<circle cx="228.9" cy="255.9" r="0.38" fill="#98b888" opacity="0.42"/>
<circle cx="220.2" cy="241.8" r="0.38" fill="#98b888" opacity="0.42"/>
<circle cx="214.8" cy="261.5" r="0.38" fill="#98b888" opacity="0.42"/>
<circle cx="226.3" cy="256.4" r="0.38" fill="#98b888" opacity="0.42"/>
<circle cx="210.6" cy="239.3" r="0.38" fill="#98b888" opacity="0.42"/>
<circle cx="215.0" cy="245.5" r="0.38" fill="#98b888" opacity="0.42"/>
<circle cx="221.5" cy="245.5" r="0.38" fill="#98b888" opacity="0.42"/>
<circle cx="229.5" cy="247.1" r="0.38" fill="#98b888" opacity="0.42"/>
<circle cx="220.1" cy="259.7" r="0.38" fill="#98b888" opacity="0.42"/>
</g>
<line x1="213.00" y1="240.40" x2="244.20" y2="240.40" stroke="#f5d8b8" stroke-width="0.6" />
<line x1="183.40" y1="270.00" x2="183.40" y2="204.00" stroke="#7b2a86" stroke-width="1.5" />
<polygon points="179.90,206.60 186.90,206.60 183.40,199.00" fill="#7b2a86" stroke="none" stroke-width="1" />
<line x1="182.70" y1="269.30" x2="248.00" y2="269.30" stroke="#4ea65a" stroke-width="1.5" />
<polygon points="245.50,265.80 245.50,272.80 253.20,269.30" fill="#4ea65a" stroke="none" stroke-width="1" />
<text x="187.50" y="214.65" font-size="8.2" fill="#9c3d9c" font-weight="normal" textLength="4.30" lengthAdjust="spacingAndGlyphs"  stroke="#9c3d9c" stroke-width="0.12">S</text>
<text x="229.60" y="214.95" font-size="8.2" fill="#ee9a3a" font-weight="normal" textLength="13.90" lengthAdjust="spacingAndGlyphs"  stroke="#ee9a3a" stroke-width="0.12">J+S</text>
<text x="186.60" y="266.10" font-size="8.6" fill="#3a3a3a" font-weight="normal" textLength="10.90" lengthAdjust="spacingAndGlyphs"  stroke="#3a3a3a" stroke-width="0.12">WT</text>
<text x="235.80" y="265.75" font-size="8.2" fill="#5aa860" font-weight="normal" textLength="3.00" lengthAdjust="spacingAndGlyphs"  stroke="#5aa860" stroke-width="0.12">J</text>
<text x="196.00" y="281.30" font-size="8.6" fill="#5aa860" font-weight="normal" textLength="44.50" lengthAdjust="spacingAndGlyphs"  stroke="#5aa860" stroke-width="0.12">JAK3(M511I)</text>
<text transform="translate(178.6,255.2) rotate(-90)" font-size="9.4" fill="#9c3d9c" textLength="41.7" lengthAdjust="spacingAndGlyphs" stroke="#9c3d9c" stroke-width="0.12">Suz12 gRNA</text>
<text x="277.40" y="172.32" font-size="12" fill="#000" font-weight="bold" textLength="7.80" lengthAdjust="spacingAndGlyphs"  stroke="#000" stroke-width="0.12">C</text>
<text x="368.45" y="179.10" font-size="8.6" fill="#231f20" font-weight="normal" textLength="15.50" lengthAdjust="spacingAndGlyphs"  stroke="#231f20" stroke-width="0.12">-IL7</text>
<line x1="301.20" y1="185.50" x2="301.20" y2="286.90" stroke="#231f20" stroke-width="1.35" />
<line x1="300.60" y1="286.20" x2="450.50" y2="286.20" stroke="#231f20" stroke-width="1.35" />
<line x1="298.20" y1="286.20" x2="301.20" y2="286.20" stroke="#231f20" stroke-width="1.0" />
<line x1="299.20" y1="269.70" x2="301.20" y2="269.70" stroke="#231f20" stroke-width="1.0" />
<line x1="298.20" y1="253.20" x2="301.20" y2="253.20" stroke="#231f20" stroke-width="1.0" />
<line x1="299.20" y1="236.70" x2="301.20" y2="236.70" stroke="#231f20" stroke-width="1.0" />
<line x1="298.20" y1="220.20" x2="301.20" y2="220.20" stroke="#231f20" stroke-width="1.0" />
<line x1="299.20" y1="203.70" x2="301.20" y2="203.70" stroke="#231f20" stroke-width="1.0" />
<line x1="298.20" y1="187.20" x2="301.20" y2="187.20" stroke="#231f20" stroke-width="1.0" />
<text x="291.20" y="289.15" font-size="8.2" fill="#231f20" font-weight="normal"  stroke="#231f20" stroke-width="0.12">0</text>
<text x="291.20" y="256.15" font-size="8.2" fill="#231f20" font-weight="normal"  stroke="#231f20" stroke-width="0.12">2</text>
<text x="291.20" y="223.15" font-size="8.2" fill="#231f20" font-weight="normal"  stroke="#231f20" stroke-width="0.12">4</text>
<text x="291.20" y="190.15" font-size="8.2" fill="#231f20" font-weight="normal"  stroke="#231f20" stroke-width="0.12">6</text>
<line x1="305.75" y1="286.20" x2="305.75" y2="289.20" stroke="#231f20" stroke-width="0.9" />
<line x1="315.12" y1="286.20" x2="315.12" y2="289.20" stroke="#231f20" stroke-width="0.9" />
<line x1="324.49" y1="286.20" x2="324.49" y2="289.20" stroke="#231f20" stroke-width="0.9" />
<line x1="333.86" y1="286.20" x2="333.86" y2="289.20" stroke="#231f20" stroke-width="0.9" />
<line x1="343.23" y1="286.20" x2="343.23" y2="289.20" stroke="#231f20" stroke-width="0.9" />
<line x1="352.60" y1="286.20" x2="352.60" y2="289.20" stroke="#231f20" stroke-width="0.9" />
<line x1="361.97" y1="286.20" x2="361.97" y2="289.20" stroke="#231f20" stroke-width="0.9" />
<line x1="371.34" y1="286.20" x2="371.34" y2="289.20" stroke="#231f20" stroke-width="0.9" />
<line x1="380.71" y1="286.20" x2="380.71" y2="289.20" stroke="#231f20" stroke-width="0.9" />
<line x1="390.08" y1="286.20" x2="390.08" y2="289.20" stroke="#231f20" stroke-width="0.9" />
<line x1="399.45" y1="286.20" x2="399.45" y2="289.20" stroke="#231f20" stroke-width="0.9" />
<line x1="408.82" y1="286.20" x2="408.82" y2="289.20" stroke="#231f20" stroke-width="0.9" />
<line x1="418.19" y1="286.20" x2="418.19" y2="289.20" stroke="#231f20" stroke-width="0.9" />
<line x1="427.56" y1="286.20" x2="427.56" y2="289.20" stroke="#231f20" stroke-width="0.9" />
<line x1="436.93" y1="286.20" x2="436.93" y2="289.20" stroke="#231f20" stroke-width="0.9" />
<line x1="446.30" y1="286.20" x2="446.30" y2="289.20" stroke="#231f20" stroke-width="0.9" />
<text x="303.65" y="299.25" font-size="8.2" fill="#231f20" font-weight="normal" textLength="4.20" lengthAdjust="spacingAndGlyphs"  stroke="#231f20" stroke-width="0.12">0</text>
<text x="313.02" y="299.25" font-size="8.2" fill="#231f20" font-weight="normal" textLength="4.20" lengthAdjust="spacingAndGlyphs"  stroke="#231f20" stroke-width="0.12">1</text>
<text x="322.39" y="299.25" font-size="8.2" fill="#231f20" font-weight="normal" textLength="4.20" lengthAdjust="spacingAndGlyphs"  stroke="#231f20" stroke-width="0.12">2</text>
<text x="331.76" y="299.25" font-size="8.2" fill="#231f20" font-weight="normal" textLength="4.20" lengthAdjust="spacingAndGlyphs"  stroke="#231f20" stroke-width="0.12">3</text>
<text x="341.13" y="299.25" font-size="8.2" fill="#231f20" font-weight="normal" textLength="4.20" lengthAdjust="spacingAndGlyphs"  stroke="#231f20" stroke-width="0.12">4</text>
<text x="359.87" y="299.25" font-size="8.2" fill="#231f20" font-weight="normal" textLength="4.20" lengthAdjust="spacingAndGlyphs"  stroke="#231f20" stroke-width="0.12">6</text>
<text x="378.61" y="299.25" font-size="8.2" fill="#231f20" font-weight="normal" textLength="4.20" lengthAdjust="spacingAndGlyphs"  stroke="#231f20" stroke-width="0.12">8</text>
<text x="387.98" y="299.25" font-size="8.2" fill="#231f20" font-weight="normal" textLength="4.20" lengthAdjust="spacingAndGlyphs"  stroke="#231f20" stroke-width="0.12">9</text>
<text x="404.42" y="299.25" font-size="8.2" fill="#231f20" font-weight="normal" textLength="8.80" lengthAdjust="spacingAndGlyphs"  stroke="#231f20" stroke-width="0.12">11</text>
<text x="423.16" y="299.25" font-size="8.2" fill="#231f20" font-weight="normal" textLength="8.80" lengthAdjust="spacingAndGlyphs"  stroke="#231f20" stroke-width="0.12">13</text>
<text x="441.90" y="299.25" font-size="8.2" fill="#231f20" font-weight="normal" textLength="8.80" lengthAdjust="spacingAndGlyphs"  stroke="#231f20" stroke-width="0.12">15</text>
<text x="357.00" y="312.17" font-size="10.2" fill="#231f20" font-weight="normal" textLength="38.30" lengthAdjust="spacingAndGlyphs"  stroke="#231f20" stroke-width="0.12">Time (days)</text>
<text transform="translate(285.1,271.7) rotate(-90)" font-size="8.6" fill="#231f20" textLength="73.5" lengthAdjust="spacingAndGlyphs" stroke="#231f20" stroke-width="0.12">Density (x10<tspan font-size="5" dy="-3">6</tspan><tspan dy="3"> cells/ml)</tspan></text>
<line x1="312.30" y1="204.50" x2="322.50" y2="204.50" stroke="#de8a26" stroke-width="1.25" />
<polygon points="314.90,202.70 319.90,202.70 317.40,206.50" fill="#de8a26" stroke="none" stroke-width="1" />
<text x="325.10" y="207.45" font-size="8.2" fill="#231f20" font-weight="normal" textLength="16.70" lengthAdjust="spacingAndGlyphs"  stroke="#231f20" stroke-width="0.12">J+S1</text>
<line x1="361.00" y1="204.50" x2="371.00" y2="204.50" stroke="#8e3a9c" stroke-width="1.25" />
<polygon points="363.50,206.30 368.50,206.30 366.00,202.50" fill="#8e3a9c" stroke="none" stroke-width="1" />
<text x="373.80" y="207.45" font-size="8.2" fill="#231f20" font-weight="normal" textLength="22.20" lengthAdjust="spacingAndGlyphs"  stroke="#231f20" stroke-width="0.12">S1+EV</text>
<line x1="312.30" y1="217.50" x2="322.50" y2="217.50" stroke="#cf7a1f" stroke-width="1.25" />
<polygon points="314.90,215.70 319.90,215.70 317.40,219.50" fill="#cf7a1f" stroke="none" stroke-width="1" />
<text x="325.10" y="220.45" font-size="8.2" fill="#231f20" font-weight="normal" textLength="16.70" lengthAdjust="spacingAndGlyphs"  stroke="#231f20" stroke-width="0.12">J+S5</text>
<line x1="361.00" y1="217.50" x2="371.00" y2="217.50" stroke="#9c1f5e" stroke-width="1.25" />
<polygon points="363.50,219.30 368.50,219.30 366.00,215.50" fill="#9c1f5e" stroke="none" stroke-width="1" />
<text x="373.80" y="220.45" font-size="8.2" fill="#231f20" font-weight="normal" textLength="22.20" lengthAdjust="spacingAndGlyphs"  stroke="#231f20" stroke-width="0.12">S5+EV</text>
<line x1="312.30" y1="230.50" x2="322.50" y2="230.50" stroke="#f0b02c" stroke-width="1.25" />
<polygon points="314.90,228.70 319.90,228.70 317.40,232.50" fill="#f0b02c" stroke="none" stroke-width="1" />
<text x="325.10" y="233.45" font-size="8.2" fill="#231f20" font-weight="normal" textLength="16.70" lengthAdjust="spacingAndGlyphs"  stroke="#231f20" stroke-width="0.12">J+S6</text>
<line x1="361.00" y1="230.50" x2="371.00" y2="230.50" stroke="#c97ac6" stroke-width="1.25" />
<polygon points="363.50,232.30 368.50,232.30 366.00,228.50" fill="#c97ac6" stroke="none" stroke-width="1" />
<text x="373.80" y="233.45" font-size="8.2" fill="#231f20" font-weight="normal" textLength="22.20" lengthAdjust="spacingAndGlyphs"  stroke="#231f20" stroke-width="0.12">S6+EV</text>
<line x1="312.30" y1="243.00" x2="322.50" y2="243.00" stroke="#4e9a3e" stroke-width="1.25" />
<rect x="315.70" y="241.30" width="3.40" height="3.40" fill="#4e9a3e" stroke="none" stroke-width="1" />
<text x="325.10" y="245.95" font-size="8.2" fill="#231f20" font-weight="normal" textLength="16.70" lengthAdjust="spacingAndGlyphs"  stroke="#231f20" stroke-width="0.12">J+EV</text>
<line x1="361.00" y1="243.00" x2="371.00" y2="243.00" stroke="#8a8a8a" stroke-width="1.25" />
<circle cx="366.00" cy="243.00" r="1.7" fill="#8a8a8a"/>
<text x="373.80" y="245.95" font-size="8.2" fill="#231f20" font-weight="normal" textLength="10.70" lengthAdjust="spacingAndGlyphs"  stroke="#231f20" stroke-width="0.12">EV</text>
<line x1="446.30" y1="217.23" x2="446.30" y2="195.94" stroke="#edbb78" stroke-width="0.9" />
<line x1="444.50" y1="217.23" x2="448.10" y2="217.23" stroke="#edbb78" stroke-width="0.9" />
<line x1="444.50" y1="195.94" x2="448.10" y2="195.94" stroke="#edbb78" stroke-width="0.9" />
<line x1="380.71" y1="268.88" x2="380.71" y2="263.43" stroke="#edbb78" stroke-width="0.9" />
<line x1="378.91" y1="268.88" x2="382.51" y2="268.88" stroke="#edbb78" stroke-width="0.9" />
<line x1="378.91" y1="263.43" x2="382.51" y2="263.43" stroke="#edbb78" stroke-width="0.9" />
<line x1="446.30" y1="230.10" x2="446.30" y2="222.84" stroke="#df9a50" stroke-width="0.9" />
<line x1="444.50" y1="230.10" x2="448.10" y2="230.10" stroke="#df9a50" stroke-width="0.9" />
<line x1="444.50" y1="222.84" x2="448.10" y2="222.84" stroke="#df9a50" stroke-width="0.9" />
<line x1="427.56" y1="272.34" x2="427.56" y2="255.18" stroke="#e0a060" stroke-width="0.9" />
<line x1="425.76" y1="272.34" x2="429.36" y2="272.34" stroke="#e0a060" stroke-width="0.9" />
<line x1="425.76" y1="255.18" x2="429.36" y2="255.18" stroke="#e0a060" stroke-width="0.9" />
<line x1="446.30" y1="253.69" x2="446.30" y2="243.63" stroke="#f3c35a" stroke-width="0.9" />
<line x1="444.50" y1="253.69" x2="448.10" y2="253.69" stroke="#f3c35a" stroke-width="0.9" />
<line x1="444.50" y1="243.63" x2="448.10" y2="243.63" stroke="#f3c35a" stroke-width="0.9" />
<line x1="408.82" y1="274.65" x2="408.82" y2="268.38" stroke="#f3c35a" stroke-width="0.9" />
<line x1="407.02" y1="274.65" x2="410.62" y2="274.65" stroke="#f3c35a" stroke-width="0.9" />
<line x1="407.02" y1="268.38" x2="410.62" y2="268.38" stroke="#f3c35a" stroke-width="0.9" />
<polyline points="305.75,280.26 315.12,277.12 333.86,275.81 361.97,276.80 380.71,266.24 408.82,250.56 446.30,206.50" fill="none" stroke="#de8a26" stroke-width="1.25" stroke-linejoin="round" opacity="1"/>
<polygon points="303.45,278.42 308.05,278.42 305.75,282.33" fill="#de8a26" stroke="none" stroke-width="1" />
<polygon points="312.82,275.29 317.42,275.29 315.12,279.19" fill="#de8a26" stroke="none" stroke-width="1" />
<polygon points="331.56,273.97 336.16,273.97 333.86,277.88" fill="#de8a26" stroke="none" stroke-width="1" />
<polygon points="359.67,274.96 364.27,274.96 361.97,278.87" fill="#de8a26" stroke="none" stroke-width="1" />
<polygon points="378.41,264.40 383.01,264.40 380.71,268.31" fill="#de8a26" stroke="none" stroke-width="1" />
<polygon points="406.52,248.72 411.12,248.72 408.82,252.63" fill="#de8a26" stroke="none" stroke-width="1" />
<polygon points="444.00,204.66 448.60,204.66 446.30,208.57" fill="#de8a26" stroke="none" stroke-width="1" />
<polyline points="305.75,281.25 315.12,279.93 333.86,280.26 361.97,281.25 390.08,277.62 408.82,271.51 427.56,263.10 446.30,226.47" fill="none" stroke="#cf7a1f" stroke-width="1.25" stroke-linejoin="round" opacity="1"/>
<polygon points="303.45,279.41 308.05,279.41 305.75,283.32" fill="#cf7a1f" stroke="none" stroke-width="1" />
<polygon points="312.82,278.09 317.42,278.09 315.12,282.00" fill="#cf7a1f" stroke="none" stroke-width="1" />
<polygon points="331.56,278.42 336.16,278.42 333.86,282.33" fill="#cf7a1f" stroke="none" stroke-width="1" />
<polygon points="359.67,279.41 364.27,279.41 361.97,283.32" fill="#cf7a1f" stroke="none" stroke-width="1" />
<polygon points="387.78,275.78 392.38,275.78 390.08,279.69" fill="#cf7a1f" stroke="none" stroke-width="1" />
<polygon points="406.52,269.68 411.12,269.68 408.82,273.58" fill="#cf7a1f" stroke="none" stroke-width="1" />
<polygon points="425.26,261.26 429.86,261.26 427.56,265.17" fill="#cf7a1f" stroke="none" stroke-width="1" />
<polygon points="444.00,224.63 448.60,224.63 446.30,228.54" fill="#cf7a1f" stroke="none" stroke-width="1" />
<polyline points="305.75,281.58 315.12,281.25 333.86,282.07 361.97,282.24 380.71,281.75 390.08,278.44 408.82,271.51 427.56,259.96 446.30,247.75" fill="none" stroke="#f0b02c" stroke-width="1.25" stroke-linejoin="round" opacity="1"/>
<polygon points="303.45,279.74 308.05,279.74 305.75,283.65" fill="#f0b02c" stroke="none" stroke-width="1" />
<polygon points="312.82,279.41 317.42,279.41 315.12,283.32" fill="#f0b02c" stroke="none" stroke-width="1" />
<polygon points="331.56,280.24 336.16,280.24 333.86,284.14" fill="#f0b02c" stroke="none" stroke-width="1" />
<polygon points="359.67,280.40 364.27,280.40 361.97,284.31" fill="#f0b02c" stroke="none" stroke-width="1" />
<polygon points="378.41,279.91 383.01,279.91 380.71,283.81" fill="#f0b02c" stroke="none" stroke-width="1" />
<polygon points="387.78,276.61 392.38,276.61 390.08,280.51" fill="#f0b02c" stroke="none" stroke-width="1" />
<polygon points="406.52,269.68 411.12,269.68 408.82,273.58" fill="#f0b02c" stroke="none" stroke-width="1" />
<polygon points="425.26,258.12 429.86,258.12 427.56,262.03" fill="#f0b02c" stroke="none" stroke-width="1" />
<polygon points="444.00,245.91 448.60,245.91 446.30,249.82" fill="#f0b02c" stroke="none" stroke-width="1" />
<polyline points="305.75,282.57 315.12,281.25 324.49,280.92 343.23,281.25 361.97,283.23 380.71,283.72 408.82,283.72 427.56,283.89 446.30,283.89" fill="none" stroke="#4e9a3e" stroke-width="1.25" stroke-linejoin="round" opacity="1"/>
<rect x="407.12" y="282.19" width="3.40" height="3.40" fill="#4e9a3e" stroke="none" stroke-width="1" />
<rect x="444.60" y="282.19" width="3.40" height="3.40" fill="#4e9a3e" stroke="none" stroke-width="1" />
<polyline points="305.75,281.58 315.12,280.09 333.86,273.50 361.97,283.56 380.71,284.55 408.82,284.55 446.30,284.55" fill="none" stroke="#8a8a8a" stroke-width="1.0" stroke-linejoin="round" opacity="0.9"/>
<circle cx="333.86" cy="273.50" r="2.2" fill="#8a8a8a"/>
<polyline points="305.75,282.07 315.12,280.92 333.86,278.61 361.97,285.87 390.08,285.87" fill="none" stroke="#8e3a9c" stroke-width="1.25" stroke-linejoin="round" opacity="1"/>
<polygon points="331.86,280.21 335.86,280.21 333.86,276.81" fill="#8e3a9c" stroke="none" stroke-width="1" />
<polyline points="305.75,282.90 315.12,281.25 324.49,284.22 343.23,286.20 361.97,286.20 380.71,286.20 390.08,286.20 408.82,286.20 427.56,286.20 446.30,286.20" fill="none" stroke="#9c1f5e" stroke-width="1.35" stroke-linejoin="round" opacity="1"/>
<circle cx="305.75" cy="282.90" r="2.2" fill="#9c1f5e"/>
<circle cx="315.12" cy="281.25" r="2.2" fill="#9c1f5e"/>
<circle cx="324.49" cy="284.22" r="2.2" fill="#9c1f5e"/>
<circle cx="343.23" cy="286.20" r="2.2" fill="#9c1f5e"/>
<circle cx="361.97" cy="286.20" r="2.2" fill="#9c1f5e"/>
<circle cx="380.71" cy="286.20" r="2.2" fill="#9c1f5e"/>
<circle cx="390.08" cy="286.20" r="2.2" fill="#9c1f5e"/>
<circle cx="408.82" cy="286.20" r="2.2" fill="#9c1f5e"/>
<circle cx="427.56" cy="286.20" r="2.2" fill="#9c1f5e"/>
<circle cx="446.30" cy="286.20" r="2.2" fill="#9c1f5e"/>
<text x="8.20" y="330.62" font-size="12" fill="#000" font-weight="bold" textLength="8.10" lengthAdjust="spacingAndGlyphs"  stroke="#000" stroke-width="0.12">D</text>
<text x="16.35" y="376.75" font-size="8.2" fill="#231f20" font-weight="normal" textLength="8.50" lengthAdjust="spacingAndGlyphs"  stroke="#231f20" stroke-width="0.12">EV</text>
<text x="33.80" y="376.75" font-size="8.2" fill="#231f20" font-weight="normal" textLength="17.40" lengthAdjust="spacingAndGlyphs"  stroke="#231f20" stroke-width="0.12">J+S1</text>
<text x="53.00" y="376.75" font-size="8.2" fill="#231f20" font-weight="normal" textLength="18.20" lengthAdjust="spacingAndGlyphs"  stroke="#231f20" stroke-width="0.12">J+S5</text>
<text x="72.50" y="376.75" font-size="8.2" fill="#231f20" font-weight="normal" textLength="18.00" lengthAdjust="spacingAndGlyphs"  stroke="#231f20" stroke-width="0.12">J+S6</text>
<defs>
<filter id="bl" x="-30%" y="-200%" width="160%" height="500%"><feGaussianBlur stdDeviation="0.6"/></filter>
<linearGradient id="blot1" x1="0" y1="0" x2="0" y2="1">
<stop offset="0" stop-color="#b4b4b4"/><stop offset="1" stop-color="#aaaaaa"/></linearGradient>
</defs>
<rect x="8.30" y="380.30" width="86.20" height="34.80" fill="#b3b3b3" stroke="#1a1a1a" stroke-width="1.1" />
<rect x="8.30" y="423.60" width="86.20" height="22.70" fill="#acacac" stroke="#1a1a1a" stroke-width="1.1" />
<rect x="16.00" y="385.60" width="15.50" height="3.00" rx="1.50" fill="#0a0a0a" opacity="1" filter="url(#bl)"/>
<rect x="73.50" y="386.65" width="15.50" height="2.30" rx="1.15" fill="#484848" opacity="0.9" filter="url(#bl)"/>
<rect x="35.00" y="387.05" width="15.70" height="1.50" rx="0.75" fill="#8a8a8a" opacity="0.35" filter="url(#bl)"/>
<rect x="35.00" y="390.85" width="15.70" height="1.30" rx="0.65" fill="#909090" opacity="0.35" filter="url(#bl)"/>
<rect x="54.40" y="390.85" width="13.60" height="1.30" rx="0.65" fill="#959595" opacity="0.35" filter="url(#bl)"/>
<rect x="55.30" y="397.40" width="12.70" height="2.00" rx="1.00" fill="#6e6e6e" opacity="0.85" filter="url(#bl)"/>
<rect x="36.00" y="409.40" width="14.30" height="2.40" rx="1.20" fill="#777" opacity="0.9" filter="url(#bl)"/>
<rect x="73.50" y="408.50" width="14.50" height="1.80" rx="0.90" fill="#8a8a8a" opacity="0.8" filter="url(#bl)"/>
<rect x="13.80" y="432.20" width="17.70" height="3.40" rx="1.70" fill="#0e0e0e" opacity="1" filter="url(#bl)"/>
<rect x="33.30" y="432.40" width="17.00" height="3.20" rx="1.60" fill="#141414" opacity="1" filter="url(#bl)"/>
<rect x="52.50" y="432.40" width="15.50" height="3.20" rx="1.60" fill="#161616" opacity="1" filter="url(#bl)"/>
<rect x="70.40" y="432.40" width="18.60" height="3.20" rx="1.60" fill="#121212" opacity="1" filter="url(#bl)"/>
<rect x="34.30" y="437.35" width="14.90" height="1.90" rx="0.95" fill="#383838" opacity="0.9" filter="url(#bl)"/>
<line x1="94.50" y1="387.70" x2="97.00" y2="387.70" stroke="#231f20" stroke-width="0.8" />
<text x="100.20" y="387.12" font-size="8.4" fill="#231f20" font-weight="normal" textLength="34.80" lengthAdjust="spacingAndGlyphs"  stroke="#231f20" stroke-width="0.12">WT Suz12</text>
<text x="100.20" y="397.22" font-size="8.4" fill="#231f20" font-weight="normal" textLength="24.80" lengthAdjust="spacingAndGlyphs"  stroke="#231f20" stroke-width="0.12">83 kDa</text>
<text x="100.20" y="433.32" font-size="8.4" fill="#231f20" font-weight="normal" textLength="23.30" lengthAdjust="spacingAndGlyphs"  stroke="#231f20" stroke-width="0.12">β-actin</text>
<text x="100.20" y="442.52" font-size="8.4" fill="#231f20" font-weight="normal" textLength="24.80" lengthAdjust="spacingAndGlyphs"  stroke="#231f20" stroke-width="0.12">42 kDa</text>
<text x="152.50" y="330.62" font-size="12" fill="#000" font-weight="bold" textLength="7.10" lengthAdjust="spacingAndGlyphs"  stroke="#000" stroke-width="0.12">E</text>
<line x1="153.80" y1="390.80" x2="217.70" y2="390.80" stroke="#a8a8a8" stroke-width="0.9" />
<line x1="153.80" y1="409.20" x2="217.70" y2="409.20" stroke="#f3d7b3" stroke-width="0.9" />
<line x1="153.80" y1="427.70" x2="217.70" y2="427.70" stroke="#f3d7b3" stroke-width="0.9" />
<path d="M193.50,390.80 L196.20,388.00 L198.00,380.00 L199.50,368.00 L201.20,357.70 L202.50,361.00 L204.00,368.00 L205.50,373.00 L207.70,372.30 L209.20,377.00 L211.20,385.00 L213.00,390.20 L214.50,390.80" fill="#707070" fill-opacity="1" stroke="#5a5a5a" stroke-width="0.7" stroke-linejoin="round"/>
<path d="M166.00,409.20 L172.00,408.60 L177.00,406.50 L181.00,402.00 L184.00,395.00 L186.50,386.00 L189.00,379.00 L191.80,376.20 L194.00,377.80 L196.50,383.00 L199.20,390.80 L202.30,401.50 L204.60,408.30 L206.50,409.20" fill="#f1cfa3" fill-opacity="0.72" stroke="#e2ae72" stroke-width="0.7" stroke-linejoin="round"/>
<path d="M164.50,427.70 L171.50,423.50 L175.40,415.40 L178.50,405.50 L181.00,398.00 L183.00,394.60 L185.50,399.00 L187.70,404.20 L189.50,402.00 L191.50,401.20 L193.30,405.00 L195.00,411.00 L196.50,419.00 L198.00,427.70" fill="#f1cfa3" fill-opacity="0.72" stroke="#e2ae72" stroke-width="0.7" stroke-linejoin="round"/>
<path d="M170.80,445.80 L174.50,442.00 L178.00,437.00 L182.30,433.00 L185.00,432.60 L187.70,432.20 L190.00,426.00 L193.50,417.00 L195.80,414.00 L197.70,412.30 L199.80,414.50 L201.50,422.00 L203.80,430.00 L206.20,436.00 L208.00,442.00 L209.40,445.80" fill="#f1cfa3" fill-opacity="0.72" stroke="#e2ae72" stroke-width="0.7" stroke-linejoin="round"/>
<line x1="153.80" y1="445.80" x2="215.00" y2="445.80" stroke="#231f20" stroke-width="1.1" />
<polygon points="213.50,443.60 213.50,448.00 218.60,445.80" fill="#231f20" stroke="none" stroke-width="1" />
<line x1="155.70" y1="445.80" x2="155.70" y2="448.60" stroke="#231f20" stroke-width="0.9" />
<line x1="174.30" y1="445.80" x2="174.30" y2="448.60" stroke="#231f20" stroke-width="0.9" />
<line x1="207.70" y1="445.80" x2="207.70" y2="448.60" stroke="#231f20" stroke-width="0.9" />
<text x="153.55" y="459.15" font-size="8.2" fill="#231f20" font-weight="normal" textLength="4.30" lengthAdjust="spacingAndGlyphs"  stroke="#231f20" stroke-width="0.12">0</text>
<text x="169.4" y="459.2" font-size="8.2" fill="#231f20" stroke="#231f20" stroke-width="0.12">10<tspan font-size="5.2" dy="-3.3">3</tspan></text>
<text x="202.6" y="459.2" font-size="8.2" fill="#231f20" stroke="#231f20" stroke-width="0.12">10<tspan font-size="5.2" dy="-3.3">4</tspan></text>
<text x="167.55" y="472.06" font-size="9.6" fill="#231f20" font-weight="normal" textLength="36.30" lengthAdjust="spacingAndGlyphs"  stroke="#231f20" stroke-width="0.12">Suz12-APC</text>
<text x="164.60" y="386.15" font-size="8.2" fill="#231f20" font-weight="normal" textLength="4.00" lengthAdjust="spacingAndGlyphs"  stroke="#231f20" stroke-width="0.12">J</text>
<text x="150.80" y="403.15" font-size="8.2" fill="#231f20" font-weight="normal" textLength="17.00" lengthAdjust="spacingAndGlyphs"  stroke="#231f20" stroke-width="0.12">J+S1</text>
<text x="150.80" y="420.05" font-size="8.2" fill="#231f20" font-weight="normal" textLength="17.00" lengthAdjust="spacingAndGlyphs"  stroke="#231f20" stroke-width="0.12">J+S5</text>
<text x="150.80" y="437.55" font-size="8.2" fill="#231f20" font-weight="normal" textLength="17.00" lengthAdjust="spacingAndGlyphs"  stroke="#231f20" stroke-width="0.12">J+S6</text>
<text x="231.55" y="341.16" font-size="9.6" fill="#231f20" font-weight="normal" textLength="50.50" lengthAdjust="spacingAndGlyphs"  stroke="#231f20" stroke-width="0.12">Suz12-APC MFI</text>
<text x="246.2" y="352.2" font-size="8.6" fill="#231f20" stroke="#231f20" stroke-width="0.12">(x10<tspan font-size="5.4" dy="-3.4">3</tspan><tspan dy="3.4">)</tspan></text>
<line x1="231.90" y1="369.30" x2="231.90" y2="446.30" stroke="#231f20" stroke-width="1.3" />
<line x1="231.90" y1="372.30" x2="283.20" y2="372.30" stroke="#231f20" stroke-width="1.4" />
<line x1="232.00" y1="372.30" x2="232.00" y2="369.60" stroke="#231f20" stroke-width="1.0" />
<text x="229.85" y="364.45" font-size="8.2" fill="#231f20" font-weight="normal" textLength="4.30" lengthAdjust="spacingAndGlyphs"  stroke="#231f20" stroke-width="0.12">0</text>
<line x1="244.38" y1="372.30" x2="244.38" y2="369.60" stroke="#231f20" stroke-width="1.0" />
<text x="242.23" y="364.45" font-size="8.2" fill="#231f20" font-weight="normal" textLength="4.30" lengthAdjust="spacingAndGlyphs"  stroke="#231f20" stroke-width="0.12">2</text>
<line x1="256.76" y1="372.30" x2="256.76" y2="369.60" stroke="#231f20" stroke-width="1.0" />
<text x="254.61" y="364.45" font-size="8.2" fill="#231f20" font-weight="normal" textLength="4.30" lengthAdjust="spacingAndGlyphs"  stroke="#231f20" stroke-width="0.12">4</text>
<line x1="269.14" y1="372.30" x2="269.14" y2="369.60" stroke="#231f20" stroke-width="1.0" />
<text x="266.99" y="364.45" font-size="8.2" fill="#231f20" font-weight="normal" textLength="4.30" lengthAdjust="spacingAndGlyphs"  stroke="#231f20" stroke-width="0.12">6</text>
<line x1="281.52" y1="372.30" x2="281.52" y2="369.60" stroke="#231f20" stroke-width="1.0" />
<text x="279.37" y="364.45" font-size="8.2" fill="#231f20" font-weight="normal" textLength="4.30" lengthAdjust="spacingAndGlyphs"  stroke="#231f20" stroke-width="0.12">8</text>
<rect x="232.00" y="378.20" width="44.20" height="10.70" fill="#000" stroke="none" stroke-width="1" />
<line x1="276.20" y1="381.05" x2="276.20" y2="386.05" stroke="#000" stroke-width="1.3" />
<line x1="228.50" y1="383.55" x2="231.90" y2="383.55" stroke="#231f20" stroke-width="1.0" />
<text x="221.80" y="386.50" font-size="8.2" fill="#231f20" font-weight="normal" textLength="3.80" lengthAdjust="spacingAndGlyphs"  stroke="#231f20" stroke-width="0.12">J</text>
<rect x="232.00" y="395.40" width="21.20" height="10.80" fill="#de8a1e" stroke="none" stroke-width="1" />
<line x1="253.20" y1="398.30" x2="253.20" y2="403.30" stroke="#000" stroke-width="1.3" />
<line x1="228.50" y1="400.80" x2="231.90" y2="400.80" stroke="#231f20" stroke-width="1.0" />
<text x="208.20" y="403.75" font-size="8.2" fill="#231f20" font-weight="normal" textLength="17.20" lengthAdjust="spacingAndGlyphs"  stroke="#231f20" stroke-width="0.12">J+S1</text>
<rect x="232.00" y="412.30" width="13.00" height="11.10" fill="#de8a1e" stroke="none" stroke-width="1" />
<line x1="245.00" y1="415.35" x2="245.00" y2="420.35" stroke="#000" stroke-width="1.3" />
<line x1="228.50" y1="417.85" x2="231.90" y2="417.85" stroke="#231f20" stroke-width="1.0" />
<text x="208.20" y="420.80" font-size="8.2" fill="#231f20" font-weight="normal" textLength="17.20" lengthAdjust="spacingAndGlyphs"  stroke="#231f20" stroke-width="0.12">J+S5</text>
<rect x="232.00" y="429.70" width="24.80" height="11.10" fill="#de8a1e" stroke="none" stroke-width="1" />
<line x1="256.80" y1="432.75" x2="256.80" y2="437.75" stroke="#000" stroke-width="1.3" />
<line x1="228.50" y1="435.25" x2="231.90" y2="435.25" stroke="#231f20" stroke-width="1.0" />
<text x="208.20" y="438.20" font-size="8.2" fill="#231f20" font-weight="normal" textLength="17.20" lengthAdjust="spacingAndGlyphs"  stroke="#231f20" stroke-width="0.12">J+S6</text>
<text x="300.00" y="330.62" font-size="12" fill="#000" font-weight="bold" textLength="6.60" lengthAdjust="spacingAndGlyphs"  stroke="#000" stroke-width="0.12">F</text>
<line x1="300.50" y1="391.25" x2="383.80" y2="391.25" stroke="#a8a8a8" stroke-width="0.9" />
<line x1="300.50" y1="409.25" x2="383.80" y2="409.25" stroke="#f3d7b3" stroke-width="0.9" />
<line x1="300.50" y1="428.00" x2="383.80" y2="428.00" stroke="#f3d7b3" stroke-width="0.9" />
<path d="M330.00,391.25 L345.00,390.80 L355.00,390.00 L361.00,387.50 L365.00,384.00 L367.50,380.00 L370.00,372.00 L372.00,362.00 L373.75,357.50 L375.50,362.00 L377.50,371.00 L379.50,378.00 L381.00,384.00 L382.50,390.00 L384.00,391.25" fill="#707070" fill-opacity="1" stroke="#5a5a5a" stroke-width="0.7" stroke-linejoin="round"/>
<path d="M322.00,409.25 L330.00,408.80 L336.00,407.20 L340.00,405.00 L343.50,399.00 L345.50,392.50 L347.20,384.00 L348.30,378.00 L349.50,376.20 L350.80,378.50 L352.50,390.00 L354.00,400.00 L355.50,405.50 L358.00,408.80 L361.00,409.25" fill="#f1cfa3" fill-opacity="0.72" stroke="#e2ae72" stroke-width="0.7" stroke-linejoin="round"/>
<path d="M343.00,428.00 L348.00,426.00 L351.00,422.00 L353.50,416.00 L356.00,407.00 L358.50,399.00 L361.25,395.00 L363.50,397.50 L365.50,405.00 L367.50,414.00 L369.50,421.00 L372.00,426.00 L375.00,428.00" fill="#f1cfa3" fill-opacity="0.72" stroke="#e2ae72" stroke-width="0.7" stroke-linejoin="round"/>
<path d="M323.00,446.25 L328.00,445.80 L333.00,443.50 L336.00,441.00 L339.00,439.50 L342.00,433.00 L344.50,424.00 L347.50,418.75 L350.00,423.00 L352.50,431.00 L355.00,435.00 L358.00,433.00 L361.50,426.00 L365.00,418.00 L368.00,413.50 L370.50,412.50 L372.50,415.00 L374.50,425.00 L376.50,437.00 L378.70,446.25" fill="#f1cfa3" fill-opacity="0.72" stroke="#e2ae72" stroke-width="0.7" stroke-linejoin="round"/>
<line x1="300.50" y1="446.25" x2="385.00" y2="446.25" stroke="#231f20" stroke-width="1.1" />
<polygon points="383.50,444.05 383.50,448.45 388.60,446.25" fill="#231f20" stroke="none" stroke-width="1" />
<line x1="302.50" y1="446.25" x2="302.50" y2="449.00" stroke="#231f20" stroke-width="0.9" />
<line x1="318.75" y1="446.25" x2="318.75" y2="449.00" stroke="#231f20" stroke-width="0.9" />
<line x1="347.50" y1="446.25" x2="347.50" y2="449.00" stroke="#231f20" stroke-width="0.9" />
<line x1="373.75" y1="446.25" x2="373.75" y2="449.00" stroke="#231f20" stroke-width="0.9" />
<text x="300.35" y="458.25" font-size="8.2" fill="#231f20" font-weight="normal" textLength="4.30" lengthAdjust="spacingAndGlyphs"  stroke="#231f20" stroke-width="0.12">0</text>
<text x="313.55" y="458.3" font-size="8.2" fill="#231f20" stroke="#231f20" stroke-width="0.12">10<tspan font-size="5.2" dy="-3.3">3</tspan></text>
<text x="342.30" y="458.3" font-size="8.2" fill="#231f20" stroke="#231f20" stroke-width="0.12">10<tspan font-size="5.2" dy="-3.3">4</tspan></text>
<text x="368.55" y="458.3" font-size="8.2" fill="#231f20" stroke="#231f20" stroke-width="0.12">10<tspan font-size="5.2" dy="-3.3">5</tspan></text>
<text x="317.50" y="472.66" font-size="9.6" fill="#231f20" font-weight="normal" textLength="54.20" lengthAdjust="spacingAndGlyphs"  stroke="#231f20" stroke-width="0.12">H3K27me3-APC</text>
<text x="317.20" y="385.55" font-size="8.2" fill="#231f20" font-weight="normal" textLength="3.80" lengthAdjust="spacingAndGlyphs"  stroke="#231f20" stroke-width="0.12">J</text>
<text x="303.00" y="402.55" font-size="8.2" fill="#231f20" font-weight="normal" textLength="17.60" lengthAdjust="spacingAndGlyphs"  stroke="#231f20" stroke-width="0.12">J+S1</text>
<text x="303.00" y="419.95" font-size="8.2" fill="#231f20" font-weight="normal" textLength="17.60" lengthAdjust="spacingAndGlyphs"  stroke="#231f20" stroke-width="0.12">J+S5</text>
<text x="303.00" y="437.45" font-size="8.2" fill="#231f20" font-weight="normal" textLength="17.60" lengthAdjust="spacingAndGlyphs"  stroke="#231f20" stroke-width="0.12">J+S6</text>
<text x="396.25" y="341.16" font-size="9.6" fill="#231f20" font-weight="normal" textLength="68.30" lengthAdjust="spacingAndGlyphs"  stroke="#231f20" stroke-width="0.12">H3K27me3-APC MFI</text>
<text x="419.8" y="352.2" font-size="8.6" fill="#231f20" stroke="#231f20" stroke-width="0.12">(x10<tspan font-size="5.4" dy="-3.4">3</tspan><tspan dy="3.4">)</tspan></text>
<line x1="405.50" y1="369.00" x2="405.50" y2="446.30" stroke="#231f20" stroke-width="1.3" />
<line x1="405.50" y1="372.00" x2="458.80" y2="372.00" stroke="#231f20" stroke-width="1.4" />
<line x1="405.50" y1="372.00" x2="405.50" y2="369.30" stroke="#231f20" stroke-width="1.0" />
<text x="403.35" y="364.45" font-size="8.2" fill="#231f20" font-weight="normal" textLength="4.30" lengthAdjust="spacingAndGlyphs"  stroke="#231f20" stroke-width="0.12">0</text>
<line x1="430.90" y1="372.00" x2="430.90" y2="369.30" stroke="#231f20" stroke-width="1.0" />
<text x="426.60" y="364.45" font-size="8.2" fill="#231f20" font-weight="normal" textLength="8.60" lengthAdjust="spacingAndGlyphs"  stroke="#231f20" stroke-width="0.12">50</text>
<line x1="456.20" y1="372.00" x2="456.20" y2="369.30" stroke="#231f20" stroke-width="1.0" />
<text x="449.70" y="364.45" font-size="8.2" fill="#231f20" font-weight="normal" textLength="13.00" lengthAdjust="spacingAndGlyphs"  stroke="#231f20" stroke-width="0.12">100</text>
<rect x="405.50" y="378.20" width="45.70" height="10.80" fill="#000" stroke="none" stroke-width="1" />
<line x1="452.00" y1="381.10" x2="452.00" y2="386.10" stroke="#000" stroke-width="1.3" />
<line x1="450.70" y1="383.60" x2="453.70" y2="383.60" stroke="#000" stroke-width="0.8" />
<line x1="453.70" y1="381.10" x2="453.70" y2="386.10" stroke="#000" stroke-width="0.8" />
<line x1="402.00" y1="383.60" x2="405.50" y2="383.60" stroke="#231f20" stroke-width="1.0" />
<text x="395.30" y="386.55" font-size="8.2" fill="#231f20" font-weight="normal" textLength="3.90" lengthAdjust="spacingAndGlyphs"  stroke="#231f20" stroke-width="0.12">J</text>
<rect x="405.50" y="395.40" width="4.50" height="10.80" fill="#de8a1e" stroke="none" stroke-width="1" />
<line x1="410.80" y1="398.30" x2="410.80" y2="403.30" stroke="#000" stroke-width="1.3" />
<line x1="402.00" y1="400.80" x2="405.50" y2="400.80" stroke="#231f20" stroke-width="1.0" />
<text x="381.30" y="403.75" font-size="8.2" fill="#231f20" font-weight="normal" textLength="17.20" lengthAdjust="spacingAndGlyphs"  stroke="#231f20" stroke-width="0.12">J+S1</text>
<rect x="405.50" y="412.30" width="16.50" height="11.10" fill="#de8a1e" stroke="none" stroke-width="1" />
<line x1="422.80" y1="415.35" x2="422.80" y2="420.35" stroke="#000" stroke-width="1.3" />
<line x1="421.50" y1="417.85" x2="424.50" y2="417.85" stroke="#000" stroke-width="0.8" />
<line x1="424.50" y1="415.35" x2="424.50" y2="420.35" stroke="#000" stroke-width="0.8" />
<line x1="402.00" y1="417.85" x2="405.50" y2="417.85" stroke="#231f20" stroke-width="1.0" />
<text x="381.30" y="420.80" font-size="8.2" fill="#231f20" font-weight="normal" textLength="17.20" lengthAdjust="spacingAndGlyphs"  stroke="#231f20" stroke-width="0.12">J+S5</text>
<rect x="405.50" y="429.70" width="14.10" height="11.10" fill="#de8a1e" stroke="none" stroke-width="1" />
<line x1="420.40" y1="432.75" x2="420.40" y2="437.75" stroke="#000" stroke-width="1.3" />
<line x1="402.00" y1="435.25" x2="405.50" y2="435.25" stroke="#231f20" stroke-width="1.0" />
<text x="381.30" y="438.20" font-size="8.2" fill="#231f20" font-weight="normal" textLength="17.20" lengthAdjust="spacingAndGlyphs"  stroke="#231f20" stroke-width="0.12">J+S6</text>
<text x="7.60" y="490.52" font-size="12" fill="#000" font-weight="bold" textLength="8.80" lengthAdjust="spacingAndGlyphs"  stroke="#000" stroke-width="0.12">G</text>
<line x1="9.00" y1="533.30" x2="59.50" y2="533.30" stroke="#f0cfa8" stroke-width="0.9" />
<line x1="9.00" y1="552.60" x2="59.50" y2="552.60" stroke="#f0cfa8" stroke-width="0.9" />
<line x1="9.00" y1="571.60" x2="59.50" y2="571.60" stroke="#f0cfa8" stroke-width="0.9" />
<path d="M9.00,533.30 L16.00,532.50 L20.00,529.50 L22.80,525.70 L25.50,516.00 L28.50,505.00 L31.00,499.50 L33.00,498.20 L34.30,497.60 L36.50,498.30 L38.50,500.50 L40.50,503.00 L43.40,509.70 L46.00,516.50 L49.10,525.70 L52.00,530.50 L54.80,532.60 L58.00,533.30" fill="#cdb59d" fill-opacity="0.85" stroke="#b99673" stroke-width="0.7" stroke-linejoin="round"/>
<path d="M9.50,552.60 L14.00,552.00 L18.50,550.40 L21.50,544.00 L23.80,535.80 L26.50,523.60 L29.20,519.00 L31.00,522.00 L33.30,527.70 L36.50,533.00 L40.00,539.80 L43.00,544.50 L45.40,547.90 L49.00,550.80 L53.50,552.60" fill="#f1cfa3" fill-opacity="0.72" stroke="#e2ae72" stroke-width="0.7" stroke-linejoin="round"/>
<path d="M11.00,571.60 L13.00,571.20 L15.50,565.00 L17.80,556.00 L20.00,546.00 L22.30,539.50 L24.50,537.60 L26.50,541.00 L30.60,550.80 L33.50,558.50 L36.00,564.20 L39.00,568.00 L42.70,570.30 L48.00,571.60" fill="#cdb59d" fill-opacity="0.85" stroke="#b99673" stroke-width="0.7" stroke-linejoin="round"/>
<path d="M11.00,590.90 L12.40,589.00 L13.80,575.00 L15.00,562.00 L16.40,556.80 L18.00,560.00 L19.80,567.00 L22.50,574.50 L25.20,580.40 L28.50,586.00 L31.90,589.60 L36.00,590.90" fill="#f1cfa3" fill-opacity="0.72" stroke="#e2ae72" stroke-width="0.7" stroke-linejoin="round"/>
<line x1="9.00" y1="590.90" x2="60.00" y2="590.90" stroke="#231f20" stroke-width="1.4" />
<polygon points="59.20,588.60 59.20,593.20 64.20,590.90" fill="#231f20" stroke="none" stroke-width="1" />
<line x1="10.70" y1="590.90" x2="10.70" y2="592.60" stroke="#231f20" stroke-width="0.7" />
<line x1="14.50" y1="590.90" x2="14.50" y2="592.60" stroke="#231f20" stroke-width="0.7" />
<line x1="18.00" y1="590.90" x2="18.00" y2="592.60" stroke="#231f20" stroke-width="0.7" />
<line x1="21.00" y1="590.90" x2="21.00" y2="592.60" stroke="#231f20" stroke-width="0.7" />
<line x1="24.00" y1="590.90" x2="24.00" y2="592.60" stroke="#231f20" stroke-width="0.7" />
<line x1="26.50" y1="590.90" x2="26.50" y2="592.60" stroke="#231f20" stroke-width="0.7" />
<line x1="28.50" y1="590.90" x2="28.50" y2="592.60" stroke="#231f20" stroke-width="0.7" />
<line x1="36.00" y1="590.90" x2="36.00" y2="592.60" stroke="#231f20" stroke-width="0.7" />
<line x1="42.00" y1="590.90" x2="42.00" y2="592.60" stroke="#231f20" stroke-width="0.7" />
<line x1="47.00" y1="590.90" x2="47.00" y2="592.60" stroke="#231f20" stroke-width="0.7" />
<line x1="50.00" y1="590.90" x2="50.00" y2="592.60" stroke="#231f20" stroke-width="0.7" />
<line x1="52.50" y1="590.90" x2="52.50" y2="592.60" stroke="#231f20" stroke-width="0.7" />
<line x1="54.50" y1="590.90" x2="54.50" y2="592.60" stroke="#231f20" stroke-width="0.7" />
<line x1="56.00" y1="590.90" x2="56.00" y2="592.60" stroke="#231f20" stroke-width="0.7" />
<text x="8.55" y="603.55" font-size="8.2" fill="#231f20" font-weight="normal" textLength="4.30" lengthAdjust="spacingAndGlyphs"  stroke="#231f20" stroke-width="0.12">0</text>
<text x="23.4" y="603.6" font-size="8.2" fill="#231f20" stroke="#231f20" stroke-width="0.12">10<tspan font-size="5.2" dy="-3.3">3</tspan></text>
<text x="18.90" y="616.46" font-size="9.6" fill="#231f20" font-weight="normal" textLength="36.00" lengthAdjust="spacingAndGlyphs"  stroke="#231f20" stroke-width="0.12">Suz12-APC</text>
<text x="35.70" y="520.55" font-size="8.2" fill="#231f20" font-weight="normal" textLength="19.80" lengthAdjust="spacingAndGlyphs"  stroke="#231f20" stroke-width="0.12">Suz12</text>
<text x="45.60" y="529.15" font-size="8.2" fill="#231f20" font-weight="normal" textLength="9.90" lengthAdjust="spacingAndGlyphs"  stroke="#231f20" stroke-width="0.12">OE</text>
<text x="46.70" y="543.45" font-size="8.2" fill="#231f20" font-weight="normal" textLength="8.80" lengthAdjust="spacingAndGlyphs"  stroke="#231f20" stroke-width="0.12">EV</text>
<text x="35.70" y="561.75" font-size="8.2" fill="#231f20" font-weight="normal" textLength="19.80" lengthAdjust="spacingAndGlyphs"  stroke="#231f20" stroke-width="0.12">Suz12</text>
<text x="45.60" y="570.35" font-size="8.2" fill="#231f20" font-weight="normal" textLength="9.90" lengthAdjust="spacingAndGlyphs"  stroke="#231f20" stroke-width="0.12">OE</text>
<text x="46.70" y="584.65" font-size="8.2" fill="#231f20" font-weight="normal" textLength="8.80" lengthAdjust="spacingAndGlyphs"  stroke="#231f20" stroke-width="0.12">EV</text>
<line x1="60.60" y1="516.20" x2="60.60" y2="551.20" stroke="#666" stroke-width="1.3" />
<line x1="60.60" y1="552.80" x2="60.60" y2="587.80" stroke="#666" stroke-width="1.3" />
<text transform="translate(69.8,544.0) rotate(-90)" font-size="9.2" fill="#231f20" textLength="19.3" lengthAdjust="spacingAndGlyphs" stroke="#231f20" stroke-width="0.12">J+S1</text>
<text transform="translate(69.8,581.0) rotate(-90)" font-size="9.2" fill="#231f20" textLength="19.3" lengthAdjust="spacingAndGlyphs" stroke="#231f20" stroke-width="0.12">J+S5</text>
<line x1="110.80" y1="494.00" x2="110.80" y2="591.00" stroke="#231f20" stroke-width="1.2" />
<line x1="110.20" y1="590.40" x2="179.70" y2="590.40" stroke="#231f20" stroke-width="1.2" />
<line x1="108.00" y1="590.40" x2="110.80" y2="590.40" stroke="#231f20" stroke-width="1.0" />
<text x="105.80" y="593.35" font-size="8.2" fill="#231f20" text-anchor="end" stroke="#231f20" stroke-width="0.12">0</text>
<line x1="108.00" y1="566.80" x2="110.80" y2="566.80" stroke="#231f20" stroke-width="1.0" />
<text x="105.80" y="569.75" font-size="8.2" fill="#231f20" text-anchor="end" stroke="#231f20" stroke-width="0.12">0.5</text>
<line x1="108.00" y1="543.20" x2="110.80" y2="543.20" stroke="#231f20" stroke-width="1.0" />
<text x="105.80" y="546.15" font-size="8.2" fill="#231f20" text-anchor="end" stroke="#231f20" stroke-width="0.12">1</text>
<line x1="108.00" y1="519.60" x2="110.80" y2="519.60" stroke="#231f20" stroke-width="1.0" />
<text x="105.80" y="522.55" font-size="8.2" fill="#231f20" text-anchor="end" stroke="#231f20" stroke-width="0.12">1.5</text>
<line x1="108.00" y1="496.00" x2="110.80" y2="496.00" stroke="#231f20" stroke-width="1.0" />
<text x="105.80" y="498.95" font-size="8.2" fill="#231f20" text-anchor="end" stroke="#231f20" stroke-width="0.12">2</text>
<rect x="115.60" y="533.00" width="11.10" height="57.40" fill="#de8a1e" stroke="none" stroke-width="1" />
<line x1="121.15" y1="590.40" x2="121.15" y2="593.20" stroke="#231f20" stroke-width="0.9" />
<line x1="121.15" y1="530.17" x2="121.15" y2="535.84" stroke="#000" stroke-width="0.9" />
<line x1="118.95" y1="530.17" x2="123.35" y2="530.17" stroke="#000" stroke-width="0.9" />
<line x1="118.95" y1="535.84" x2="123.35" y2="535.84" stroke="#000" stroke-width="0.9" />
<rect x="131.20" y="510.82" width="10.90" height="79.58" fill="#8a5117" stroke="none" stroke-width="1" />
<line x1="136.65" y1="590.40" x2="136.65" y2="593.20" stroke="#231f20" stroke-width="0.9" />
<line x1="136.65" y1="508.70" x2="136.65" y2="512.94" stroke="#000" stroke-width="0.9" />
<line x1="134.45" y1="508.70" x2="138.85" y2="508.70" stroke="#000" stroke-width="0.9" />
<line x1="134.45" y1="512.94" x2="138.85" y2="512.94" stroke="#000" stroke-width="0.9" />
<rect x="148.80" y="571.52" width="11.20" height="18.88" fill="#de8a1e" stroke="none" stroke-width="1" />
<line x1="154.40" y1="590.40" x2="154.40" y2="593.20" stroke="#231f20" stroke-width="0.9" />
<line x1="154.40" y1="569.63" x2="154.40" y2="573.41" stroke="#000" stroke-width="0.9" />
<line x1="152.20" y1="569.63" x2="156.60" y2="569.63" stroke="#000" stroke-width="0.9" />
<line x1="152.20" y1="573.41" x2="156.60" y2="573.41" stroke="#000" stroke-width="0.9" />
<rect x="164.30" y="555.00" width="11.00" height="35.40" fill="#8a5117" stroke="none" stroke-width="1" />
<line x1="169.80" y1="590.40" x2="169.80" y2="593.20" stroke="#231f20" stroke-width="0.9" />
<line x1="169.80" y1="552.88" x2="169.80" y2="557.12" stroke="#000" stroke-width="0.9" />
<line x1="167.60" y1="552.88" x2="172.00" y2="552.88" stroke="#000" stroke-width="0.9" />
<line x1="167.60" y1="557.12" x2="172.00" y2="557.12" stroke="#000" stroke-width="0.9" />
<text transform="translate(88.0,578.6) rotate(-90)" font-size="9.2" fill="#231f20" textLength="74" lengthAdjust="spacingAndGlyphs" stroke="#231f20" stroke-width="0.12">Suz12-APC MFI (x10<tspan font-size="5.2" dy="-3.2">2</tspan><tspan dy="3.2">)</tspan></text>
<text x="116.90" y="603.74" font-size="7.6" fill="#231f20" font-weight="normal" textLength="8.20" lengthAdjust="spacingAndGlyphs"  stroke="#231f20" stroke-width="0.12">EV</text>
<text x="128.25" y="603.74" font-size="7.6" fill="#231f20" font-weight="normal" textLength="17.50" lengthAdjust="spacingAndGlyphs"  stroke="#231f20" stroke-width="0.12">Suz12</text>
<text x="132.50" y="610.44" font-size="7.6" fill="#231f20" font-weight="normal" textLength="9.00" lengthAdjust="spacingAndGlyphs"  stroke="#231f20" stroke-width="0.12">OE</text>
<text x="150.50" y="603.74" font-size="7.6" fill="#231f20" font-weight="normal" textLength="8.20" lengthAdjust="spacingAndGlyphs"  stroke="#231f20" stroke-width="0.12">EV</text>
<text x="161.05" y="603.74" font-size="7.6" fill="#231f20" font-weight="normal" textLength="17.50" lengthAdjust="spacingAndGlyphs"  stroke="#231f20" stroke-width="0.12">Suz12</text>
<text x="165.30" y="610.44" font-size="7.6" fill="#231f20" font-weight="normal" textLength="9.00" lengthAdjust="spacingAndGlyphs"  stroke="#231f20" stroke-width="0.12">OE</text>
<line x1="118.00" y1="616.30" x2="144.60" y2="616.30" stroke="#231f20" stroke-width="0.9" />
<line x1="149.30" y1="616.30" x2="176.00" y2="616.30" stroke="#231f20" stroke-width="0.9" />
<text x="122.45" y="626.52" font-size="8.4" fill="#231f20" font-weight="normal" textLength="17.50" lengthAdjust="spacingAndGlyphs"  stroke="#231f20" stroke-width="0.12">J+S1</text>
<text x="153.25" y="626.52" font-size="8.4" fill="#231f20" font-weight="normal" textLength="17.50" lengthAdjust="spacingAndGlyphs"  stroke="#231f20" stroke-width="0.12">J+S5</text>
<text x="196.00" y="490.52" font-size="12" fill="#000" font-weight="bold" textLength="8.30" lengthAdjust="spacingAndGlyphs"  stroke="#000" stroke-width="0.12">H</text>
<line x1="195.40" y1="532.80" x2="255.30" y2="532.80" stroke="#f0cfa8" stroke-width="0.9" />
<line x1="195.40" y1="551.90" x2="255.30" y2="551.90" stroke="#f0cfa8" stroke-width="0.9" />
<line x1="195.40" y1="571.60" x2="255.30" y2="571.60" stroke="#f0cfa8" stroke-width="0.9" />
<path d="M195.40,532.80 L198.00,532.60 L201.00,531.00 L204.80,526.30 L207.50,520.00 L210.20,514.20 L212.50,509.00 L214.90,503.50 L216.80,504.50 L218.30,503.20 L220.00,501.50 L222.30,498.00 L224.00,499.50 L225.70,500.00 L227.50,504.00 L229.00,508.80 L231.00,514.00 L233.00,518.30 L235.00,523.00 L237.10,527.70 L239.50,531.00 L242.00,532.40 L248.00,532.80" fill="#cdb59d" fill-opacity="0.85" stroke="#b99673" stroke-width="0.7" stroke-linejoin="round"/>
<path d="M196.50,551.90 L197.50,545.00 L199.40,523.60 L201.40,518.30 L203.00,521.00 L205.00,524.00 L207.50,526.30 L212.00,529.50 L216.90,533.00 L221.50,537.50 L226.30,542.50 L230.00,546.50 L234.40,550.60 L237.10,551.90" fill="#f1cfa3" fill-opacity="0.72" stroke="#e2ae72" stroke-width="0.7" stroke-linejoin="round"/>
<path d="M200.00,571.60 L206.00,571.20 L211.50,569.50 L215.00,566.50 L218.00,561.00 L221.00,555.50 L224.00,551.00 L226.50,546.00 L228.50,540.00 L230.00,537.60 L231.50,538.00 L233.00,540.50 L234.50,544.00 L236.00,550.50 L237.50,560.00 L239.00,566.50 L241.00,570.50 L245.00,571.60" fill="#cdb59d" fill-opacity="0.85" stroke="#b99673" stroke-width="0.7" stroke-linejoin="round"/>
<path d="M197.40,590.90 L199.40,585.80 L201.50,576.00 L203.50,567.00 L206.50,561.00 L208.80,558.00 L210.20,556.60 L211.50,558.00 L212.50,556.80 L214.20,556.50 L215.50,558.00 L216.90,561.50 L219.00,568.00 L221.00,575.00 L225.00,581.70 L229.00,588.40 L232.00,590.30 L236.00,590.90" fill="#f1cfa3" fill-opacity="0.72" stroke="#e2ae72" stroke-width="0.7" stroke-linejoin="round"/>
<line x1="195.40" y1="590.90" x2="256.00" y2="590.90" stroke="#231f20" stroke-width="1.4" />
<polygon points="255.30,588.60 255.30,593.20 260.30,590.90" fill="#231f20" stroke="none" stroke-width="1" />
<line x1="198.00" y1="590.90" x2="198.00" y2="592.60" stroke="#231f20" stroke-width="0.7" />
<line x1="202.00" y1="590.90" x2="202.00" y2="592.60" stroke="#231f20" stroke-width="0.7" />
<line x1="205.00" y1="590.90" x2="205.00" y2="592.60" stroke="#231f20" stroke-width="0.7" />
<line x1="207.50" y1="590.90" x2="207.50" y2="592.60" stroke="#231f20" stroke-width="0.7" />
<line x1="209.50" y1="590.90" x2="209.50" y2="592.60" stroke="#231f20" stroke-width="0.7" />
<line x1="211.00" y1="590.90" x2="211.00" y2="592.60" stroke="#231f20" stroke-width="0.7" />
<line x1="219.00" y1="590.90" x2="219.00" y2="592.60" stroke="#231f20" stroke-width="0.7" />
<line x1="224.00" y1="590.90" x2="224.00" y2="592.60" stroke="#231f20" stroke-width="0.7" />
<line x1="228.00" y1="590.90" x2="228.00" y2="592.60" stroke="#231f20" stroke-width="0.7" />
<line x1="231.00" y1="590.90" x2="231.00" y2="592.60" stroke="#231f20" stroke-width="0.7" />
<line x1="233.00" y1="590.90" x2="233.00" y2="592.60" stroke="#231f20" stroke-width="0.7" />
<line x1="235.00" y1="590.90" x2="235.00" y2="592.60" stroke="#231f20" stroke-width="0.7" />
<line x1="243.00" y1="590.90" x2="243.00" y2="592.60" stroke="#231f20" stroke-width="0.7" />
<line x1="248.00" y1="590.90" x2="248.00" y2="592.60" stroke="#231f20" stroke-width="0.7" />
<line x1="251.00" y1="590.90" x2="251.00" y2="592.60" stroke="#231f20" stroke-width="0.7" />
<line x1="253.30" y1="590.90" x2="253.30" y2="592.60" stroke="#231f20" stroke-width="0.7" />
<text x="195.85" y="603.35" font-size="8.2" fill="#231f20" font-weight="normal" textLength="4.30" lengthAdjust="spacingAndGlyphs"  stroke="#231f20" stroke-width="0.12">0</text>
<text x="205.80" y="603.4" font-size="8.2" fill="#231f20" stroke="#231f20" stroke-width="0.12">10<tspan font-size="5.2" dy="-3.3">3</tspan></text>
<text x="229.80" y="603.4" font-size="8.2" fill="#231f20" stroke="#231f20" stroke-width="0.12">10<tspan font-size="5.2" dy="-3.3">4</tspan></text>
<text x="248.10" y="603.4" font-size="8.2" fill="#231f20" stroke="#231f20" stroke-width="0.12">10<tspan font-size="5.2" dy="-3.3">5</tspan></text>
<text x="200.80" y="616.36" font-size="9.6" fill="#231f20" font-weight="normal" textLength="54.40" lengthAdjust="spacingAndGlyphs"  stroke="#231f20" stroke-width="0.12">H3K27me3-APC</text>
<text x="233.70" y="520.55" font-size="8.2" fill="#231f20" font-weight="normal" textLength="19.30" lengthAdjust="spacingAndGlyphs"  stroke="#231f20" stroke-width="0.12">Suz12</text>
<text x="243.10" y="529.25" font-size="8.2" fill="#231f20" font-weight="normal" textLength="9.90" lengthAdjust="spacingAndGlyphs"  stroke="#231f20" stroke-width="0.12">OE</text>
<text x="244.20" y="543.45" font-size="8.2" fill="#231f20" font-weight="normal" textLength="8.80" lengthAdjust="spacingAndGlyphs"  stroke="#231f20" stroke-width="0.12">EV</text>
<text x="233.70" y="561.75" font-size="8.2" fill="#231f20" font-weight="normal" textLength="19.30" lengthAdjust="spacingAndGlyphs"  stroke="#231f20" stroke-width="0.12">Suz12</text>
<text x="243.10" y="570.45" font-size="8.2" fill="#231f20" font-weight="normal" textLength="9.90" lengthAdjust="spacingAndGlyphs"  stroke="#231f20" stroke-width="0.12">OE</text>
<text x="244.20" y="584.65" font-size="8.2" fill="#231f20" font-weight="normal" textLength="8.80" lengthAdjust="spacingAndGlyphs"  stroke="#231f20" stroke-width="0.12">EV</text>
<line x1="256.90" y1="516.20" x2="256.90" y2="551.20" stroke="#666" stroke-width="1.3" />
<line x1="256.90" y1="552.80" x2="256.90" y2="587.80" stroke="#666" stroke-width="1.3" />
<text transform="translate(265.0,544.0) rotate(-90)" font-size="9.2" fill="#231f20" textLength="19.3" lengthAdjust="spacingAndGlyphs" stroke="#231f20" stroke-width="0.12">J+S1</text>
<text transform="translate(265.0,581.0) rotate(-90)" font-size="9.2" fill="#231f20" textLength="19.3" lengthAdjust="spacingAndGlyphs" stroke="#231f20" stroke-width="0.12">J+S5</text>
<line x1="299.80" y1="494.60" x2="299.80" y2="591.00" stroke="#231f20" stroke-width="1.2" />
<line x1="299.20" y1="590.40" x2="368.50" y2="590.40" stroke="#231f20" stroke-width="1.2" />
<line x1="297.00" y1="590.40" x2="299.80" y2="590.40" stroke="#231f20" stroke-width="1.0" />
<text x="294.80" y="593.35" font-size="8.2" fill="#231f20" text-anchor="end" stroke="#231f20" stroke-width="0.12">0</text>
<line x1="297.00" y1="559.10" x2="299.80" y2="559.10" stroke="#231f20" stroke-width="1.0" />
<text x="294.80" y="562.05" font-size="8.2" fill="#231f20" text-anchor="end" stroke="#231f20" stroke-width="0.12">2</text>
<line x1="297.00" y1="527.80" x2="299.80" y2="527.80" stroke="#231f20" stroke-width="1.0" />
<text x="294.80" y="530.75" font-size="8.2" fill="#231f20" text-anchor="end" stroke="#231f20" stroke-width="0.12">4</text>
<line x1="297.00" y1="496.50" x2="299.80" y2="496.50" stroke="#231f20" stroke-width="1.0" />
<text x="294.80" y="499.45" font-size="8.2" fill="#231f20" text-anchor="end" stroke="#231f20" stroke-width="0.12">6</text>
<rect x="305.00" y="573.50" width="10.80" height="16.90" fill="#de8a1e" stroke="none" stroke-width="1" />
<line x1="310.40" y1="590.40" x2="310.40" y2="593.20" stroke="#231f20" stroke-width="0.9" />
<line x1="310.40" y1="570.37" x2="310.40" y2="576.63" stroke="#000" stroke-width="0.9" />
<line x1="308.20" y1="570.37" x2="312.60" y2="570.37" stroke="#000" stroke-width="0.9" />
<line x1="308.20" y1="576.63" x2="312.60" y2="576.63" stroke="#000" stroke-width="0.9" />
<rect x="320.40" y="552.84" width="10.80" height="37.56" fill="#8a5117" stroke="none" stroke-width="1" />
<line x1="325.80" y1="590.40" x2="325.80" y2="593.20" stroke="#231f20" stroke-width="0.9" />
<line x1="325.80" y1="551.90" x2="325.80" y2="553.78" stroke="#000" stroke-width="0.9" />
<line x1="323.60" y1="551.90" x2="328.00" y2="551.90" stroke="#000" stroke-width="0.9" />
<line x1="323.60" y1="553.78" x2="328.00" y2="553.78" stroke="#000" stroke-width="0.9" />
<rect x="338.70" y="570.21" width="10.70" height="20.19" fill="#de8a1e" stroke="none" stroke-width="1" />
<line x1="344.05" y1="590.40" x2="344.05" y2="593.20" stroke="#231f20" stroke-width="0.9" />
<line x1="344.05" y1="566.30" x2="344.05" y2="574.12" stroke="#000" stroke-width="0.9" />
<line x1="341.85" y1="566.30" x2="346.25" y2="566.30" stroke="#000" stroke-width="0.9" />
<line x1="341.85" y1="574.12" x2="346.25" y2="574.12" stroke="#000" stroke-width="0.9" />
<rect x="354.20" y="503.07" width="10.60" height="87.33" fill="#8a5117" stroke="none" stroke-width="1" />
<line x1="359.50" y1="590.40" x2="359.50" y2="593.20" stroke="#231f20" stroke-width="0.9" />
<line x1="359.50" y1="501.51" x2="359.50" y2="504.64" stroke="#000" stroke-width="0.9" />
<line x1="357.30" y1="501.51" x2="361.70" y2="501.51" stroke="#000" stroke-width="0.9" />
<line x1="357.30" y1="504.64" x2="361.70" y2="504.64" stroke="#000" stroke-width="0.9" />
<text transform="translate(284.0,587.5) rotate(-90)" font-size="9.2" fill="#231f20" textLength="91" lengthAdjust="spacingAndGlyphs" stroke="#231f20" stroke-width="0.12">H3K27me3-APC MFI (x10<tspan font-size="5.2" dy="-3.2">3</tspan><tspan dy="3.2">)</tspan></text>
<text x="306.30" y="603.74" font-size="7.6" fill="#231f20" font-weight="normal" textLength="8.20" lengthAdjust="spacingAndGlyphs"  stroke="#231f20" stroke-width="0.12">EV</text>
<text x="317.05" y="603.74" font-size="7.6" fill="#231f20" font-weight="normal" textLength="17.50" lengthAdjust="spacingAndGlyphs"  stroke="#231f20" stroke-width="0.12">Suz12</text>
<text x="321.30" y="610.44" font-size="7.6" fill="#231f20" font-weight="normal" textLength="9.00" lengthAdjust="spacingAndGlyphs"  stroke="#231f20" stroke-width="0.12">OE</text>
<text x="339.70" y="603.74" font-size="7.6" fill="#231f20" font-weight="normal" textLength="8.20" lengthAdjust="spacingAndGlyphs"  stroke="#231f20" stroke-width="0.12">EV</text>
<text x="351.65" y="603.74" font-size="7.6" fill="#231f20" font-weight="normal" textLength="17.50" lengthAdjust="spacingAndGlyphs"  stroke="#231f20" stroke-width="0.12">Suz12</text>
<text x="355.90" y="610.44" font-size="7.6" fill="#231f20" font-weight="normal" textLength="9.00" lengthAdjust="spacingAndGlyphs"  stroke="#231f20" stroke-width="0.12">OE</text>
<line x1="306.90" y1="616.30" x2="334.00" y2="616.30" stroke="#231f20" stroke-width="0.9" />
<line x1="338.80" y1="616.30" x2="365.80" y2="616.30" stroke="#231f20" stroke-width="0.9" />
<text x="311.65" y="626.52" font-size="8.4" fill="#231f20" font-weight="normal" textLength="17.50" lengthAdjust="spacingAndGlyphs"  stroke="#231f20" stroke-width="0.12">J+S1</text>
<text x="343.95" y="626.52" font-size="8.4" fill="#231f20" font-weight="normal" textLength="17.50" lengthAdjust="spacingAndGlyphs"  stroke="#231f20" stroke-width="0.12">J+S5</text>
<text x="386.30" y="490.62" font-size="12" fill="#000" font-weight="bold" textLength="3.30" lengthAdjust="spacingAndGlyphs"  stroke="#000" stroke-width="0.12">I</text>
<line x1="414.70" y1="512.00" x2="414.70" y2="590.40" stroke="#231f20" stroke-width="1.3" />
<line x1="414.10" y1="589.80" x2="512.00" y2="589.80" stroke="#231f20" stroke-width="1.3" />
<line x1="411.90" y1="589.80" x2="414.70" y2="589.80" stroke="#231f20" stroke-width="1.0" />
<line x1="412.90" y1="571.15" x2="414.70" y2="571.15" stroke="#231f20" stroke-width="1.0" />
<line x1="411.90" y1="552.50" x2="414.70" y2="552.50" stroke="#231f20" stroke-width="1.0" />
<line x1="412.90" y1="533.85" x2="414.70" y2="533.85" stroke="#231f20" stroke-width="1.0" />
<line x1="411.90" y1="515.20" x2="414.70" y2="515.20" stroke="#231f20" stroke-width="1.0" />
<text x="409.6" y="592.75" font-size="8.2" fill="#231f20" text-anchor="end" stroke="#231f20" stroke-width="0.12">0</text>
<text x="409.6" y="555.45" font-size="8.2" fill="#231f20" text-anchor="end" stroke="#231f20" stroke-width="0.12">50</text>
<text x="409.6" y="518.15" font-size="8.2" fill="#231f20" text-anchor="end" stroke="#231f20" stroke-width="0.12">100</text>
<line x1="420.50" y1="589.80" x2="420.50" y2="592.80" stroke="#231f20" stroke-width="0.9" />
<line x1="432.83" y1="589.80" x2="432.83" y2="592.80" stroke="#231f20" stroke-width="0.9" />
<line x1="445.16" y1="589.80" x2="445.16" y2="592.80" stroke="#231f20" stroke-width="0.9" />
<line x1="457.49" y1="589.80" x2="457.49" y2="592.80" stroke="#231f20" stroke-width="0.9" />
<line x1="469.82" y1="589.80" x2="469.82" y2="592.80" stroke="#231f20" stroke-width="0.9" />
<line x1="482.15" y1="589.80" x2="482.15" y2="592.80" stroke="#231f20" stroke-width="0.9" />
<line x1="494.48" y1="589.80" x2="494.48" y2="592.80" stroke="#231f20" stroke-width="0.9" />
<line x1="506.81" y1="589.80" x2="506.81" y2="592.80" stroke="#231f20" stroke-width="0.9" />
<text x="418.35" y="603.45" font-size="8.2" fill="#231f20" font-weight="normal" textLength="4.30" lengthAdjust="spacingAndGlyphs"  stroke="#231f20" stroke-width="0.12">0</text>
<text x="430.68" y="603.45" font-size="8.2" fill="#231f20" font-weight="normal" textLength="4.30" lengthAdjust="spacingAndGlyphs"  stroke="#231f20" stroke-width="0.12">1</text>
<text x="443.01" y="603.45" font-size="8.2" fill="#231f20" font-weight="normal" textLength="4.30" lengthAdjust="spacingAndGlyphs"  stroke="#231f20" stroke-width="0.12">2</text>
<text x="480.00" y="603.45" font-size="8.2" fill="#231f20" font-weight="normal" textLength="4.30" lengthAdjust="spacingAndGlyphs"  stroke="#231f20" stroke-width="0.12">5</text>
<text x="504.66" y="603.45" font-size="8.2" fill="#231f20" font-weight="normal" textLength="4.30" lengthAdjust="spacingAndGlyphs"  stroke="#231f20" stroke-width="0.12">7</text>
<text x="443.95" y="615.00" font-size="10" fill="#231f20" font-weight="normal" textLength="39.50" lengthAdjust="spacingAndGlyphs"  stroke="#231f20" stroke-width="0.12">Time (days)</text>
<text transform="translate(389.6,596) rotate(-90)" font-size="9.2" fill="#231f20" textLength="90" lengthAdjust="spacingAndGlyphs" stroke="#231f20" stroke-width="0.12">% mCherry relative to day 0</text>
<polyline points="420.50,515.20 445.16,515.20 482.15,515.57 506.81,514.83" fill="none" stroke="#e8982e" stroke-width="1.0" />
<circle cx="420.50" cy="515.20" r="1.4" fill="#e8982e"/>
<circle cx="445.16" cy="515.20" r="1.4" fill="#e8982e"/>
<circle cx="482.15" cy="515.57" r="1.4" fill="#e8982e"/>
<circle cx="506.81" cy="514.83" r="1.4" fill="#e8982e"/>
<polyline points="420.50,515.20 445.16,515.20 482.15,518.93 506.81,517.81" fill="none" stroke="#e8982e" stroke-width="1.0" />
<circle cx="420.50" cy="515.20" r="1.4" fill="#e8982e"/>
<circle cx="445.16" cy="515.20" r="1.4" fill="#e8982e"/>
<circle cx="482.15" cy="518.93" r="1.4" fill="#e8982e"/>
<circle cx="506.81" cy="517.81" r="1.4" fill="#e8982e"/>
<polyline points="420.50,515.20 445.16,535.12 482.15,535.86 506.81,532.21" fill="none" stroke="#a0601e" stroke-width="1.0" />
<circle cx="420.50" cy="515.20" r="1.4" fill="#a0601e"/>
<circle cx="445.16" cy="535.12" r="1.4" fill="#a0601e"/>
<circle cx="482.15" cy="535.86" r="1.4" fill="#a0601e"/>
<circle cx="506.81" cy="532.21" r="1.4" fill="#a0601e"/>
<polyline points="420.50,515.20 445.16,522.29 482.15,541.83 506.81,544.14" fill="none" stroke="#9a5a18" stroke-width="1.0" />
<circle cx="420.50" cy="515.20" r="1.4" fill="#9a5a18"/>
<circle cx="445.16" cy="522.29" r="1.4" fill="#9a5a18"/>
<circle cx="482.15" cy="541.83" r="1.4" fill="#9a5a18"/>
<circle cx="506.81" cy="544.14" r="1.4" fill="#9a5a18"/>
<line x1="421.00" y1="550.00" x2="428.50" y2="550.00" stroke="#e8982e" stroke-width="1.0" />
<circle cx="424.8" cy="550.0" r="1.2" fill="#e8982e"/>
<text x="431.00" y="552.95" font-size="8.2" fill="#231f20" font-weight="normal" textLength="8.60" lengthAdjust="spacingAndGlyphs"  stroke="#231f20" stroke-width="0.12">EV</text>
<line x1="421.00" y1="558.10" x2="428.50" y2="558.10" stroke="#a0601e" stroke-width="1.0" />
<circle cx="424.8" cy="558.1" r="1.2" fill="#a0601e"/>
<text x="429.40" y="561.05" font-size="8.2" fill="#231f20" font-weight="normal" textLength="33.50" lengthAdjust="spacingAndGlyphs"  stroke="#231f20" stroke-width="0.12">Suz12 OE</text>
<line x1="421.00" y1="571.60" x2="428.50" y2="571.60" stroke="#e8982e" stroke-width="1.0" />
<circle cx="424.8" cy="571.6" r="1.2" fill="#e8982e"/>
<text x="431.00" y="574.55" font-size="8.2" fill="#231f20" font-weight="normal" textLength="8.60" lengthAdjust="spacingAndGlyphs"  stroke="#231f20" stroke-width="0.12">EV</text>
<line x1="421.00" y1="578.80" x2="428.50" y2="578.80" stroke="#a0601e" stroke-width="1.0" />
<circle cx="424.8" cy="578.8" r="1.2" fill="#a0601e"/>
<text x="429.40" y="581.75" font-size="8.2" fill="#231f20" font-weight="normal" textLength="33.50" lengthAdjust="spacingAndGlyphs"  stroke="#231f20" stroke-width="0.12">Suz12 OE</text>
<line x1="466.60" y1="545.80" x2="466.60" y2="562.60" stroke="#231f20" stroke-width="1.0" />
<line x1="466.60" y1="567.30" x2="466.60" y2="583.20" stroke="#231f20" stroke-width="1.0" />
<text x="469.60" y="556.82" font-size="8.4" fill="#231f20" font-weight="normal" textLength="18.20" lengthAdjust="spacingAndGlyphs"  stroke="#231f20" stroke-width="0.12">J+S5</text>
<text x="469.50" y="577.52" font-size="8.4" fill="#231f20" font-weight="normal" textLength="17.30" lengthAdjust="spacingAndGlyphs"  stroke="#231f20" stroke-width="0.12">J+S1</text>
<rect x="0.6" y="0.6" width="518.8" height="633.8" fill="none" stroke="#000" stroke-width="1.2"/>
</svg></body></html>
